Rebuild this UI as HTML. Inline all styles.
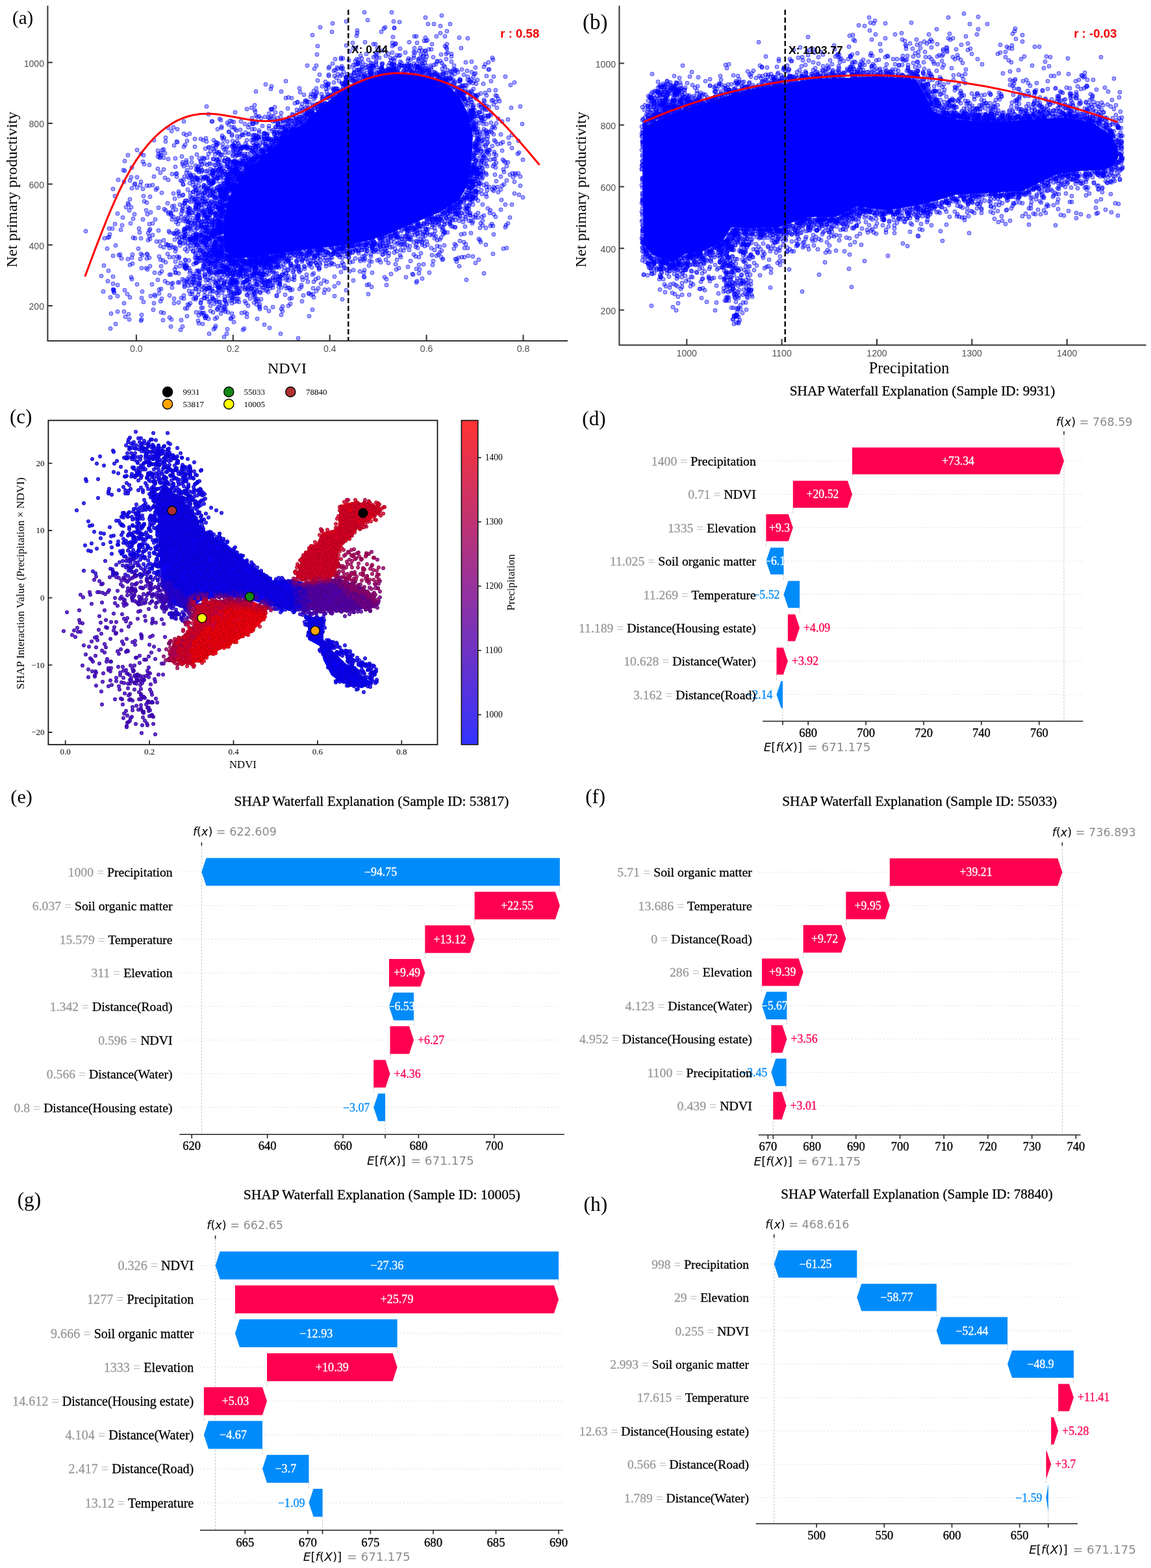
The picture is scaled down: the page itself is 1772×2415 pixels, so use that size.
<!DOCTYPE html><html><head><meta charset="utf-8"><style>html,body{margin:0;padding:0;background:#fff;overflow:hidden}svg{display:block}</style></head><body><svg width="1772" height="2415" viewBox="0 0 1772 2415"><defs><marker id="mb" markerUnits="userSpaceOnUse" markerWidth="10" markerHeight="10" refX="5" refY="5" overflow="visible"><circle cx="5" cy="5" r="3.0" fill="rgba(0,0,255,0.36)" stroke="rgba(0,0,255,0.6)" stroke-width="1"/></marker></defs><path d="M536 133 560 122 590 115 615 112 645 114 670 120 690 131 708 150 722 178 728 209 726 248 721 283 706 309 677 327 641 342 604 358 570 370 533 377 500 381 467 385 430 390 392 396 360 398 346 386 343 345 352 305 370 275 395 250 418 230 440 208 467 190 500 160Z" fill="#0000ff"/>
<path d="M465 403 728 198 706 327 325 359 315 252 334 234 592 113 728 238 417 221 418 411 732 283 424 429 338 250 358 401 302 292 421 225 642 98 730 238 321 416 390 404 665 334 366 250 359 401 301 366 342 415 357 462 336 449 393 411 496 151 319 263 374 259 339 283 595 430 305 369 411 433 340 342 346 326 276 435 367 403 643 105 320 369 344 393 380 254 400 476 232 327 711 107 713 147 317 371 347 328 395 187 328 245 547 117 421 427 220 338 385 439 337 288 332 342 640 350 682 118 428 189 322 320 581 112 531 381 563 377 631 108 441 421 349 413 338 390 378 221 316 331 235 285 469 171 747 166 417 400 745 199 740 229 308 402 196 453 698 335 565 120 657 345 243 241 760 207 199 492 437 198 650 374 363 408 395 398 464 181 569 105 323 443 494 383 397 403 422 207 378 265 402 233 537 93 522 143 589 375 395 405 261 423 392 241 306 339 711 303 284 358 705 320 644 103 353 285 321 406 693 320 432 213 334 379 491 415 396 180 702 330 572 102 357 262 360 291 496 385 624 351 733 299 366 444 436 391 324 314 396 403 303 337 602 93 778 315 718 319 324 404 367 235 729 244 335 274 612 361 402 232 478 149 529 111 364 274 746 163 728 192 409 225 574 371 728 258 331 491 380 227 305 302 317 292 513 148 726 140 373 414 725 299 413 395 371 271 609 67 533 33 327 347 337 465 338 274 375 208 593 42 693 319 631 379 385 248 743 259 723 124 375 435 479 179 700 376 313 310 361 253 329 382 340 388 675 118 437 417 383 206 367 270 535 124 289 319 316 366 304 306 421 200 567 102 281 250 414 232 722 316 521 140 393 409 287 208 312 415 411 412 291 401 726 288 735 232 375 435 340 356 469 414 558 395 323 406 294 343 324 329 285 353 561 117 493 386 325 408 755 348 259 329 569 402 272 267 320 326 371 418 403 427 665 116 688 75 467 168 338 417 462 388 472 177 722 317 724 281 735 208 738 266 537 397 312 393 442 186 647 349 336 336 586 404 345 305 468 410 733 247 433 485 570 114 550 99 489 160 364 438 200 458 321 422 399 472 277 410 436 391 706 125 349 394 204 392 693 320 358 442 647 74 380 263 358 217 321 279 452 199 744 243 636 111 686 121 696 110 409 396 354 422 739 257 338 183 339 385 357 295 697 339 573 420 443 167 330 380 708 122 312 499 717 337 245 395 374 414 589 98 425 213 296 277 729 304 695 95 326 293 299 436 350 276 392 433 284 367 350 281 401 398 346 474 736 146 631 106 667 402 586 113 378 403 490 398 312 482 641 377 488 409 361 261 302 445 748 253 295 372 177 345 680 122 387 404 266 324 339 444 300 344 331 380 248 239 715 153 437 208 217 367 785 269 339 349 345 248 774 219 448 191 673 94 345 282 322 465 349 514 710 361 441 431 743 239 545 112 331 373 711 307 669 367 435 186 357 422 405 220 393 403 337 293 314 244 235 344 605 106 710 149 347 480 333 279 328 281 301 364 760 195 288 368 594 115 728 286 557 116 477 388 730 221 729 178 338 311 293 370 332 435 310 363 305 494 298 363 792 298 211 231 735 204 345 420 333 367 737 190 306 316 306 314 549 55 386 402 355 404 278 374 508 408 762 197 728 169 389 210 354 278 312 387 368 398 383 452 624 364 356 436 296 453 449 187 335 354 701 329 344 296 340 318 633 347 712 155 656 353 699 128 749 303 607 104 361 226 414 413 475 171 309 315 720 382 369 422 430 391 331 440 627 106 278 508 362 287 507 146 390 208 479 397 377 243 342 395 570 101 367 266 319 366 264 202 666 346 335 264 717 334 412 405 543 123 413 440 412 233 618 101 373 402 281 317 753 238 547 100 219 393 724 280 524 384 412 206 681 122 740 373 352 447 343 400 354 260 268 460 437 394 545 106 284 409 729 266 670 356 380 251 320 414 355 491 728 315 409 222 466 189 377 402 310 483 329 326 515 441 673 379 394 209 752 107 394 178 565 382 679 335 359 292 344 325 594 109 381 229 323 335 350 271 294 369 578 68 499 451 332 373 636 354 580 88 369 211 732 295 392 422 598 373 588 105 702 315 722 128 473 175 700 107 288 217 316 310 698 123 278 405 424 222 413 450 562 115 518 120 318 346 532 119 357 295 738 229 439 196 609 68 552 115 228 370 506 105 605 57 622 102 317 213 727 255 368 239 651 86 382 409 304 421 421 217 284 440 432 187 441 201 443 401 704 312 419 395 382 447 412 399 343 381 201 344 390 215 464 392 344 366 717 161 554 379 431 438 348 317 281 325 282 321 424 173 606 367 310 474 328 481 417 216 655 352 519 387 290 327 318 292 447 388 349 314 757 155 230 397 740 181 290 342 377 434 788 315 239 456 798 217 661 420 333 462 348 315 314 486 719 304 350 280 601 365 333 401 716 131 708 313 629 90 438 208 703 329 345 328 720 159 318 381 500 446 319 382 732 230 337 368 734 203 364 282 708 371 689 81 561 114 322 385 738 263 364 267 367 272 315 449 726 298 725 122 776 265 292 206 351 253 237 467 312 374 461 419 328 339 329 303 358 257 488 394 305 340 501 387 407 205 413 181 282 284 291 274 713 143 550 47 788 228 462 142 464 171 316 342 724 186 566 375 286 413 329 393 336 406 182 277 732 196 311 441 588 100 436 186 724 289 708 333 606 99 361 230 407 413 344 325 414 405 749 147 760 361 352 235 576 388 404 424 347 243 367 275 327 352 347 296 298 324 414 479 520 384 657 342 405 229 343 333 307 244 717 143 741 182 727 281 386 401 537 396 421 417 766 288 728 395 366 270 393 406 334 383 535 114 269 306 173 352 373 245 481 176 360 224 772 308 339 260 181 329 372 237 432 215 382 444 402 242 291 309 740 266 294 355 293 453 349 253 670 338 422 403 444 432 359 265 655 363 731 226 305 351 376 263 391 407 673 342 461 188 301 426 367 221 425 203 584 111 612 366 322 347 285 313 300 434 341 396 371 401 526 128 294 343 734 230 516 108 413 441 799 300 300 374 468 146 602 422 590 373 409 399 400 407 282 300 395 433 566 120 390 398 658 377 230 364 598 101 328 302 785 335 706 311 377 464 552 107 312 243 338 367 517 140 382 257 724 283 745 210 700 325 255 404 356 449 515 117 736 296 301 445 543 389 381 403 476 452 342 378 331 361 644 347 382 257 730 114 280 241 328 225 509 397 523 380 513 391 351 413 368 276 505 388 312 328 511 148 552 387 284 410 329 216 616 95 629 366 428 403 727 259 370 271 642 108 270 420 315 311 691 325 571 115 599 360 699 383 624 370 355 402 442 401 346 301 426 456 395 222 498 385 486 404 709 143 444 426 355 410 376 406 708 319 333 223 360 496 336 357 649 110 481 161 483 434 372 251 341 367 301 288 648 390 308 279 745 241 334 388 372 403 327 283 356 279 329 379 632 92 695 87 379 407 343 373 775 261 626 107 514 143 511 405 433 393 383 260 364 431 361 271 330 468 571 97 404 419 804 191 388 182 310 342 431 426 321 407 451 391 391 450 288 262 398 404 337 397 778 350 487 393 431 435 374 228 265 268 562 385 345 473 324 447 523 392 463 189 332 414 729 198 718 431 662 362 692 325 301 273 370 424 494 383 293 417 298 422 353 396 669 112 728 170 321 317 643 360 645 408 251 401 349 278 461 170 575 387 333 355 403 243 332 386 289 380 294 270 496 163 665 361 398 237 481 175 540 123 693 121 247 379 692 120 715 150 351 281 263 328 177 302 708 319 590 110 292 321 736 179 778 250 714 115 431 427 324 295 590 109 714 310 327 343 344 410 742 248 379 402 470 184 349 410 440 389 374 426 661 109 392 423 343 289 556 114 434 213 424 187 633 369 337 320 428 410 532 413 326 282 734 272 305 260 390 191 633 101 681 350 763 334 740 344 369 273 427 394 729 194 698 319 733 152 323 414 362 241 370 263 756 201 370 421 441 190 572 378 505 392 357 483 635 422 623 104 722 328 371 187 734 262 678 40 568 409 408 431 325 361 304 404 363 411 437 209 762 245 387 166 593 363 346 264 406 239 493 385 321 389 737 287 348 229 301 392 395 250 338 410 565 375 450 430 377 481 425 396 406 395 500 393 311 253 392 237 428 192 355 258 485 147 681 400 335 399 359 450 313 332 688 324 385 408 736 214 656 63 433 396 271 420 471 398 408 418 560 420 342 328 537 132 703 108 698 135 347 268 307 423 728 175 287 250 334 330 487 144 584 400 322 443 619 364 409 230 570 114 365 405 440 398 645 421 393 414 372 270 477 391 645 372 404 433 428 407 471 185 450 176 340 388 336 380 742 172 523 383 572 119 283 364 671 337 540 116 748 244 678 51 334 393 353 401 347 476 356 431 344 305 302 318 391 411 578 385 428 426 450 389 575 88 714 153 728 245 383 405 341 353 402 241 773 232 467 183 251 493 805 304 380 423 277 340 585 377 363 258 434 211 726 293 341 286 604 71 429 449 395 469 402 406 357 225 467 395 297 304 728 171 741 247 321 336 388 245 359 289 465 187 346 461 427 398 298 270 737 215 343 326 506 149 393 419 237 216 512 382 302 397 689 108 300 397 364 434 481 390 390 245 281 503 574 101 776 248 723 144 336 473 501 131 555 86 406 235 381 405 341 297 377 405 362 286 395 215 359 436 740 144 368 278 249 460 313 387 387 445 737 173 564 108 572 116 258 313 528 134 340 327 363 403 394 221 353 248 588 371 706 315 362 267 660 108 168 352 380 406 740 161 799 235 751 235 712 337 415 401 355 421 348 467 359 424 487 385 608 108 721 288 543 403 622 373 330 358 448 200 734 215 309 350 769 156 600 107 726 162 309 248 378 417 435 207 340 333 372 227 351 416 521 393 373 402 288 387 521 436 272 272 567 92 610 415 673 95 187 398 392 234 317 440 259 197 275 398 476 386 641 414 344 273 402 244 773 286 513 145 763 139 314 285 362 199 632 365 458 389 365 261 213 383 385 460 359 424 355 286 613 374 682 399 340 351 399 215 284 363 581 383 192 447 359 488 528 378 527 141 411 214 398 245 562 65 514 387 711 133 341 391 335 341 271 383 767 183 457 169 443 193 703 399 347 410 459 409 680 386 732 268 411 213 361 457 530 387 746 156 295 305 447 406 339 287 275 357 343 303 346 400 429 442 727 288 334 223 375 248 520 382 586 372 472 185 410 217 506 135 307 429 357 209 286 414 337 339 404 435 397 435 414 213 393 411 380 431 354 422 373 226 609 363 733 129 156 425 283 277 453 427 613 365 176 451 621 109 364 201 527 381 324 326 725 149 343 318 397 419 178 378 389 412 340 301 532 127 314 289 379 255 444 401 342 313 372 253 623 102 287 266 414 194 480 176 626 353 435 392 362 434 382 196 405 423 657 87 218 459 380 454 433 391 420 428 329 449 312 301 735 260 751 219 407 401 728 189 544 74 702 378 421 402 447 194 405 443 771 207 334 220 346 387 340 394 472 392 504 146 544 432 723 286 362 452 359 421 395 426 346 292 551 378 301 431 401 451 362 419 490 428 565 386 303 238 307 381 369 450 318 457 327 187 657 108 338 292 622 109 273 395 407 205 506 115 375 253 348 403 335 389 234 438 320 431 324 252 301 371 359 238 324 355 364 403 492 405 387 252 705 335 211 438 415 228 300 214 297 425 384 430 400 474 472 399 731 222 394 141 359 279 247 242 465 464 743 315 273 199 362 220 460 417 306 398 461 136 308 386 722 175 634 362 392 169 336 348 351 246 250 231 332 254 320 350 260 356 499 401 297 285 333 392 390 254 640 101 388 233 618 356 328 282 340 354 352 289 753 178 596 107 685 71 562 374 331 405 733 267 681 125 359 262 392 227 744 191 507 103 365 239 710 145 396 243 322 347 345 384 331 336 386 247 336 349 411 208 758 292 197 399 327 448 598 367 171 483 348 291 691 323 700 126 485 385 738 209 684 378 341 344 756 189 688 48 359 433 689 123 230 355 469 388 692 325 192 248 355 416 675 341 304 336 302 281 427 399 318 314 321 491 547 386 725 266 382 471 304 362 656 83 506 390 380 224 589 108 449 202 681 106 340 185 753 165 338 324 341 431 339 296 422 218 303 313 460 410 721 303 478 387 352 284 325 389 326 405 291 427 385 397 317 311 285 475 351 394 364 249 550 108 463 188 396 236 330 365 343 379 361 408 424 400 415 434 347 299 332 382 367 229 759 348 313 274 727 304 558 103 353 268 341 238 409 438 665 338 644 113 473 390 383 244 601 109 392 402 303 417 601 363 459 521 630 385 379 426 737 173 694 318 396 406 328 393 582 388 349 269 346 435 691 120 361 465 303 365 444 416 718 305 735 222 637 89 568 438 429 218 378 256 369 266 475 452 399 224 487 448 351 257 704 328 346 307 357 292 427 392 338 333 404 234 743 222 549 91 335 301 394 402 527 129 462 180 540 117 789 267 458 157 265 443 348 291 435 472 724 332 283 256 215 358 551 124 360 404 493 42 367 424 544 121 243 232 624 353 746 167 474 392 453 431 370 247 657 338 353 394 726 282 400 222 327 355 736 335 712 135 275 298 471 176 383 250 342 471 516 387 741 233 726 157 353 267 513 136 478 385 561 381 392 415 276 302 226 391 358 459 288 327 707 410 322 227 571 107 554 124 400 422 513 138 376 401 749 191 750 214 693 130 467 455 392 399 302 261 368 449 336 319 716 300 638 114 280 323 571 113 275 466 409 397 476 487 380 433 431 401 358 291 356 407 529 407 555 402 442 185 579 100 321 341 744 129 354 302 358 240 695 135 426 397 301 317 307 364 289 292 792 127 384 404 696 337 718 317 485 394 492 115 368 224 459 184 445 181 499 160 684 356 684 346 338 429 330 377 349 390 283 226 688 68 450 446 266 381 338 237 316 377 482 177 691 334 483 421 496 163 528 383 362 267 641 56 326 268 367 460 309 289 328 263 293 270 339 393 341 357 701 135 517 391 273 219 689 358 291 328 329 343 340 371 729 231 709 123 357 267 707 134 399 400 598 376 310 346 744 264 737 368 350 416 347 394 608 383 254 236 377 237 222 310 401 407 352 203 424 432 549 126 409 206 310 391 327 363 717 376 603 107 558 96 735 235 440 151 370 419 327 266 200 278 305 261 342 386 341 302 302 405 457 191 677 121 571 373 389 189 382 207 382 255 598 108 709 312 252 381 365 450 492 159 612 111 629 104 688 128 766 222 407 402 551 99 533 120 386 254 320 290 409 411 744 160 358 429 430 412 374 251 687 83 750 234 780 256 625 363 325 324 523 140 367 230 361 280 387 216 345 212 620 376 364 236 350 507 395 464 313 392 437 186 336 442 699 101 430 403 484 106 342 358 671 364 363 255 762 269 392 399 424 422 603 107 340 344 353 396 327 346 725 290 309 258 661 115 489 164 309 372 295 273 359 437 557 103 736 328 339 390 757 345 602 372 667 88 650 377 792 280 340 380 503 151 344 215 742 166 736 231 415 228 330 374 332 318 346 306 514 127 365 252 393 242 160 409 573 110 237 272 333 333 402 396 548 127 301 390 274 336 717 142 292 353 319 356 647 113 343 427 712 142 580 83 341 294 356 289 345 230 301 322 306 286 327 360 695 83 722 289 604 99 447 409 496 385 641 344 389 231 681 327 321 397 730 180 652 407 340 383 351 245 759 256 411 401 323 432 350 295 483 458 527 383 339 377 730 266 327 346 517 387 731 296 401 236 654 109 284 337 651 102 330 265 217 280 503 388 576 375 543 388 547 121 336 270 404 194 342 309 407 432 684 120 477 176 338 358 687 121 391 224 395 189 750 206 590 366 430 218 313 376 321 324 249 418 298 460 682 111 334 451 329 229 652 346 303 293 688 323 708 147 330 408 801 164 317 372 729 276 651 361 451 177 669 351 457 388 342 209 691 341 479 405 735 123 763 147 353 416 558 123 342 354 335 352 534 391 379 249 372 411 563 100 313 216 296 449 479 145 329 245 627 351 407 213 720 288 259 245 335 288 713 342 301 306 238 420 340 397 541 379 638 351 252 243 366 421 744 266 200 307 403 439 402 402 575 104 548 74 328 340 399 229 518 146 375 270 340 402 392 208 360 424 614 105 355 251 370 267 388 257 408 214 350 282 412 215 455 191 323 428 314 370 332 219 538 103 589 392 439 203 727 194 277 315 382 437 336 443 678 349 470 166 281 253 725 263 510 146 752 96 457 185 672 113 339 322 606 69 489 71 335 442 414 215 482 146 336 447 338 244 346 423 207 284 356 435 439 399 473 182 347 311 388 255 493 400 460 184 725 270 290 322 373 399 320 364 513 391 644 343 727 279 256 376 352 294 415 416 362 431 346 293 732 294 725 153 376 403 605 113 350 253 310 273 227 415 332 360 547 398 322 419 489 167 735 272 504 381 627 356 650 78 728 264 324 233 361 432 217 494 587 384 447 447 735 213 759 391 365 402 408 407 631 369 451 391 455 190 340 321 302 481 342 319 422 395 387 409 682 352 435 193 379 264 374 226 632 402 283 206 328 264 487 136 723 177 543 379 392 418 552 108 650 98 525 105 653 63 371 435 417 137 284 442 647 358 325 387 399 422 303 352 700 129 745 332 341 260 633 113 226 312 330 361 297 431 339 292 733 198 323 327 728 173 165 383 365 464 690 124 465 392 450 201 679 334 733 284 668 37 462 189 352 192 680 340 344 478 231 410 732 249 489 383 317 412 433 392 481 391 611 376 321 417 338 346 355 289 705 146 679 84 351 398 531 130 765 148 427 411 424 211 336 249 458 395 288 487 539 404 666 342 397 225 659 353 716 349 742 299 732 260 758 196 483 402 285 356 704 323 384 405 306 265 473 101 738 283 419 202 401 431 374 400 480 169 393 213 664 343 181 456 351 292 342 409 343 270 265 318 600 97 637 80 239 338 717 156 315 298 318 396 292 267 337 319 404 399 405 398 502 406 236 477 359 459 403 410 310 382 374 405 351 278 611 85 687 335 371 420 612 365 748 226 319 367 333 432 771 292 320 310 354 463 339 290 342 302 344 379 633 104 316 287 174 446 298 368 588 366 284 412 700 324 672 337 459 194 529 380 461 391 337 306 443 200 486 405 341 353 342 370 546 383 740 282 759 154 583 117 398 211 733 305 399 179 344 301 323 282 353 305 235 362 258 391 271 342 396 242 479 454 360 279 243 260 302 299 335 275 707 340 351 481 453 200 679 396 319 355 359 403 723 331 673 119 378 444 640 356 405 421 412 214 642 354 372 407 393 397 565 387 726 278 721 394 415 505 371 253 242 290 333 385 321 394 623 376 675 339 429 396 662 342 562 118 633 110 750 203 481 174 339 269 482 453 300 288 315 422 421 404 454 388 374 439 407 407 189 335 316 356 316 489 303 314 382 252 682 361 414 433 321 227 322 318 513 389 335 320 721 292 413 433 167 417 336 381 652 86 356 283 438 392 336 455 782 184 734 219 419 412 387 399 357 295 495 161 343 343 287 408 288 433 322 302 330 329 489 168 731 147 289 360 610 366 316 392 226 398 227 330 596 362 407 435 700 114 307 375 669 111 472 177 352 246 359 285 448 406 383 247 425 412 389 244 292 282 585 117 692 345 307 326 365 217 498 393 411 406 409 405 732 104 747 183 728 198 729 225 402 402 519 104 330 272 421 214 407 442 732 405 349 277 495 166 320 271 249 297 740 273 395 402 268 317 321 275 743 273 753 107 321 287 316 381 297 336 394 244 392 429 505 390 617 396 603 99 416 401 372 229 289 341 533 133 327 460 316 331 319 334 596 378 333 332 377 404 569 379 334 316 331 331 392 247 579 94 365 437 368 465 288 475 285 309 464 442 418 179 451 201 665 334 314 409 407 411 627 99 301 293 331 305 383 259 313 305 726 265 366 410 283 432 384 258 503 141 520 410 345 264 742 185 409 474 624 353 466 177 593 390 571 374 680 24 740 268 430 214 377 434 403 402 365 276 398 464 374 247 715 306 724 179 719 153 307 307 606 33 407 436 703 315 730 125 339 310 359 422 617 378 539 389 403 401 264 492 729 146 301 405 399 421 361 416 392 213 610 106 621 386 345 373 567 453 649 92 394 238 708 124 464 399 344 413 510 392 726 95 611 387 417 214 652 344 717 96 733 294 794 269 336 304 609 358 481 170 544 383 407 399 352 258 334 245 492 389 408 240 316 272 596 115 732 224 183 393 331 305 324 381 270 257 725 172 181 439 314 399 552 385 415 399 342 322 403 404 313 306 337 392 601 381 263 330 379 422 469 411 330 357 579 377 453 424 725 278 432 514 319 304 434 206 685 341 423 431 330 346 436 213 334 412 569 119 264 437 387 399 288 254 749 233 253 322 406 233 652 357 328 297 309 467 378 258 335 199 344 259 281 430 389 424 386 250 300 226 326 311 462 388 677 337 458 411 264 332 650 106 374 267 743 216 684 359 489 169 568 115 536 378 327 364 646 105 728 169 464 439 407 403 337 234 402 395 630 65 360 453 328 355 315 350 561 427 329 355 375 267 640 112 704 144 244 237 360 289 650 349 354 186 358 250 325 395 328 412 332 262 607 107 354 435 745 421 389 454 323 359 644 348 355 291 365 263 551 98 371 270 725 359 342 315 671 343 551 96 348 318 569 374 328 460 317 393 360 405 730 239 192 263 245 452 801 286 271 268 655 27 305 394 664 117 363 271 655 92 412 434 607 359 431 394 312 367 174 394 735 179 484 394 342 392 407 500 411 225 360 188 296 276 362 402 504 131 468 179 326 328 366 227 749 288 527 139 735 276 297 362 441 444 333 373 458 158 443 191 225 324 371 428 724 277 358 398 258 436 286 367 404 447 491 385 438 211 248 445 328 314 502 137 751 178 548 385 337 261 343 266 351 274 360 196 411 420 389 245 204 406 647 348 576 372 693 37 315 403 340 483 672 394 706 147 380 260 707 140 356 397 734 176 342 316 221 239 343 400 523 396 398 230 418 399 528 90 696 131 306 332 333 399 659 115 545 113 330 386 732 224 395 248 474 434 395 447 604 380 598 394 740 165 446 394 232 456 653 344 557 385 321 368 365 267 385 420 311 325 363 248 315 455 408 180 324 279 570 109 552 376 678 94 315 296 220 249 425 393 286 341 379 226 424 196 362 410 739 351 725 262 389 256 200 408 379 261 514 139 732 331 476 406 230 286 332 354 349 394 497 152 655 78 351 285 306 263 323 369 302 459 669 114 331 337 741 185 439 198 711 132 380 216 693 322 594 86 436 210 341 375 373 207 584 89 324 325 350 413 387 444 389 220 420 436 304 257 734 295 646 111 324 289 241 372 736 309 440 125 318 335 342 347 321 368 377 253 305 454 444 403 334 375 280 369 293 297 344 437 322 341 556 377 407 232 713 132 364 254 710 148 205 337 738 283 306 486 319 243 388 427 577 375 641 371 413 413 281 301 365 460 443 204 416 407 411 403 533 70 730 257 703 141 367 424 469 178 248 410 395 400 377 446 402 422 416 431 347 389 412 404 486 430 490 391 345 299 354 274 719 326 267 359 341 478 429 218 324 415 298 387 657 372 374 422 312 360 290 434 539 379 587 49 638 357 275 421 650 106 335 403 339 419 609 101 575 372 733 236 346 283 686 112 371 411 658 336 591 44 396 439 731 208 652 93 317 375 485 383 595 382 423 217 437 204 490 385 424 221 605 360 357 196 401 403 388 199 345 384 729 166 170 506 441 202 302 321 515 137 258 377 324 386 737 400 305 385 321 335 557 385 297 296 336 360 331 402 729 280 294 383 311 446 617 385 337 355 430 437 536 392 198 315 333 422 285 400 320 299 738 258 356 405 637 373 727 310 608 89 559 399 310 310 510 392 292 331 387 407 437 395 361 248 693 327 366 452 305 314 429 205 284 352 732 200 526 115 274 435 701 109 708 310 393 250 342 266 298 371 504 150 245 446 324 300 470 157 287 352 166 433 305 298 437 204 361 264 433 174 386 231 367 409 657 338 379 228 371 275 391 254 327 386 665 350 357 401 308 428 506 129 346 248 323 313 420 397 294 348 387 242 370 274 364 418 268 467 318 350 359 231 339 369 544 100 437 424 444 471 330 233 557 374 300 340 748 201 303 276 473 157 606 363 385 403 671 335 533 118 317 264 536 390 593 384 334 313 738 203 583 112 356 267 238 454 683 101 640 343 592 427 413 231 470 155 277 373 312 371 456 409 718 132 746 240 273 365 456 184 624 81 780 278 339 264 612 112 342 348 309 362 555 375 318 366 359 284 730 260 722 170 389 441 396 397 280 279 402 409 398 211 357 399 684 127 356 440 584 367 504 401 737 162 460 183 332 502 418 133 646 90 324 471 442 391 724 307 363 287 415 408 538 392 725 180 554 418 660 335 351 399 645 396 316 401 415 223 642 66 340 272 333 406 396 406 428 190 299 343 673 333 398 414 261 396 185 392 714 146 627 368 530 413 706 397 342 290 351 407 409 130 474 404 342 212 427 213 456 402 615 103 678 329 306 426 343 334 677 120 483 165 333 465 430 217 767 152 644 364 314 286 344 371 341 301 315 323 787 166 339 331 406 211 750 293 706 148 561 19 699 324 628 411 698 107 696 317 554 399 718 307 699 133 338 442 444 443 357 467 705 111 443 415 551 117 417 228 339 298 328 429 330 291 418 396 285 374 720 118 385 399 735 251 348 281 340 298 340 393 324 409 580 103 303 275 331 358 381 261 588 387 740 250 693 110 492 160 360 407 373 401 347 235 170 458 750 169 640 380 335 246 303 377 356 416 608 361 571 392 293 303 364 446 751 210 680 97 305 417 349 297 317 357 312 371 279 329 329 384 606 104 347 442 309 214 299 378 364 444 343 227 514 385 420 187 316 426 331 505 367 260 572 379 475 388 314 459 341 383 677 389 618 354 341 195 362 263 646 354 314 325 726 157 300 369 399 403 302 405 496 382 747 224 604 102 272 218 276 396 301 255 353 399 525 379 415 404 324 479 742 247 393 245 420 443 407 214 771 221 678 338 267 396 355 402 175 449 414 407 392 401 749 269 534 120 294 439 675 334 685 103 527 461 403 397 324 421 350 425 717 323 717 296 608 112 712 140 721 155 755 324 455 414 514 407 433 395 328 362 392 459 722 300 318 344 319 445 654 379 394 230 764 279 328 368 357 288 358 284 546 128 630 99 365 239 435 423 353 450 342 306 323 266 342 446 270 360 369 416 203 430 384 192 379 254 341 384 725 169 526 387 309 250 263 423 336 346 377 226 339 343 589 78 313 409 347 464 706 140 344 278 706 143 315 297 226 286 562 378 328 270 729 334 333 259 356 438 311 364 382 431 369 236 438 195 375 248 630 351 305 321 354 445 426 421 285 384 577 376 398 212 321 281 749 117 522 125 299 311 780 382 346 411 328 278 599 390 437 208 272 355 424 185 711 148 277 378 372 482 252 370 447 468 550 111 417 168 284 437 495 156 247 400 602 110 631 352 749 205 297 387 336 363 384 406 350 299 208 283 323 439 244 355 405 237 598 83 736 198 505 129 503 132 473 162 393 172 779 347 425 393 371 416 345 247 296 435 313 326 286 334 379 243 341 197 393 453 710 74 438 202 492 413 782 344 422 204 307 419 329 507 732 335 317 275 583 116 687 91 668 361 351 277 352 280 326 375 393 397 186 354 543 379 283 455 284 272 427 436 333 437 383 261 279 493 745 215 308 398 294 351 277 361 510 406 719 297 336 236 391 466 477 175 595 387 159 449 477 180 338 377 603 99 728 285 466 182 618 376 744 180 726 142 345 293 379 432 259 378 639 362 294 374 304 397 737 268 202 319 338 256 579 81 638 74 746 233 412 226 643 382 361 287 370 399 693 342 453 195 724 126 346 433 729 183 625 427 518 140 304 332 391 452 331 350 218 492 737 225 394 225 301 376 334 340 297 280 417 184 645 345 270 403 602 366 306 318 566 31 366 252 221 465 551 376 356 268 493 382 730 190 344 323 310 385 290 440 381 263 382 414 573 382 572 112 289 272 479 171 590 113 360 251 350 305 564 380 731 255 332 357 310 358 751 321 381 455 606 106 760 245 480 384 665 338 435 392 381 427 728 164 665 68 278 278 500 160 657 353 662 113 396 449 710 144 435 213 484 397 704 330 244 320 336 352 420 439 764 190 308 481 358 254 662 338 745 103 246 421 648 369 525 383 643 103 739 173 439 203 366 280 727 263 528 137 337 342 757 204 724 270 712 149 208 367 375 435 322 252 356 273 650 98 330 361 466 431 685 345 615 34 735 261 286 401 525 409 430 203 484 396 376 414 430 432 435 479 748 377 349 256 483 153 266 436 340 303 433 410 447 203 306 256 453 411 400 469 728 201 312 474 730 226 356 406 729 263 415 229 690 329 340 387 412 231 457 174 730 195 385 228 477 385 335 419 348 399 391 404 317 446 725 183 353 396 431 430 350 283 472 423 327 262 727 344 296 328 533 379 301 373 311 305 446 389 644 93 414 198 336 346 529 381 526 106 729 176 335 477 351 281 409 440 725 181 419 227 668 100 284 407 405 237 363 267 734 149 588 98 371 273 488 84 339 350 345 415 530 130 674 118 294 258 685 56 476 409 366 408 481 423 364 435 298 367 659 37 381 257 501 159 429 426 314 406 418 228 651 364 263 503 633 354 336 346 379 248 664 107 729 200 367 277 679 366 282 375 358 288 448 412 343 408 728 128 320 400 323 390 342 440 327 458 727 306 633 111 761 216 288 350 315 392 643 372 321 393 368 255 326 187 724 328 616 393 378 268 367 251 272 338 474 173 314 443 320 330 603 19 324 326 454 190 169 361 269 381 683 113 353 404 314 316 283 187 394 461 357 458 335 272 246 243 381 445 340 328 519 381 485 150 358 226 330 254 319 254 661 112 428 409 640 395 725 308 321 369 309 466 512 98 547 377 475 393 305 277 243 431 502 410 501 159 370 266 338 312 174 291 328 279 722 322 525 91 365 210 633 347 743 340 741 217 414 175 318 444 376 506 482 444 340 348 339 419 351 456 332 389 527 381 168 365 542 125 345 519 720 59 340 379 359 262 744 187 703 403 713 306 601 89 615 372 755 246 292 420 339 369 425 411 434 397 400 399 337 395 359 273 697 349 394 399 349 420 763 157 728 341 330 434 341 303 442 428 489 390 455 182 416 444 723 280 583 108 384 399 432 207 299 307 427 182 564 391 352 269 449 198 334 364 708 321 318 273 639 81 688 329 451 419 636 423 444 183 646 415 573 98 629 101 306 449 634 348 585 369 316 490 330 276 230 345 323 359 323 372 465 160 395 209 340 413 298 295 279 459 778 118 261 382 701 318 294 429 426 204 228 359 320 402 664 382 360 248 255 324 321 321 726 273 254 274 377 191 486 148 622 113 339 257 732 275 669 385 362 273 542 377 416 229 574 385 692 322 409 225 413 398 602 106 428 196 421 225 458 194 514 109 349 434 314 482 417 406 302 274 605 91 305 366 419 229 729 260 685 358 287 309 343 405 588 365 750 256 340 423 421 179 684 327 551 378 618 97 452 196 284 314 344 418 314 415 328 321 357 429 726 182 357 290 301 381 570 112 324 260 736 268 408 222 415 394 318 275 322 361 527 397 642 360 338 343 783 212 315 459 598 109 744 203 351 443 775 383 612 108 753 288 805 246 756 177 681 355 314 289 734 258 731 289 579 385 219 449 494 437 463 416 371 272 359 258 365 432 732 301 322 514 645 105 366 452 423 403 326 384 753 139 749 283 664 104 417 224 275 295 639 353 760 330 767 296 398 240 372 269 685 126 475 176 334 391 491 413 727 254 488 142 364 260 419 219 516 91 294 368 252 230 449 389 485 167 600 110 333 397 357 275 395 214 373 411 319 401 552 390 405 231 318 391 753 203 346 287 515 389 349 270 655 113 627 360 729 271 380 260 748 299 293 365 374 508 510 149 761 253 315 341 716 136 745 285 291 329 315 426 411 399 362 398 296 327 461 445 358 402 301 363 399 204 329 401 255 212 174 437 525 89 394 411 319 377 307 436 348 299 202 273 301 319 331 411 724 298 351 395 615 112 247 236 401 427 415 403 190 262 529 388 334 274 630 108 346 463 326 366 336 434 336 356 407 423 375 416 715 396 314 398 358 289 358 397 394 411 324 405 399 201 550 51 341 263 392 162 760 118 533 447 625 112 632 101 701 399 307 346 351 304 701 320 336 252 732 113 392 421 575 102 445 390 738 218 380 488 392 199 374 425 331 391 406 206 356 287 650 429 381 242 356 266 216 399 561 401 354 397 260 327 354 272 752 180 651 109 392 414 736 266 385 227 764 251 715 360 191 280 324 294 345 293 335 370 368 276 331 390 402 417 495 165 472 428 326 402 724 184 336 327 733 228 426 455 331 238 639 104 456 195 730 174 424 221 338 443 523 387 722 340 362 289 457 185 573 382 326 341 301 360 475 166 729 253 356 430 301 349 503 434 336 359 339 368 247 266 519 380 295 250 532 124 368 398 433 443 318 293 743 347 572 442 188 347 749 163 369 410 259 277 394 245 175 446 336 221 305 378 338 370 364 268 526 102 339 431 330 349 453 393 341 255 393 399 457 403 265 338 719 300 589 379 291 448 341 356 687 336 310 296 315 329 303 334 330 351 329 390 581 375 421 410 279 334 730 245 218 413 615 100 543 66 203 397 539 386 676 115 604 66 289 469 380 431 314 273 280 365 337 339 710 328 293 348 267 334 337 418 384 416 418 400 351 294 379 467 220 291 399 442 181 480 341 322 622 101 434 399 311 347 322 352 418 169 715 321 423 206 741 254 546 125 410 424 364 260 357 262 732 219 405 235 306 369 574 370 271 411 402 211 563 377 321 444 726 171 381 416 454 159 380 256 414 401 425 404 572 403 574 379 495 145 572 386 350 226 727 177 292 321 421 395 525 419 412 440 431 207 341 392 327 421 449 409 714 161 627 354 415 397 417 411 746 178 728 257 547 94 731 170 318 164 199 324 384 434 594 109 742 275 685 324 497 386 584 377 332 329 345 436 353 437 400 450 607 373 597 370 358 409 356 452 389 191 374 269 231 368 652 369 377 442 750 221 587 114 533 120 359 266 304 377 306 333 669 345 302 361 328 266 701 339 693 344 312 363 740 240 708 311 728 260 341 333 557 107 575 68 533 395 635 111 342 451 760 161 369 259 345 293 708 143 607 389 283 354 546 128 417 440 619 368 362 173 614 413 395 397 411 395 726 295 471 385 449 459 476 176 574 382 654 79 482 163 334 304 349 287 402 403 347 320 488 408 645 78 618 368 756 174 369 416 318 359 339 357 627 351 388 419 559 118 524 142 711 396 714 313 584 115 725 340 334 290 731 279 721 141 306 331 403 397 309 348 351 306 557 381 682 123 714 153 355 406 538 79 166 366 528 105 459 395 326 396 231 303 733 147 511 382 727 195 301 461 616 101 697 330 630 368 489 124 408 239 339 440 538 418 749 247 267 298 564 374 432 214 330 462 338 419 332 420 378 204 329 281 444 186 387 403 282 284 507 400 584 366 312 341 383 253 557 90 758 225 664 76 352 429 760 294 468 392 334 476 371 445 343 336 310 343 341 292 352 398 552 119 386 236 311 262 401 245 501 126 290 342 687 124 726 267 483 140 327 269 411 446 203 290 317 432 384 414 337 418 546 378 511 49 715 382 323 331 307 397 741 269 449 186 345 294 388 398 348 317 537 388 350 399 305 333 361 225 771 323 652 105 434 423 410 448 283 460 348 412 644 102 760 288 334 353 419 418 288 412 493 390 705 135 624 381 202 427 351 271 227 392 720 163 286 361 747 143 605 109 575 115 316 406 694 121 287 247 386 408 449 151 694 113 362 227 193 488 393 245 405 397 377 240 349 469 337 443 415 231 161 367 340 312 532 379 678 116 339 359 381 237 292 339 696 116 771 272 389 255" fill="none" marker-start="url(#mb)" marker-mid="url(#mb)" marker-end="url(#mb)"/><path d="M604 81 579 96 729 241 310 401 609 407 729 162 520 106 463 389 289 352 344 377 421 393 562 398 422 216 319 295 565 439 198 484 328 280 465 401 339 295 331 308 546 376 310 462 416 410 758 89 383 398 371 257 733 247 273 359 395 413 324 464 520 137 291 324 331 375 506 446 648 84 406 405 472 155 361 400 338 387 311 315 719 304 389 228 337 388 339 351 445 205 650 112 512 36 387 250 494 164 325 364 459 387 493 395 392 440 454 388 334 419 300 308 300 440 317 360 401 403 342 349 370 267 729 198 585 380 616 85 355 249 322 417 405 218 489 160 361 416 321 176 330 390 730 236 560 426 435 429 589 392 321 399 506 117 395 429 585 366 773 187 440 421 568 121 763 258 656 101 624 110 369 399 402 425 382 259 520 114 349 276 724 290 263 378 330 356 336 436 344 284 194 319 431 437 358 275 736 278 336 348 389 249 289 374 364 256 551 386 658 359 658 62 332 314 730 279 330 384 696 124 343 333 683 329 501 388 690 329 393 225 368 400 411 209 460 414 369 274 444 204 326 445 371 250 191 467 676 121 362 234 724 171 515 456 564 104 482 174 336 322 703 315 327 295 487 101 748 267 339 342 359 223 774 246 326 321 408 404 598 405 364 285 338 335 557 109 654 358 311 263 287 410 359 233 403 244 346 457 284 312 404 232 545 112 353 410 344 308 655 58 607 94 735 244 306 362 217 237 687 73 379 411 360 249 283 357 240 292 441 204 333 293 640 102 724 149 261 455 356 404 729 286 396 421 404 243 261 489 588 104 261 358 464 165 339 326 559 121 665 115 612 359 687 123 218 485 293 311 681 330 628 101 637 86 611 400 334 489 320 341 252 261 303 262 345 317 575 378 341 320 302 330 531 127 318 336 647 108 291 470 790 273 293 367 630 356 764 239 269 369 225 413 333 267 518 136 391 421 402 433 445 199 607 43 368 451 333 294 479 389 723 306 708 126 737 281 354 283 365 278 409 394 748 169 347 300 331 406 270 387 430 196 318 218 354 287 191 480 390 245 377 264 672 115 314 388 446 444 449 186 714 153 363 423 306 498 230 254 714 373 497 149 672 56 332 227 663 336 328 275 308 432 709 148 252 482 754 328 732 190 589 107 363 286 370 233 313 373 372 208 350 218 720 321 393 446 677 380 628 93 350 307 607 43 562 120 211 289 246 372 709 309 595 439 293 467 292 369 461 180 704 142 344 419 332 368 322 367 452 417 739 206 496 133 472 394 707 332 433 141 361 281 390 252 395 437 754 231 741 180 763 218 333 394 703 138 339 465 786 131 360 452 396 491 318 323 714 151 542 378 458 401 385 425 465 427 693 134 387 254 354 400 370 414 719 321 499 432 444 182 439 440 657 105 395 421 378 408 318 378 271 323 446 460 231 353 588 366 302 401 517 137 480 412 358 262 677 369 486 161 345 293 343 352 671 99 336 262 761 237 305 324 306 338 307 296 409 407 178 499 276 373 730 267 306 417 732 148 466 400 341 239 569 112 339 351 339 403 730 180 576 116 673 370 473 169 670 115 739 370 561 416 267 196 362 402 698 320 481 477 335 342 751 231 321 277 345 396 367 426 293 378 384 407 515 426 371 239 420 402 637 392 660 76 319 460 314 336 326 300 342 355 324 394 356 490 334 424 255 218 394 212 684 328 327 401 675 392 797 237 350 413 439 454 665 393 345 307 305 442 594 111 716 330 326 380 349 305 307 387 345 439 428 430 644 91 504 149 384 259 452 198 421 222 331 374 270 244 300 355 311 350 334 395 728 303 733 224 680 339 727 187 668 339 734 187 405 422 414 422 312 413 706 140 314 330 426 216 303 360 325 310 370 229 342 388 341 358 304 274 360 415 338 324 387 257 586 105 328 298 402 461 342 418 478 172 477 182 642 109 554 97 295 243 478 407 433 196 351 268 444 401 326 419 425 408 372 417 299 366 483 175 412 235 307 312 729 262 641 350 338 471 364 443 581 74 720 123 507 152 637 352 354 437 398 401 318 335 339 366 610 358 784 221 402 182 627 378 358 435 358 293 416 216 736 222 532 133 444 200 594 400 217 391 388 186 510 381 776 284 428 192 452 183 310 357 638 56 268 360 426 391 728 305 654 112 380 261 473 172 407 412 355 394 349 312 316 351 357 432 574 102 643 344 381 227 318 366 221 302 476 157 347 416 628 358 305 344 316 350 419 168 353 203 320 355 375 240 701 350 333 247 385 401 315 398 481 54 333 391 351 423 349 394 416 399 742 334 301 310 268 224 595 378 395 397 724 312 448 398 326 395 345 418 396 460 451 199 343 367 331 359 490 444 378 420 647 99 315 366 436 205 561 394 631 351 399 408 736 216 352 444 578 86 725 269 801 272 350 290 535 386 526 392 248 481 328 395 355 282 314 245 315 423 434 196 616 75 332 328 405 413 729 118 389 448 342 371 385 257 403 243 793 267 735 262 533 135 299 430 431 203 335 345 351 265 320 290 724 176 658 345 397 241 380 263 398 417 319 388 496 162 361 286 455 394 511 397 723 280 527 383 474 182 417 227 203 258 614 86 581 401 411 395 306 436 362 439 759 92 360 291 788 208 378 417 465 190 638 107 324 377 269 415 587 105 493 164 441 398 587 112 658 117 732 306 712 141 391 215 339 323 339 315 351 276 422 401 687 125 352 276 299 425 574 377 369 416 586 380 364 260 214 352 723 143 393 231 291 413 310 321 592 364 538 379 728 305 406 239 493 407 602 364 651 112 637 98 425 195 438 402 283 340 540 378 607 99 310 265 384 244 395 438 491 383 305 331 488 387 306 438 593 387 380 168 316 229 699 317 518 146 733 192 332 411 408 239 350 422 408 401 316 411 404 399 197 313 354 455 642 433 538 385 315 365 336 400 627 364 456 180 753 231 346 286 706 324 132 356 421 420 380 483 345 368 463 395 734 262 520 393 416 433 330 419 392 456 745 154 353 261 354 418 276 367 383 441 341 365 348 294 363 418 564 83 357 187 478 401 751 179 340 409 591 379 761 234 544 416 386 425 711 328 343 316 247 464 318 487 731 204 480 172 197 239 300 346 745 251 288 430 404 231 432 180 292 368 222 253 289 335 387 411 641 435 298 407 535 128 724 271 350 289 707 58 321 237 731 252 532 127 721 176 416 232 369 443 423 165 357 207 599 109 284 363 349 443 528 130 341 338 762 290 654 97 731 259 445 397 747 99 576 109 676 344 700 350 533 387 370 253 580 114 445 193 532 126 725 278 403 396 686 334 734 270 216 285 205 366 687 115 317 487 645 104 738 213 415 182 330 299 722 293 657 358 748 351 403 242 741 293 343 329 510 381 598 106 644 347 740 233 435 393 307 439 335 386 554 110 650 372 211 273 433 476 343 222 333 377 331 312 666 408 309 372 720 288 317 373 410 401 296 435 437 199 370 251 727 177 484 397 765 166 339 350 440 404 508 148 694 320 350 189 682 114 390 234 392 247 719 109 697 326 426 210 527 404 370 200 274 345 285 223 570 106 416 416 394 413 438 412 175 447 671 337 663 101 441 205 207 330 386 445 532 129 326 317 782 250 756 125 798 267 174 426 666 117 693 337 552 92 605 111 371 408 541 120 366 406 301 458 715 304 343 342 706 137 405 407 444 150 658 107 313 276 420 473 312 299 524 117 287 434 403 427 302 369 436 407 312 351 728 282 344 447 729 137 394 406 289 346 571 395 254 433 501 397 726 111 362 289 325 284 675 346 332 319 323 453 425 212 742 259 694 348 593 371 316 354 612 365 389 424 339 343 664 334" fill="none" marker-start="url(#mb)" marker-mid="url(#mb)" marker-end="url(#mb)"/>
<path d="M130.8 426.0 L139.7 402.1 L148.5 378.6 L157.4 355.7 L166.2 333.8 L175.1 312.9 L183.9 293.5 L192.8 275.7 L201.7 259.7 L210.5 245.6 L219.4 233.2 L228.2 222.2 L237.1 212.5 L246.0 204.1 L254.8 196.9 L263.7 190.9 L272.5 185.9 L281.4 182.0 L290.2 179.0 L299.1 176.9 L308.0 175.6 L316.8 175.2 L325.7 175.3 L334.5 176.1 L343.4 177.2 L352.3 178.7 L361.1 180.3 L370.0 182.0 L378.8 183.6 L387.7 184.9 L396.5 186.0 L405.4 186.5 L414.3 186.5 L423.1 185.8 L432.0 184.2 L440.8 181.8 L449.7 178.7 L458.6 175.0 L467.4 170.8 L476.3 166.2 L485.1 161.4 L494.0 156.4 L502.8 151.4 L511.7 146.4 L520.6 141.6 L529.4 137.0 L538.3 132.6 L547.1 128.5 L556.0 124.8 L564.9 121.4 L573.7 118.6 L582.6 116.2 L591.4 114.5 L600.3 113.3 L609.1 112.8 L618.0 112.7 L626.9 113.2 L635.7 114.1 L644.6 115.6 L653.4 117.4 L662.3 119.6 L671.2 122.2 L680.0 125.2 L688.9 128.5 L697.7 132.2 L706.6 136.5 L715.4 141.2 L724.3 146.7 L733.2 152.8 L742.0 159.7 L750.9 167.2 L759.7 175.4 L768.6 184.1 L777.5 193.3 L786.3 202.8 L795.2 212.7 L804.0 222.8 L812.9 233.1 L821.7 243.5 L830.6 254.0" fill="none" stroke="#f00" stroke-width="3" stroke-linejoin="round"/>
<line x1="536.3" y1="15" x2="536.3" y2="524.9" stroke="#000" stroke-width="2.4" stroke-dasharray="8 4"/>
<path d="M73.4 8.7V524.9H874" fill="none" stroke="#333" stroke-width="2"/>
<path d="M73.4 96.2h7.5 M73.4 189.9h7.5 M73.4 283.6h7.5 M73.4 377.3h7.5 M73.4 471.0h7.5 M209.9 524.9v-9.5 M358.8 524.9v-9.5 M507.7 524.9v-9.5 M656.6 524.9v-9.5 M805.5 524.9v-9.5" stroke="#333" stroke-width="2"/>
<text x="68" y="102.5" text-anchor="end" font-family="'Liberation Sans',Arial,sans-serif" font-size="14.1" fill="#505050">1000</text>
<text x="68" y="196.2" text-anchor="end" font-family="'Liberation Sans',Arial,sans-serif" font-size="14.1" fill="#505050">800</text>
<text x="68" y="289.9" text-anchor="end" font-family="'Liberation Sans',Arial,sans-serif" font-size="14.1" fill="#505050">600</text>
<text x="68" y="383.6" text-anchor="end" font-family="'Liberation Sans',Arial,sans-serif" font-size="14.1" fill="#505050">400</text>
<text x="68" y="477.3" text-anchor="end" font-family="'Liberation Sans',Arial,sans-serif" font-size="14.1" fill="#505050">200</text>
<text x="209.9" y="542.3" text-anchor="middle" font-family="'Liberation Sans',Arial,sans-serif" font-size="14.1" fill="#505050">0.0</text>
<text x="358.8" y="542.3" text-anchor="middle" font-family="'Liberation Sans',Arial,sans-serif" font-size="14.1" fill="#505050">0.2</text>
<text x="507.7" y="542.3" text-anchor="middle" font-family="'Liberation Sans',Arial,sans-serif" font-size="14.1" fill="#505050">0.4</text>
<text x="656.6" y="542.3" text-anchor="middle" font-family="'Liberation Sans',Arial,sans-serif" font-size="14.1" fill="#505050">0.6</text>
<text x="805.5" y="542.3" text-anchor="middle" font-family="'Liberation Sans',Arial,sans-serif" font-size="14.1" fill="#505050">0.8</text>
<text x="441.9" y="575.2" text-anchor="middle" font-family="'Liberation Serif','Times New Roman',serif" font-size="24">NDVI</text>
<text transform="translate(26,292) rotate(-90)" text-anchor="middle" font-family="'Liberation Serif','Times New Roman',serif" font-size="24">Net primary productivity</text>
<text x="19" y="36.5" font-family="'Liberation Serif','Times New Roman',serif" font-size="29">(a)</text>
<text x="541" y="81.7" font-family="'Liberation Sans',Arial,sans-serif" font-size="17.4" font-weight="bold">X: 0.44</text>
<text x="770.3" y="57.5" font-family="'Liberation Sans',Arial,sans-serif" font-size="18.6" font-weight="bold" fill="#e00">r : 0.58</text><path d="M990 196 1010 186 1049 169 1099 154 1149 139 1208 129 1248 122 1298 120 1349 118 1392 121 1410 122 1423 145 1437 172 1472 184 1522 188 1560 186 1620 182 1640 181 1680 188 1710 207 1720 225 1722 240 1715 255 1700 262 1667 263 1628 268 1601 281 1575 294 1523 297 1471 300 1445 308 1418 315 1366 324 1320 318 1287 334 1243 334 1200 350 1156 351 1126 350 1112 372 1080 388 1054 391 1036 405 1004 392 991 377 989 280Z" fill="#0000ff"/>
<path d="M1099 134 1622 179 1465 304 1002 145 1118 458 1100 393 1395 118 1068 148 1693 183 1410 117 1330 119 1559 132 1119 409 1220 351 1651 277 1075 161 1518 186 1066 390 1648 171 1322 332 1281 336 1175 355 1505 183 1056 164 1131 488 1542 184 1110 144 1620 294 1539 181 1348 53 1089 386 1563 182 1487 175 1133 406 1265 345 1116 463 1327 352 1353 92 1204 119 993 396 1037 133 1307 335 1631 271 1117 136 1668 271 1497 177 1153 133 1004 402 1019 164 1186 119 1683 183 1671 264 1108 403 1480 302 1628 167 1395 337 1677 167 1088 391 1645 267 1231 348 1472 306 1140 414 1564 312 1045 406 1389 100 1414 80 1122 458 1557 96 1474 177 1015 176 1657 178 1473 333 1423 132 1262 340 1159 396 1647 177 1137 416 1559 172 1124 401 1548 80 1051 101 1681 188 1496 310 1365 109 1621 180 1625 136 1258 354 1499 178 1481 335 1312 114 1416 131 1224 352 1119 381 1697 183 1263 342 1349 360 1420 354 1571 173 1461 157 1136 359 1004 151 1131 447 1119 372 1493 159 1434 153 1054 416 1398 121 1499 177 1173 103 1086 393 1683 178 1127 355 1162 136 1607 305 1554 172 1120 382 1218 123 1550 305 1282 337 1212 101 1200 386 1457 73 1073 396 1384 120 1201 130 1395 75 1315 325 1445 159 1069 160 1030 164 1634 173 989 307 1463 174 1031 443 1430 315 1026 148 1491 314 1200 402 1157 361 1307 325 1699 173 1070 151 1506 45 1311 327 1492 309 1216 119 1322 342 1407 115 1128 395 1665 116 1475 89 1304 338 1242 119 1710 279 1023 163 1531 337 1128 413 1140 352 1015 170 1135 139 1681 152 1720 191 1078 445 1178 358 1452 176 1175 125 1007 157 1049 157 1413 330 1202 356 1496 144 1222 122 1251 371 1582 182 1517 176 1270 109 1489 181 1281 115 1276 358 1061 396 1726 217 1193 352 1405 114 1508 302 1015 133 1434 91 989 219 1239 122 1134 436 1312 99 1709 193 1680 187 1152 352 1480 143 1006 414 1138 126 1187 420 1248 118 1064 398 1560 295 1657 145 1061 393 1475 154 1659 133 1022 178 1174 117 1640 166 1192 130 1726 210 1598 180 1227 125 1596 302 1135 399 1029 408 1024 155 1336 324 1525 326 1161 405 1627 182 1532 302 1432 116 1413 109 1521 180 1122 396 1319 330 1346 101 1719 252 1238 345 1544 177 1186 363 1064 158 1649 289 1144 373 1160 352 1356 112 1156 137 989 253 1552 180 1679 180 1556 303 1369 326 1236 381 1048 155 1303 342 1018 160 1307 326 1356 78 995 391 1534 183 1603 181 1017 427 1542 297 1459 175 1038 117 1162 355 1037 164 1496 302 1718 253 1047 161 1130 424 1021 146 1289 341 1119 370 1295 343 1530 164 1618 292 1445 314 1405 75 1063 408 1133 487 1040 408 1536 162 1355 327 1041 127 1143 432 1063 153 1059 391 1119 379 1108 397 1050 442 1526 318 1539 303 1128 492 1052 405 1000 172 1724 277 1711 203 1115 401 1726 243 1280 113 1436 123 1323 333 1631 181 1112 392 1167 390 1658 279 1718 218 1216 91 1553 93 1545 300 989 297 1199 355 1065 393 1426 142 1114 372 1265 345 1688 192 1196 360 1361 337 1698 162 1145 135 1342 102 1532 165 1060 396 1503 299 1004 142 1728 257 1392 341 1580 164 1064 417 1684 282 1583 128 1210 358 1061 394 1007 407 1664 279 1431 142 1658 148 1039 133 1094 394 1237 347 1574 64 1282 335 1633 162 1130 364 1076 150 1054 398 1331 100 1341 336 1317 96 1081 421 1393 342 1703 192 1451 312 1092 155 1099 382 1411 61 1019 404 1148 405 1144 433 1361 338 1238 337 1459 309 1047 165 1556 177 1455 174 1275 337 1195 353 1121 408 1376 339 1577 87 1016 146 1458 174 1503 185 1149 431 1085 447 1400 118 1015 180 1043 416 1458 80 1397 86 1073 140 1076 391 1698 194 1493 178 1481 147 1025 406 1332 325 1175 132 1012 177 1701 265 1645 272 1530 186 1341 112 1032 174 1006 186 1008 405 1299 117 1101 478 1327 322 1116 379 1130 360 1020 405 1007 403 1502 185 1015 403 1493 299 1323 322 1460 127 1023 131 1440 156 1326 103 994 392 1033 164 1139 369 1260 88 1312 326 1529 328 1418 345 1390 336 1118 422 1029 129 1600 296 1223 119 1131 144 1173 135 1106 413 1320 322 1698 188 1453 143 1265 336 1393 323 1242 80 1281 112 1111 400 1335 326 1663 160 1181 104 1455 177 1002 174 1073 420 1124 140 1472 311 1093 155 1156 359 1278 93 989 276 1545 173 1110 146 1692 192 1551 179 1153 354 1346 118 1080 153 1706 263 1561 183 1630 113 1538 143 1025 157 1423 137 1110 141 1329 92 1122 99 1252 362 1083 394 1431 64 1266 342 1273 345 1712 207 1062 118 1421 132 1502 175 1144 466 1593 142 1324 327 1415 332 1063 157 1413 363 1205 129 1724 248 1447 174 1273 346 1016 424 1521 173 1013 140 1069 405 1032 157 1591 176 1453 100 1101 381 1697 296 1630 160 1721 332 1299 347 1026 167 1045 168 1649 178 1029 143 1044 143 1421 323 1141 387 1272 342 1383 336 1169 367 1390 375 1723 237 1236 93 1048 131 1523 182 1505 91 1156 448 1690 269 1294 354 1034 136 1113 387 1384 100 1636 143 1435 165 1309 87 991 388 1433 114 1613 125 1372 117 1458 313 989 401 1714 209 1349 331 1158 368 1333 342 1187 383 1332 118 1665 283 1016 180 1116 132 1198 368 1219 361 1421 325 1023 438 1323 105 1680 188 1201 131 1609 180 1590 292 1525 175 1215 345 1293 96 1070 408 1025 405 1050 160 1526 175 1027 405 1049 407 1328 326 1727 244 1666 117 1011 181 1170 354 1507 309 1706 273 1459 312 1120 420 1198 351 1260 116 1569 168 1233 342 1150 361 1303 366 1003 471 1241 356 1260 98 1390 91 1466 152 1182 133 1443 87 1518 178 1441 311 1689 266 1440 156 1606 172 1423 119 1503 167 1527 185 1531 300 1437 317 1019 178 1030 140 1084 406 1670 270 1600 183 1025 152 1267 358 1409 122 1308 392 1658 272 1127 363 1412 115 1041 142 1632 162 1126 359 1672 288 1181 362 1057 154 1244 57 1614 287 1665 176 1128 367 1210 350 1614 174 1390 86 1591 289 1566 167 1075 393 1044 408 1055 165 1276 120 1363 105 1157 113 1292 105 1469 171 1141 382 1297 336 1397 327 1530 178 1140 367 1083 404 1267 102 1186 387 1131 458 1337 116 1141 424 1719 260 994 194 1191 128 1403 120 1072 395 1128 435 1569 303 1535 175 1145 356 1115 430 1573 169 1593 72 1458 74 1592 177 1572 168 1448 154 1617 88 1015 155 1422 127 1117 137 1184 131 1196 353 1311 442 1500 181 1207 105 1088 465 1010 172 1433 321 1017 413 1327 320 1045 403 1545 300 1235 342 1342 61 1554 187 1150 355 1377 347 1240 100 1231 344 999 412 1089 150 1083 406 1726 228 1182 355 1041 161 1062 161 1299 331 1215 117 1128 145 1622 170 1270 404 1077 390 1066 427 1293 91 1019 160 1122 375 1217 117 1066 394 1505 169 1100 379 1498 185 1123 382 1622 316 1161 416 1434 160 1080 398 1485 307 1348 349 1198 112 1699 266 1096 152 1565 296 1490 77 1063 158 1136 117 1021 177 1044 406 1120 387 1433 159 1388 51 989 347 1175 388 997 187 1442 141 1227 344 1106 378 1517 186 1271 338 1656 279 1673 132 1173 362 1423 106 1039 145 1276 350 990 183 1193 383 1021 406 1184 356 1424 80 1321 108 1178 352 1452 84 1582 178 1153 446 1607 181 1641 298 1134 141 1317 337 1544 113 1468 154 1442 163 1490 315 1307 72 1609 95 1652 276 1460 59 1438 157 1036 139 1041 413 1682 178 1149 477 1501 169 1134 370 1525 307 1446 85 1512 304 1442 327 1058 158 1302 354 1555 110 1365 324 1724 142 1171 362 1363 59 1307 109 1571 143 1511 300 1290 116 1395 71 989 241 1511 328 1625 171 1366 114 1261 340 1135 486 1587 316 1552 301 1599 183 1263 118 1040 172 1093 132 1284 339 1362 325 1141 138 1148 352 1607 324 1657 151 1616 179 1489 327 1041 478 1703 191 1390 116 1378 330 1449 319 1166 388 1601 162 1712 260 1197 130 1314 61 1431 88 1166 134 1406 97 1245 350 1136 129 1282 108 1262 351 1274 101 1191 122 1437 160 1021 400 1311 115 1722 215 1263 121 1201 408 1202 368 1367 111 989 302 1110 123 1644 164 1505 179 1024 172 1215 415 1019 156 1145 370 1175 375 1382 330 1672 183 1303 331 1055 135 1043 402 1426 314 1101 136 1091 426 998 408 1628 312 1616 161 1276 340 1518 177 1691 291 1116 406 1176 360 989 238 1459 312 1464 179 1695 88 1652 148 1023 133 1270 335 1136 476 1135 481 1537 342 1299 94 1643 175 1445 168 1052 161 1213 353 1065 418 1613 282 1397 120 1076 395 1017 176 1310 103 1472 174 1607 105 999 183 1013 126 1030 411 1589 101 1658 172 1459 160 1401 336 1024 450 1127 395 1210 353 1501 178 1639 161 1060 165 1022 139 1722 196 1022 178 1049 136 1157 446 1726 224 1584 182 1130 144 1170 360 1043 140 1468 123 1179 115 1143 138 1147 389 1058 407 1710 299 1467 179 1141 376 1634 142 1026 416 1467 88 1026 142 1704 281 1039 163 1152 134 1111 412 1687 171 1677 185 1252 116 1245 336 1653 180 1611 180 1029 161 1173 355 1007 421 1430 149 1080 395 990 348 997 385 1440 140 1500 153 1130 454 1003 169 1580 123 1039 144 1045 407 1245 384 1639 267 1372 326 1229 376 1228 378 1076 390 1509 184 1115 407 1530 181 1602 171 1447 146 1388 91 1642 179 1588 165 1132 399 1525 299 1030 165 1573 184 1378 99 1196 127 1157 454 1595 290 1459 166 1569 300 1452 76 1173 127 1597 286 1148 411 1393 120 1398 334 989 311 1027 143 1276 366 1607 173 1148 377 1424 316 998 168 1585 181 1400 115 1388 115 1075 152 1037 437 1129 410 1406 320 1548 303 1104 415 1428 144 1082 159 1012 148 1442 158 1657 328 1380 119 1449 122 1152 398 1465 182 1721 259 1426 324 1124 427 1315 322 1148 466 989 248 1540 81 1078 407 1295 115 1039 155 1428 339 1713 188 1506 184 1144 393 1281 336 1429 130 1116 148 1030 145 1458 78 1434 161 1673 177 1032 174 1347 119 1570 148 1054 138 1104 383 1480 182 1338 27 1140 438 1117 143 1139 365 1660 271 1366 86 1530 185 1312 326 1574 54 1721 229 1187 128 1197 356 1138 447 1136 373 1671 268 1490 311 1148 359 1644 90 1242 342 1632 141 1129 403 1480 69 1011 181 989 308 1470 91 1069 391 1192 130 1513 181 1227 343 1643 181 1536 184 1168 380 998 183 1188 130 1021 414 1183 115 1172 353 1614 157 1024 141 1309 377 1413 117 1491 333 1288 349 1564 299 1665 184 1065 150 1705 282 1494 170 1658 183 1042 137 1177 391 1035 134 1007 184 1412 69 1375 91 1135 353 1308 107 1271 350 1115 432 1647 166 1206 363 993 384 1442 45 1373 119 1480 173 1020 134 1131 365 1101 408 1194 373 1442 317 1136 363 1027 138 1412 95 1059 410 1023 138 1627 275 1543 183 1578 170 1111 386 1117 404 1313 103 1613 137 1416 320 1154 127 1193 120 1694 178 1185 352 1198 384 1696 185 1510 187 1039 453 1344 99 1598 323 1003 183 1450 313 1559 52 1234 114 1242 340 1046 167 1429 131 1721 217 1123 138 1033 176 1309 103 1004 178 1156 447 1653 268 1562 124 1703 193 1361 338 1077 445 1020 172 1622 170 1591 176 1024 151 1453 168 1649 276 1152 418 1224 355 1216 346 1131 437 1201 355 1452 78 1235 120 1249 114 1219 361 1027 416 1280 338 1726 239 1231 347 1117 141 989 382 1072 395 989 321 1070 155 1400 110 989 387 1277 344 1489 321 1262 119 1302 345 1504 183 1023 168 1439 140 1292 110 1533 154 1128 420 1044 403 1025 150 1024 403 1015 401 1630 279 1414 323 1032 413 1178 123 1340 324 1712 210 1508 187 1591 180 1297 114 1229 352 1142 387 1518 178 1634 155 1595 139 1345 358 1713 210 1636 175 1398 108 1604 165 1007 187 1289 338 1721 223 1723 182 1372 327 1560 297 1033 136 1594 143 1726 251 1198 354 1003 398 1036 154 1320 111 1591 183 1245 347 1486 155 1051 150 1422 316 1709 203 1430 112 1020 146 1409 113 1640 288 1250 336 1502 306 1487 185 1037 154 1687 320 1402 111 1222 77 1018 412 1312 96 1678 181 1504 301 1466 306 1323 319 1557 164 1509 173 1586 184 1068 396 1564 181 1267 338 988 210 1257 338 1456 170 1047 408 1226 116 1309 86 1400 319 1591 161 1215 119 1082 429 1396 109 1401 320 1550 298 1247 350 1701 181 1546 184 989 254 989 339 1026 406 1377 352 1456 307 1437 95 1156 438 1663 282 1622 301 1203 361 1476 181 1359 331 1077 397 1250 368 1104 137 1323 329 1476 115 1200 355 1013 135 1570 312 1713 182 1002 397 1480 149 1725 247 1187 114 1625 136 1630 178 1118 436 1595 307 1608 281 1676 172 1585 181 1563 44 1526 183 1635 274 1281 349 1001 151 1228 361 1565 164 1285 115 1656 151 1214 107 1330 112 1367 326 1026 153 1243 337 1255 105 1670 112 1134 488 1357 117 1225 125 1152 428 1656 268 1241 365 1484 181 1134 497 1700 272 1079 157 1051 402 1669 136 1267 115 989 356 1073 161 1478 318 1657 274 1557 303 1063 394 1050 408 1058 396 1068 157 1649 171 1495 325 1210 370 1727 226 1300 387 1137 474 1042 134 1430 149 1451 371 1153 440 1414 86 1481 171 1580 171 1277 388 1532 175 1480 178 1017 131 1156 433 1644 281 1115 374 1061 408 1672 280 1430 141 1092 388 1584 183 1122 139 1428 129 1238 373 1692 270 1133 125 1105 377 1277 378 1421 113 1406 118 1039 135 1153 128 1383 337 1134 361 1389 61 1255 119 1712 207 1388 328 1100 141 1313 336 1065 396 1467 176 1146 402 1244 379 1039 410 1476 311 1717 313 1179 123 1299 112 1003 402 1564 304 1140 470 1662 268 1472 180 1626 299 1423 122 1118 418 1119 371 1127 418 1257 121 1191 122 1723 197 1239 338 1497 301 1171 366 1013 143 1127 381 1021 404 1207 104 1628 148 1524 166 1484 307 1121 143 1068 402 1125 142 1478 302 1428 333 1188 352 1036 155 989 165 1118 439 1724 276 1121 148 1291 344 1124 439 1506 26 1319 326 1292 84 1446 160 1268 338 1319 111 1140 476 1281 99 1042 128 1124 444 1355 68 1303 332 1149 437 1065 162 1660 177 1186 354 1351 322 1056 165 1292 337 1342 105 1027 405 1230 368 1120 458 1129 359 1120 375 1262 340 1482 181 1264 121 1429 153 1566 153 1452 162 1587 321 1504 314 1089 402 1268 117 1110 382 1196 371 1492 177 1679 161 1185 353 1402 332 1121 370 1004 406 1511 167 1035 412 1726 243 1234 102 1693 182 1282 110 1383 322 1238 339 1001 413 1121 397 1537 150 1289 85 1154 353 1052 162 1135 130 1049 153 1041 166 1059 159 1716 272 1558 158 1182 134 1295 336 1191 119 1638 180 1630 152 1712 207 1528 185 1150 457 1113 392 1314 116 1424 318 1703 196 1580 183 1613 286 1131 354 1103 440 1413 110 1291 341 1355 329 989 374 1011 179 1433 61 1592 158 1049 398 1331 40 1224 124 1584 148 1525 146 1673 265 1490 183 1359 111 1271 389 1059 164 1671 277 1199 355 1038 164 1724 263 1460 177 1124 402 1117 420 1269 339 1043 163 1721 196 1108 377 1184 352 1151 459 1661 185 1200 129 1572 185 1488 301 1507 180 1160 134 1494 182 1287 118 1697 268 1374 117 1195 352 989 274 1604 164 1175 397 1648 181 1209 368 1516 186 1608 280 1476 156 1577 296 1430 152 1041 129 1067 163 1028 176 1659 271 1119 421 1605 304 1656 125 1338 326 1047 156 989 216 1100 152 1429 116 1150 362 1216 117 1160 384 1093 433 1540 303 1384 101 994 386 1491 182 1267 339 1409 103 1434 154 1004 155 1050 160 1692 165 1511 323 1681 183 1066 391 1198 364 1531 306 1500 149 1036 170 1106 394 1096 388 1584 321 1128 367 1116 406 1209 350 1599 287 1435 320 1030 413 1195 389 1416 127 1181 353 1235 122 1077 414 1042 425 1159 361 1177 413 1349 326 1560 299 1235 449 989 209 1466 154 1681 165 1045 140 1367 87 1045 145 1577 300 1186 443 1358 334 1715 168 1598 182 989 369 1711 265 1126 130 1578 148 1136 355 1213 110 1571 181 1161 351 1070 403 1659 179 1319 328 1166 389 1484 167 1605 180 1627 156 1397 379 989 224 1726 197 1063 441 1438 318 1637 273 1036 132 1091 156 1530 320 1110 378 1625 347 1529 182 1128 378 1137 417 1012 398 1722 251 1610 153 1456 306 1186 356 1484 301 1702 185 1565 158 1113 412 1095 388 1432 156 1479 159 1176 357 1179 354 1378 53 1557 321 1107 382 1501 302 1371 325 1260 118 994 387 1695 267 1656 283 1063 397 1648 276 1687 267 1443 128 1255 340 1051 147 1156 358 1010 398 1428 323 1029 165 1478 144 1306 91 1417 67 1219 94 1526 300 1515 186 1479 92 1435 118 1355 106 1633 285 1275 106 1402 344 995 191 1337 323 1323 322 1288 337 1324 101 1068 162 1413 335 1477 178 1092 387 1227 358 1025 130 1355 117 1446 131 1434 316 1170 135 1038 155 1511 185 1484 308 1413 319 1660 279 1426 146 997 163 1463 154 1630 288 1428 148 1598 177 1432 330 1652 269 988 367 1257 355 1313 115 1234 339 1431 322 1071 393 1260 341 1047 155 1059 403 1643 271 1419 130 1040 143 1287 342 1234 121 1667 183 1011 157 1610 169 1092 429 1416 124 1423 326 1194 124 1494 75 1322 39 1518 159 1051 412 1398 105 1007 188 1328 98 1594 163 1573 183 1054 150 1018 145 1530 184 1600 72 1148 388 1029 165 1394 69 1465 164 1567 179 1034 409 1624 297 1079 391 1672 269 1642 279 1140 351 990 309 1116 372 1042 429 1140 428 1058 161 1066 131 1282 338 1372 114 1688 185 1600 174 1030 157 1727 229 1677 268 1408 330 1129 355 1437 140 1125 145 1567 306 998 406 1156 137 1030 418 1686 179 1709 200 1718 192 1130 358 1450 175 1561 314 1539 183 1289 338 1644 273 1060 395 1694 272 1453 130 1434 118 1045 138 1611 318 1600 175 1314 323 1347 331 1728 245 1107 382 1498 172 1263 113 1307 414 1001 165 1134 475 1257 346 1471 179 1143 482 1151 446 1685 162 989 373 1484 179 1050 145 1040 173 1349 118 1302 329 1428 138 1554 170 1456 310 1698 271 1719 215 1350 344 1096 152 1197 114 1116 372 1131 141 1055 154 1640 161 1640 269 1337 95 1431 326 1645 171 1584 293 1525 145 1576 184 1381 327 1122 363 1488 167 1138 455 1690 176 1316 116 1004 395 1018 415 1485 175 1457 311 1381 326 1345 36 1427 342 1368 118 988 326 1000 394 1291 88 1294 334 988 261 1019 155 1120 362 1412 118 1246 77 1287 362 1521 182 1675 171 1486 185 1122 374 1485 335 1048 409 1625 179 1485 174 1652 162 1119 376 1659 290 1538 316 1360 339 1650 177 1283 118 1676 162 1150 368 1510 311 1580 297 1569 137 1711 258 1219 118 1226 342 989 219 1281 116 1027 163 1569 153 997 399 1647 173 1626 276 1012 141 1633 177 1387 322 1724 238 1721 197 1388 117 1420 122 1238 343 1614 278 1013 180 1725 238 1412 335 1432 150 1079 143 1277 339 1075 390 1427 67 1153 376 1340 35 1454 138 1319 348 1058 411 1704 188 1457 311 1236 374 1598 182 1264 80 992 380 1194 131 1101 141 1244 355 1341 82 1245 93 1231 108 1311 333 1450 311 1517 176 1726 239 1024 178 1507 177 1056 406 1305 327 1307 340 1104 379 1538 302 1497 163 1404 323 1387 120 1607 169 1673 292 1072 408 1610 328 1612 294 1069 157 1045 140 1209 109 1540 69 1037 170 1055 150 1552 302 1156 392 1008 163 1629 282 1627 269 1562 176 1604 280 1116 385 1645 270 1593 141 995 176 1631 268 1005 174 1064 164 1068 390 1190 362 1011 416 1591 292 1317 330 1497 300 1648 151 1400 119 1494 307 1718 162 1609 152 1130 137 1087 388 1524 159 1114 408 1237 341 1607 303 1129 371 1038 140 1648 180 1228 355 1467 174 1574 313 1644 177 1419 134 1613 281 1120 397 1078 146 1633 271 1121 450 1572 300 1715 202 1107 377 1468 116 1385 329 1657 142 1126 380 1259 346 1438 322 1604 283 1712 202 1555 183 1221 121 1143 127 1719 249 1021 161 1170 101 1555 131 1565 155 1133 353 1415 102 1536 83 1311 116 1481 117 1057 164 1599 290 1152 364 1544 180 1314 107 1496 83 1108 129 1120 383 989 299 1526 171 1165 409 993 403 1457 326 1129 116 1458 164 1121 130 1297 345 1318 348 1561 129 1552 177 1133 413 1271 120 1455 322 1688 138 1469 170 1439 148 1301 113 1709 201 1424 131 1204 353 1021 168 1522 178 1548 88 1664 330 1137 359 1584 334 1361 339 991 423 1299 331 1605 139 1178 352 1467 182 1505 314 1298 353 1044 407 1137 368 1434 347 1324 329 996 390 1472 76 1114 449 1196 103 1252 76 1539 311 1595 288 1369 114 1025 441 1617 279 1184 128 1486 128 1047 154 1039 147 1015 182 988 260 997 178 1144 377 1592 287 1285 119 1319 347 1644 167 1538 299 1455 178 1339 325 1500 185 1474 330 1241 113 1368 328 1304 349 1472 308 1151 377 1416 353 1363 118 1020 400 1493 37 1349 337 1461 162 1471 165 1541 301 1516 309 1236 353 1078 391 1692 266 1306 331 1367 394 1363 88 1253 378 1555 178 989 329 1583 295 1114 386 1623 117 1336 116 1308 367 1568 305 1596 128 1152 377 1487 56 1407 118 1484 147 1686 189 1711 327 1656 175 1196 357 1062 156 1531 177 1403 35 1514 182 1481 301 1126 427 1263 119 1037 158 1384 336 1049 161 1161 353 1650 172 1363 36 1538 175 1059 156 1301 340 1057 395 1640 153 1026 166 1173 355 1422 143 1522 187 1167 356 1126 419 1382 328 1073 391 1216 384 1364 111 1024 176 1591 176 1430 109 1497 312 1690 269 990 222 1135 373 1148 133 1305 108 1478 301 1354 108 1683 169 1212 122 1206 377 1264 345 1469 307 1652 163 1457 149 1382 326 1343 111 1661 185 1704 199 1032 438 1532 299 1423 135 1537 188 1429 333 1285 76 1485 339 1007 176 1614 276 1412 339 1025 168 1693 190 1588 178 1030 426 1486 173 1235 118 1700 197 1108 404 1630 166 1109 403 1124 406 1121 385 1716 254 1466 310 1241 112 1324 114 1088 386 1006 178 1704 269 1015 411 1325 117 1469 163 1468 165 1416 322 1695 307 1593 141 1174 394 1002 412 1704 182 1504 144 1044 467 1077 149 1130 385 1166 133 1248 342 1498 167 1002 149 1636 269 1299 112 1055 416 1246 354 1146 365 1722 223 1238 379 1044 426 1551 302 990 371 1600 163 1529 164 1067 407 1423 135 1016 446 1060 404 1585 297 1311 110 1533 300 1412 319 1104 383 1650 302 1620 176 1028 146 1440 318 1664 158 1018 134 1611 87 1040 154 1434 312 1317 323 1691 164 1615 102 988 231 1629 307 1017 399 1154 373 1693 186 1455 312 1106 452 1317 117 1423 64 1107 381 1587 305 1036 160 1102 147 1333 327 1484 179 1138 386 1298 345 1518 159 1568 179 1511 163 1375 330 1228 365 1686 265 1305 335 1571 183 1592 291 1654 179 1123 410 1670 173 1554 296 1033 139 1044 171 1310 327 1083 159 1640 269 1567 299 1511 321 1532 298 1363 330 1158 352 1715 121 1049 141 1713 191 1015 166 1444 173 1274 116 1220 348 1461 313 1117 149 1157 374 1135 360 1567 184 1197 373 1522 187 1215 107 1107 385 990 218 1377 359 1335 111 1224 354 1122 138 1433 158 1171 360 1119 393 1205 402 1126 474 1058 162 1259 384 1124 410 1136 450 1447 126 1507 185 1406 111 1593 155 1019 162 1419 318 1241 117 1614 317 1026 174 990 370 1364 113 1004 422 1640 280 1123 372 1673 169 1426 146 1394 93 1078 158 1135 143 990 204 1409 82 1448 356 1511 147 1342 102 1453 177 1247 342 1018 426 1436 142 1630 299 1226 379 1018 399 1024 159 1699 195 1462 156 1630 149 1536 188 1131 453 1504 53 1617 161 1154 115 1543 313 1669 182 1175 133 1393 119 1050 427 1331 335 1358 338 1589 185 1504 167 1692 189 1019 161 1315 350 1508 299 989 201 1505 144 989 360 1017 184 1601 158 1007 154 1130 144 1596 300 1486 114 1295 331 1497 312 1261 337 1523 184 1025 166 1698 270 1421 327 1169 351 989 279 1594 179 1219 126 1212 387 1080 396 1473 175 1024 178 1560 299 1128 385 1329 108 1130 357 1426 333 1536 186 1591 176 1136 440 1062 393 1350 329 1384 324 1474 317 1058 407 1250 121 1578 181 1427 319 1517 167 1501 183 988 313 1191 125 1528 170 1720 267 1193 129 1018 139 990 354 1460 27 1567 137 1674 182 1672 158 1551 177 1131 418 1710 164 1123 381 1292 370 1156 392 1480 178 1133 465 1168 135 1490 182 1127 412 1024 402 1288 111 1143 352 1335 354 1023 169 1657 266 1044 403 1130 487 1682 149 1370 111 1093 132 1514 177 1043 441 1295 90 1000 149 1668 176 1457 346 1688 310 1425 145 1575 125 1188 370 1347 108 1699 265 1560 146 1623 275 989 248 1527 176 1469 163 1484 21 1584 346 1072 154 1148 378 1202 358 1102 152 1591 160 1708 203 1490 67 1473 309 1228 119 1379 322 1647 176 1110 130 1505 167 1171 120 1166 352 1042 157 1157 361 1119 410 989 185 1107 146 1151 110 1003 184 1690 159 1719 250 1291 102 1702 264 1220 118 1427 318 1524 302 1007 142 1195 369 1606 183 1058 128 1362 327 1452 170 1169 355 1441 163 1203 116 1046 140 1310 88 1286 87 1705 161 1598 183 1441 310 1101 149 1642 135 1036 406 1336 358 1182 379 1543 174 1277 341 1467 59 1577 298 1447 317 1150 423 1488 305 1666 180 1106 152 1244 345 1042 150 1473 136 1075 408 1437 150 1583 160 1276 104 1225 360 1639 269 1426 130 1440 170 1304 106 1584 299 1438 98 1358 326 1262 340 1278 114 1129 445 1055 425 1548 185 1110 386 1725 209 1006 148 1372 325 1117 100 1569 304 1309 332 1190 362 1470 326 1000 186 1099 428 1021 165 1205 357 1474 307 1463 177 1197 405 998 178 1148 385 1542 148 1500 328 1051 165 1693 172 1091 428 1235 117 1002 151 1422 122 999 188 1425 137 1477 152 1451 104 1209 350 1177 362 1238 119 1183 352 1559 317 1583 184 1156 118 1598 172 1622 158 1008 411 1261 339 1725 220 1564 296 1174 364 1558 300 1298 353 1061 394 1082 159 1016 158 1008 151 1140 432 1601 150 1219 372 1323 320 1383 109 1060 431 1274 385 995 191 1231 344 1682 147 1701 135 1619 153 1285 116 1423 135 1115 429 1569 296 1011 170 1022 170 1426 145 1019 420 1504 177 1208 351 1312 337 1028 152 1155 423 1100 396 1422 134 1159 131 1102 141 1111 151 1082 444 1476 131 1315 106 1263 121 989 364 1717 262 1011 155 1249 343 1679 269 1493 172 1320 117 1234 358 1143 133 1037 416 1194 351 1061 454 1543 340 1692 189 1691 292 1269 356 1011 162 1638 175 1443 68 1192 130 1298 330 1681 266 1398 100 1103 466 1132 128 1008 404 1206 371 1637 169 1655 181 1428 328 1012 163 1048 138 1631 172 1145 438 1614 293 1002 159 1093 393 1042 144 1413 318 1010 181 1052 393 1508 318 1122 408 1634 279 1016 148 1041 138 1559 303 1263 119 1129 352 1488 175 1218 125 1555 123 1379 107 1446 140 1133 361 1433 145 1576 183 1244 350 1371 110 1145 446 1338 335 1508 168 1259 339 1153 447 1144 454 1146 416 1044 169 1345 119 1180 130 1266 336 1039 414 1355 112 993 162 1303 328 1314 337 1490 159 1462 155 1487 107 1201 381 1027 404 1284 119 1132 136 1265 347 1083 400 1525 318 1200 122 1727 220 1143 358 1542 178 1227 376 1410 320 1012 176 1126 440 1022 401 1240 110 1410 327 1290 83 997 405 1369 340 1240 368 1726 186 1132 140 1056 433 1442 156 1164 120 1075 159 1422 325 1359 333 1121 368 1003 188 1275 355 1218 94 1324 360 1319 364 1338 347 1018 409 1125 384 1429 327 1401 357 1461 316 1040 439 1423 142 1490 179 1032 417 1312 351 1596 181 1202 125 1156 369 1018 405 1136 364 1526 168 1092 392 1061 147 1096 429 1038 422 1557 181 1433 327 1463 61 1477 180 1464 180 1564 60 1027 421 1641 182 1552 304 1043 147 1169 117 1017 426 1698 269 1326 95 1054 154 1359 347 1515 183 1204 354 1609 293 1330 322 1592 147 1709 202 1229 344 1577 178 1096 153 1506 300 1199 94 1422 113 1674 184 1328 326 1139 361 1657 336 1457 174 1130 143 1531 186 1037 407 1577 146 1661 272 1277 357 1447 119 1449 145 1678 154 1721 194 1218 353 1675 289 1217 359 1125 419 1049 417 1520 37 1170 354 1414 364 1260 336 1702 323 1081 159 1033 169 1106 389 1148 396 1184 400 1340 85 1235 347 1124 384 1111 375 1094 386 1003 181 1708 193 1059 397 1727 218 1284 364 1272 111 1207 356 1137 488 1459 158 1119 439 1021 150 1523 143 1558 186 1006 158 1021 156 1382 327 1046 157 1016 177 1579 171 1077 390 1019 155 1056 166 1120 142 1232 340 1684 263 1240 338 1467 178 1588 311 1232 339 1236 338 1497 326 1568 108 1128 446 1352 114 1479 182 1585 182 1063 392 1046 401 1647 266 993 192 1119 389 1110 390 1692 186 1505 147 1037 165 1668 119 1143 400 1465 105 1411 118 1342 322 1317 339 1612 163 1341 323 1501 302 997 173 1004 409 988 206 1046 120 1667 282 1533 303 1018 419 1605 281 1677 298 1003 421 1029 405 1021 430 1173 126 990 316 1129 492 1176 134 1126 368 1120 373 1405 327 1253 347 1683 172 1410 333 1183 381 1589 304 1164 376 1234 117 1647 144 1145 403 1616 171 1086 125 1136 142 1674 187 1637 271 1714 271 1649 179 1247 355 1012 403 1258 114 1266 348 1300 331 1015 430 1182 355 1205 125 1618 117 1550 323 1466 163 1580 178 1618 275 1194 352 1256 111 1097 151 998 155 1354 324 1124 431 1496 175 1603 289 1479 318 1383 115 1502 303 1193 359 1128 441 1233 338 1130 138 1259 115 1567 179 1316 118 1450 319 1281 357 1182 118 1656 179 1115 373 1677 267 1293 363 1450 94 1070 135 1077 403 1112 150 1696 158 1011 141 1308 55 1322 114 1569 296 995 388 1152 450 1093 384 1282 118 1118 401 1182 366 1376 327 1311 111 990 395 1067 393 1670 167 1054 139 1430 148 1021 129 1722 250 1464 179 1135 371 1310 342 1006 165 1190 118 1526 182 1044 407 992 169 1537 170 1364 354 1679 185 1085 418 1146 368 1264 370 1700 270 998 182 1671 272 991 373 1002 181 1691 176 1676 333 1211 363 1460 177 1111 381 1516 146 1088 153 1529 181 1227 111 1010 169 1637 285 1029 171 1647 311 1023 402 1035 165 1449 166 1581 176 1393 63 1656 183 1615 157 1254 339 1559 125 1374 107 1134 416 1267 84 1636 174 992 187 1077 152 1021 413 1709 280 1639 177 1610 286 1287 386 1149 355 1725 261 1016 406 1027 125 1153 453 1484 174 1627 271 1649 144 1212 388 1215 125 988 285 1135 413 1444 163 1526 298 1125 430 1134 433 1128 408 1696 169 1161 352 997 395 989 381 1492 359 1005 188 1414 323 1469 181 1607 167 1615 285 1438 133 1050 167 1007 160 1263 118 1411 322 1495 308 1287 341 1064 159 1098 389 1002 161 1462 163 1266 108 1630 148 1483 306 1202 356 1123 368 1127 385 1312 84 1131 413 1151 378 1145 390 1710 260 1007 401 1594 330 1535 187 1170 424 1075 119 1579 300 1215 128 1489 182 988 255 1652 183 1025 171 1608 179 1000 397 1015 415 1579 174 1346 113 1714 213 1292 112 1396 329 1121 396 1083 398 1663 175 1050 421 1257 355 1469 305 1280 351 1644 267 1065 111 1174 132 1688 329 1621 275 1258 117 1280 363 1131 144 1127 376 1016 172 1018 175 1674 168 1593 169 1261 368 1165 136 1625 175 1413 109 1430 136 1316 373 1697 289 1375 330 1057 413 1336 323 999 393 1127 435 1135 429 1436 316 1553 302 1438 162 1201 395 1385 119 1422 138 1462 52 1512 99 1149 358 1515 180 1509 314 989 309 1558 75 1521 188 1283 342 1072 419 1043 420 1137 496 1298 335 1086 156 1326 377 1032 162 1256 365 1325 321 1603 295 1560 313 1727 235 1320 82 1190 378 988 341 1142 133 1190 356 1628 290 1557 298 1011 181 1086 146 1168 359 1413 96 1150 453 1674 133 1339 327 1056 416 1030 407 1151 435 1334 324 1168 65 1115 417 1176 354 1515 187 1567 296 1120 458 1122 423 1558 70 1374 114 1439 141 1589 170 1252 108 1601 310 1267 336 990 227 1188 125 1035 451 997 424 1222 387 1676 185 1420 136 1679 145 1642 178 1686 186 1695 178 1638 176 1440 172 1497 185 1079 389 1122 463 1235 124 1113 377 1316 115 1604 301 1029 175 1145 376 1288 343 1191 372 1322 336 1523 310 1722 229 1371 326 1672 157 1204 121 1567 179 1602 330 1399 332 1708 270 1605 299 1605 174 1360 118 1173 351 1022 158 1433 160 1564 185 1117 448 1711 207 1118 427 1123 361 1722 236 1557 299 1253 117 1154 394 1593 184 1183 410 1648 148 1462 334 1003 398 1148 378 991 423 1118 375 998 182 1647 164 1036 409 1048 445 1184 352 1690 266 1145 435 1304 331 1728 259 1409 321 1018 409 1257 120 1023 413 1193 123 1037 409 1541 301 1605 140 1507 178 1120 396 1310 326 1653 272 1222 348 1396 325 1364 358 989 275 1469 175 1585 292 1608 177 1134 127 1295 119 1036 146 1539 153 1450 86 1133 356 1141 436 1602 166 1268 337 1670 118 1367 326 1207 120 1591 329 1102 132 1114 394 1508 177 1248 351 1543 178 1121 369 1359 328 1154 399 1058 404 1345 328 1692 195 1617 174 1118 463 1375 333 1112 399 1477 334 1147 134 1674 272 1003 417 1421 111 1482 320 1551 298 1657 267 1725 204 1285 119 1608 181 1056 156 1629 322 1515 155 1058 147 1281 341 1152 411 1164 384 1723 150 1011 414 1038 414 1149 444 1009 169 1305 347 1186 359 1545 187 1144 389 1630 291 1459 178 1638 154 1705 197 1442 109 1004 156 1313 54 1698 264 1391 93 989 374 1114 135 1119 392 1187 414 1456 176 1146 360 1515 160 1493 164 1632 270 1027 173 1435 168 1498 306 1180 411 1242 120 1673 183 1351 116 989 332 1593 170 1575 297 1199 91 1368 349 1004 114 1714 277 1688 179 1049 397 1678 270 1411 318 1119 462 1377 120 1088 400 1064 426 1488 160 1552 303 1699 173 1227 121 1670 179 1508 162 1146 384 1094 152 1049 151 1378 330 1506 179 1350 115 1133 485 1546 301 1347 328 1247 336 1604 176 1011 396 1472 179 1470 180 1545 179 1631 171 1398 328 1512 161 1464 303 1066 161 1536 306 1131 363 1051 420 1578 177 1550 309 1423 328 1050 436 1284 70 1199 366 1626 279 1232 73 1109 389 1145 375 1649 270 1153 448 1122 375 1347 32 1081 413 1315 95 1349 106 1119 442 1174 361 1493 305 1635 283 1034 169 1706 141 1007 405 1499 183 1034 167 1414 326 1715 209 1150 381 1191 356 1053 398 1432 317 1443 154 1073 144 1515 186 1037 136 1133 354 1025 152 1303 334 1396 337 1006 164 1404 346 1346 118 1686 189 1647 136 1021 406 1486 182 1445 326 1324 329 1097 381 1107 132 1126 406 1569 150 1079 434 1427 314 1270 337 1339 47 1290 108 1267 109 1441 155 1486 310 1031 413 1150 134 1276 337 1612 315 1128 370 1702 279 1572 298 1562 176 1050 454 1270 336 1038 172 1150 136 1553 184 1314 332 1043 144 1160 109 1381 91 990 204 1035 406 1479 140 1552 185 1517 300 1710 204 1524 178 1470 139 1524 179 1229 343 1235 88 1632 181 999 406 1312 117 1631 156 1007 157 1015 403 1384 321 1479 179 1055 406 1418 133 1571 180 1454 164 1463 309 1603 312 1628 152 1314 352 1382 117 1526 175 1112 411 1173 104 1661 123 1348 323 1085 400 1474 85 1347 117 1413 126 1038 146 1121 441 1475 177 1147 452 1320 111 1550 72 1253 122 1199 354 1520 185 1195 363 1467 302 1508 180 1689 286 1393 120 1004 404 1386 120 1433 159 1648 161 1027 125 1444 99 1684 281 1331 402 1008 179 1504 321 1447 328 998 165 1555 184 1586 132 1093 122 1024 167 1123 437 1337 111 1122 375 1124 361 1515 182 1538 186 1431 319 1310 326 1645 325 1470 156 1519 181 1032 140 1682 187 1187 357 1134 453 1316 63 1064 396 1251 345 1292 117 1062 392 1441 163 1130 499 1068 159 1625 275 1159 396 1043 413 1374 110 1171 384 1272 117 1297 339 1542 149 1381 343 1425 88 1434 73 1511 154 1536 297 1145 358 1400 329 1324 99 1120 135 1451 169 1566 181 1119 390 1272 106 1398 329 1039 407 1106 388 1029 177 1284 117 1613 168 1342 118 1396 92 1127 358 1012 175 1532 298 1095 386 1727 260 1561 136 1262 339 1152 136 1272 118 1129 474 1559 170 1344 328 1528 297 1142 423 1370 324 1720 218 1658 167 1211 360 998 148 1033 408 1398 121 1142 377 1639 177 1621 303 1643 283 1555 340 1645 114 1047 127 1712 261 1149 419 1330 326 1310 332 1103 149 1563 122 1254 81 1199 357 1607 287 1296 334 1240 338 1597 154 1123 380 1163 361 1137 128 1010 175 1131 452 1266 361 1038 141 1436 315 1255 370 1168 353 1343 86 1552 308 1023 161 1014 175 1092 414 1032 412 1584 167 1258 355 1138 122 1100 381 1224 358 1127 448 988 195 1146 352 1027 146 1288 343 1000 186 1206 107 1651 158 1693 183 1243 121 1247 339 1331 324 989 289 1119 369 1572 91 1036 152 1697 290 1606 181 1193 374 1614 176 993 381 1082 398 1039 138 1531 159 1727 181 1446 163 1473 165 1316 117 1305 331 1032 131 1145 126 1663 183 1113 381 1325 322 1191 352 1451 134 1406 87 1398 104 1533 315 1555 181 1130 486 1021 161 1035 155 1422 323 1081 430 1212 381 1471 135 1551 299 1586 179 1013 142 1445 159 1129 441 1142 436 1379 115 1234 340 1725 172 1014 151 1229 89 1008 140 1017 134 1452 174 1692 265 1137 459 1143 138 1124 142 1028 176 989 354 1002 152 1140 388 1132 378 1482 97 1132 459 1278 339 1429 315 1022 403 1110 405 998 406 1327 321 1622 281 1722 314 1060 149 1403 112 1477 178 1150 368 1081 147 1255 342 1541 145 1562 48 1258 111 1251 114 1285 341 1208 105 1213 123 1109 427 1074 161 1059 151 1133 354 1492 309 1049 153 1189 366 1621 273 1343 338 1040 144 1325 107 1214 358 1013 160 1244 85 1036 473 1293 117 1536 325 1487 301 1020 145 1318 114 1064 436 1025 172 1100 150 1723 222 1386 338 1653 268 1522 299 1108 393 1147 354 1032 134 1029 169 1728 243 1036 173 1483 183 1490 156 1661 160 1649 180 1137 142 1025 177 1483 177 1360 330 1245 350 1364 117 1015 414 1719 185 1074 133 1093 411 1490 313 1613 174 1127 381 1275 119 1024 174 1343 353 1210 349 1114 444 1598 290 1522 185 1181 125 1454 157 1722 270 1711 281 997 163 1041 164 1119 432 1324 113 1674 123 1198 125 1501 171 1483 122 1168 131 1401 67 1032 127 1439 320 1031 167 1008 176 1070 402 1389 333 1410 110 1038 167 1664 137 1132 377 1641 166 1703 199 1137 498 1080 459 1596 287 1117 428 1028 135 1126 379 1430 53 1727 248 1217 128 1088 156 1207 360 1083 145 1417 74 1245 348 1074 156 1400 323 1134 356 1644 273 1148 371 1109 376 1448 122 1152 137 1574 333 1390 116 1650 311 1633 273 1025 159 1716 279 1690 264 1212 357 1638 332 1057 163 1310 105 1674 275 1199 356 1545 187 1194 119 1156 394 1052 414 1252 352 1076 403 1124 448 1672 301 1601 172 1728 209 1240 119 1158 457 1683 123 1135 457 1446 164 1411 116 1437 168 1690 328 1431 124 997 386 1261 338 1582 140 1015 164 1470 134 1609 287 1718 177 1586 175 1330 114 1110 375 1574 176 1151 352 1711 267 1654 276 1570 297 1024 134 1074 155 1598 160 1209 128 1149 138 1045 414 1597 172 1183 132 1273 373 1579 329 1176 367 1633 331 1584 144 1661 180 1691 286 1422 96 1361 330 1418 328 1453 173 992 192 1119 105 1075 391 993 181 1139 493 1076 157 1138 352 1545 184 1553 74 1097 154 1589 290 1490 183 1365 99 1341 355 1718 257 1674 178 1722 246 1563 155 1604 178 1107 129 1331 324 1484 303 1232 359 1147 360 1041 402 1114 412 1062 156 1648 146 1095 398 1349 93 1046 165 1015 142 1393 321 1051 395 1215 347 1044 457 1505 187 1572 172 1525 312 1159 358 1145 353 1333 332 1109 117 1272 346 1244 336 1677 183 1115 377 1682 186 1339 327 1067 399 1179 87 1548 345 1127 383 992 195 1016 162 1036 161 1653 170 1154 410 1583 179 992 192 1549 324 1021 179 1057 153 1369 342 1170 361 1252 96 1225 350 1637 163 1442 153 1283 348 1067 438 1261 423 1473 181 1541 181 1328 112 1533 169 1464 157 1462 170 990 352 1355 331 1170 365 1401 326 1134 485 1721 196 1684 157 991 376 1670 289 1514 299 1435 64 1246 121 1560 182 1521 163 1494 179 1504 177 1130 362 990 356 1569 160 1186 355 1018 134 1000 391 1575 184 1325 119 1132 358 1059 398 1261 336 1722 208" fill="none" marker-start="url(#mb)" marker-mid="url(#mb)" marker-end="url(#mb)"/><path d="M1095 403 1206 351 1542 333 1289 338 1034 161 1094 401 1201 125 1261 352 1712 154 1413 118 1165 365 1495 302 1054 144 1420 333 1226 371 1077 157 1583 295 1018 142 1123 437 1626 275 1299 330 1219 387 1017 179 1056 409 1662 155 1356 119 1213 349 1469 174 1048 136 1426 327 1369 120 1672 134 1328 329 1600 291 1682 273 1200 124 1548 183 1007 178 1230 351 1112 149 1658 274 1650 267 1059 153 1649 155 1009 177 1106 148 1506 303 1637 180 1211 121 1280 352 1200 131 1647 177 1013 179 1104 380 1440 153" fill="none" marker-start="url(#mb)" marker-mid="url(#mb)" marker-end="url(#mb)"/>
<path d="M991.0 187.9 L1000.2 183.9 L1009.5 180.0 L1018.7 176.3 L1027.9 172.7 L1037.2 169.2 L1046.4 165.8 L1055.6 162.5 L1064.9 159.4 L1074.1 156.4 L1083.3 153.4 L1092.6 150.7 L1101.8 148.0 L1111.0 145.4 L1120.3 143.0 L1129.5 140.6 L1138.7 138.4 L1148.0 136.3 L1157.2 134.3 L1166.4 132.4 L1175.7 130.6 L1184.9 128.9 L1194.2 127.3 L1203.4 125.8 L1212.6 124.5 L1221.9 123.2 L1231.1 122.0 L1240.3 121.0 L1249.6 120.0 L1258.8 119.2 L1268.0 118.4 L1277.3 117.8 L1286.5 117.2 L1295.7 116.8 L1305.0 116.4 L1314.2 116.1 L1323.4 116.0 L1332.7 115.9 L1341.9 115.9 L1351.1 116.0 L1360.4 116.2 L1369.6 116.5 L1378.8 116.9 L1388.1 117.4 L1397.3 118.0 L1406.5 118.6 L1415.8 119.4 L1425.0 120.2 L1434.2 121.1 L1443.5 122.1 L1452.7 123.2 L1461.9 124.4 L1471.2 125.6 L1480.4 127.0 L1489.6 128.4 L1498.9 129.9 L1508.1 131.5 L1517.3 133.1 L1526.6 134.9 L1535.8 136.7 L1545.1 138.6 L1554.3 140.6 L1563.5 142.6 L1572.8 144.7 L1582.0 146.9 L1591.2 149.2 L1600.5 151.5 L1609.7 153.9 L1618.9 156.4 L1628.2 158.9 L1637.4 161.5 L1646.6 164.2 L1655.9 167.0 L1665.1 169.8 L1674.3 172.7 L1683.6 175.6 L1692.8 178.6 L1702.0 181.7 L1711.3 184.8 L1720.5 188.0" fill="none" stroke="#f00" stroke-width="3" stroke-linejoin="round"/>
<line x1="1208.7" y1="15" x2="1208.7" y2="531.5" stroke="#000" stroke-width="2.4" stroke-dasharray="8 4"/>
<path d="M953.4 8.7V531.5H1764.5" fill="none" stroke="#333" stroke-width="2"/>
<path d="M953.4 97.5h7.5 M953.4 192.5h7.5 M953.4 287.5h7.5 M953.4 382.4h7.5 M953.4 477.4h7.5 M1057.3 531.5v-9.5 M1203.6 531.5v-9.5 M1350.0 531.5v-9.5 M1496.3 531.5v-9.5 M1642.7 531.5v-9.5" stroke="#333" stroke-width="2"/>
<text x="948.1" y="103.8" text-anchor="end" font-family="'Liberation Sans',Arial,sans-serif" font-size="14.1" fill="#505050">1000</text>
<text x="948.1" y="198.8" text-anchor="end" font-family="'Liberation Sans',Arial,sans-serif" font-size="14.1" fill="#505050">800</text>
<text x="948.1" y="293.8" text-anchor="end" font-family="'Liberation Sans',Arial,sans-serif" font-size="14.1" fill="#505050">600</text>
<text x="948.1" y="388.7" text-anchor="end" font-family="'Liberation Sans',Arial,sans-serif" font-size="14.1" fill="#505050">400</text>
<text x="948.1" y="483.7" text-anchor="end" font-family="'Liberation Sans',Arial,sans-serif" font-size="14.1" fill="#505050">200</text>
<text x="1057.3" y="548.8" text-anchor="middle" font-family="'Liberation Sans',Arial,sans-serif" font-size="14.1" fill="#505050">1000</text>
<text x="1203.6" y="548.8" text-anchor="middle" font-family="'Liberation Sans',Arial,sans-serif" font-size="14.1" fill="#505050">1100</text>
<text x="1350.0" y="548.8" text-anchor="middle" font-family="'Liberation Sans',Arial,sans-serif" font-size="14.1" fill="#505050">1200</text>
<text x="1496.3" y="548.8" text-anchor="middle" font-family="'Liberation Sans',Arial,sans-serif" font-size="14.1" fill="#505050">1300</text>
<text x="1642.7" y="548.8" text-anchor="middle" font-family="'Liberation Sans',Arial,sans-serif" font-size="14.1" fill="#505050">1400</text>
<text x="1399.5" y="575" text-anchor="middle" font-family="'Liberation Serif','Times New Roman',serif" font-size="24.2">Precipitation</text>
<text transform="translate(902,292) rotate(-90)" text-anchor="middle" font-family="'Liberation Serif','Times New Roman',serif" font-size="24">Net primary productivity</text>
<text x="897" y="45.4" font-family="'Liberation Serif','Times New Roman',serif" font-size="33">(b)</text>
<text x="1214" y="83.1" font-family="'Liberation Sans',Arial,sans-serif" font-size="17.3" font-weight="bold">X: 1103.77</text>
<text x="1653.2" y="58.3" font-family="'Liberation Sans',Arial,sans-serif" font-size="18.6" font-weight="bold" fill="#e00">r : -0.03</text><defs><marker id="c0" markerUnits="userSpaceOnUse" markerWidth="10" markerHeight="10" refX="5" refY="5" overflow="visible"><circle cx="5" cy="5" r="2.7" fill-opacity="0.82" stroke-opacity="0.85" fill="rgb(12,0,242)" stroke="rgb(10,0,190)" stroke-width="0.9"/></marker><marker id="c1" markerUnits="userSpaceOnUse" markerWidth="10" markerHeight="10" refX="5" refY="5" overflow="visible"><circle cx="5" cy="5" r="2.7" fill-opacity="0.82" stroke-opacity="0.85" fill="rgb(38,0,216)" stroke="rgb(30,0,170)" stroke-width="0.9"/></marker><marker id="c2" markerUnits="userSpaceOnUse" markerWidth="10" markerHeight="10" refX="5" refY="5" overflow="visible"><circle cx="5" cy="5" r="2.7" fill-opacity="0.82" stroke-opacity="0.85" fill="rgb(63,0,191)" stroke="rgb(50,0,150)" stroke-width="0.9"/></marker><marker id="c3" markerUnits="userSpaceOnUse" markerWidth="10" markerHeight="10" refX="5" refY="5" overflow="visible"><circle cx="5" cy="5" r="2.7" fill-opacity="0.82" stroke-opacity="0.85" fill="rgb(89,0,165)" stroke="rgb(70,0,130)" stroke-width="0.9"/></marker><marker id="c4" markerUnits="userSpaceOnUse" markerWidth="10" markerHeight="10" refX="5" refY="5" overflow="visible"><circle cx="5" cy="5" r="2.7" fill-opacity="0.82" stroke-opacity="0.85" fill="rgb(114,0,140)" stroke="rgb(90,0,110)" stroke-width="0.9"/></marker><marker id="c5" markerUnits="userSpaceOnUse" markerWidth="10" markerHeight="10" refX="5" refY="5" overflow="visible"><circle cx="5" cy="5" r="2.7" fill-opacity="0.82" stroke-opacity="0.85" fill="rgb(140,0,114)" stroke="rgb(110,0,89)" stroke-width="0.9"/></marker><marker id="c6" markerUnits="userSpaceOnUse" markerWidth="10" markerHeight="10" refX="5" refY="5" overflow="visible"><circle cx="5" cy="5" r="2.7" fill-opacity="0.82" stroke-opacity="0.85" fill="rgb(165,0,89)" stroke="rgb(130,0,70)" stroke-width="0.9"/></marker><marker id="c7" markerUnits="userSpaceOnUse" markerWidth="10" markerHeight="10" refX="5" refY="5" overflow="visible"><circle cx="5" cy="5" r="2.7" fill-opacity="0.82" stroke-opacity="0.85" fill="rgb(191,0,63)" stroke="rgb(150,0,50)" stroke-width="0.9"/></marker><marker id="c8" markerUnits="userSpaceOnUse" markerWidth="10" markerHeight="10" refX="5" refY="5" overflow="visible"><circle cx="5" cy="5" r="2.7" fill-opacity="0.82" stroke-opacity="0.85" fill="rgb(216,0,38)" stroke="rgb(170,0,30)" stroke-width="0.9"/></marker><marker id="c9" markerUnits="userSpaceOnUse" markerWidth="10" markerHeight="10" refX="5" refY="5" overflow="visible"><circle cx="5" cy="5" r="2.7" fill-opacity="0.82" stroke-opacity="0.85" fill="rgb(242,0,12)" stroke="rgb(190,0,10)" stroke-width="0.9"/></marker></defs>
<defs><linearGradient id="rw" gradientUnits="userSpaceOnUse" x1="290" y1="930" x2="380" y2="1000"><stop offset="0" stop-color="rgb(114,0,140)"/><stop offset="0.5" stop-color="rgb(216,0,38)"/><stop offset="1" stop-color="rgb(242,0,12)"/></linearGradient><linearGradient id="uw" gradientUnits="userSpaceOnUse" x1="470" y1="890" x2="560" y2="780"><stop offset="0" stop-color="rgb(204,0,50)"/><stop offset="1" stop-color="rgb(237,0,17)"/></linearGradient></defs><path d="M240 770 246 756 256 752 266 760 274 770 290 780 300 800 320 822 347 836 384 868 420 894 452 892 470 898 482 905 482 940 440 938 410 932 380 922 340 920 310 925 290 940 262 930 250 905 246 860 244 815Z" fill="rgb(12,0,242)"/><path d="M300 930 340 924 380 922 410 935 412 945 400 962 380 978 355 993 330 1005 310 1018 290 1024 268 1018 258 1008 268 990 285 975 300 960Z" fill="url(#rw)"/><path d="M466 856 476 845 488 836 496 820 520 814 523 778 542 773 565 775 580 778 587 788 573 799 557 808 545 821 535 830 526 842 520 853 518 885 500 893 470 893 455 890Z" fill="url(#uw)"/><path d="M470 897 520 890 560 905 578 921 571 936 542 941 500 941 482 940Z" fill="rgb(76,0,178)"/><path d="M474 950 498 950 498 985 510 1000 530 1020 555 1040 575 1052 557 1060 526 1052 510 1040 498 1017 492 995 474 985Z" fill="rgb(5,0,249)"/>
<path d="M423 916 244 868 507 1004 481 953 233 689 253 864 337 855 520 1048 250 694 268 766 404 898 345 887 310 802 253 822 214 827 326 856 269 899 254 744 372 869 266 894 545 1057 553 1017 416 906 523 1008 312 877 316 876 264 796 531 1050 409 895 517 1049 274 813 174 694 269 832 533 1003 314 890 263 855 276 779 252 785 292 905 268 844 328 854 476 950 259 682 293 733 257 718 521 1006 189 848 503 986 237 852 254 755 253 790 505 1013 244 739 188 808 265 818 577 1036 284 756 351 866 267 808 518 1010 258 721 276 773 244 686 237 688 266 771 434 940 364 860 343 841 243 816 307 856 160 822 234 735 404 899 283 726 200 674 257 828 267 746 428 929 353 897 518 990 212 713 327 897 265 873 280 810 265 867 235 685 310 794 474 951 300 775 536 1019 491 974 279 909 199 692 478 965 367 903 562 1044 428 931 328 882 228 842 405 885 298 813 284 734 518 1018 269 704 264 815 242 824 530 1049 284 868 279 858 214 789 368 883 217 751 276 808 294 850 322 894 202 698 258 745 329 857 296 836 199 815 317 868 215 731 475 974 242 710 232 714 373 856 213 848 231 741 243 710 256 758 250 698 373 882 525 1037 260 814 348 897 222 679 197 681 333 893 549 1032 272 774 539 1003 225 785 390 876 368 902 251 715 410 887 265 883 409 900 568 1031 263 704 118 786 281 843 300 868 356 907 432 943 282 741 515 1011 241 697 359 863 237 779 532 1041 250 811 312 871 271 893 303 744 376 867 278 823 260 806 435 923 261 806 270 737 511 995 283 769 292 864 425 902 377 868 347 872 210 725 348 890 389 869 259 756 172 762 218 684 265 833 273 877 224 775 283 815 433 902 320 893 282 825 380 865 189 820 273 833 237 723 252 751 305 779 273 770 450 940 222 785 335 851 444 915 256 751 346 868 199 689 263 898 322 872 204 809 282 817 391 871 375 880 259 810 359 909 324 849 316 847 540 1035 278 867 580 1047 278 821 354 902 140 849 252 695 212 800 229 696 323 822 190 797 299 754 275 885 498 995 205 702 229 706 278 810 255 830 252 803 284 802 222 858 245 695 275 847 304 742 286 859 541 1037 226 828 476 960 318 868 358 869 293 764 535 1047 380 863 236 689 220 689 495 995 241 846 505 1003 356 852 252 736 249 770 191 790 298 823 202 824 354 901 486 961 230 857 237 806 562 1014 237 763 353 879 304 791 555 1040 505 1028 518 1030 283 827 330 852 234 729 326 897 205 833 208 698 241 784 296 758 252 712 304 743 307 866 439 919 557 1026 526 1002 432 935 220 723 201 753 361 882 433 931 262 761 305 820 261 894 206 820 299 866 276 885 319 885 275 767 536 1029 396 874 419 927 244 703 488 980 282 830 300 798 260 859 259 877 377 903 212 704 297 805 245 767 237 757 196 698 448 928 508 1005 475 975 215 681 210 859 313 835 280 863 246 848 314 892 254 857 286 829 537 1046 283 902 151 738 232 794 452 943 248 886 301 745 231 796 382 893 317 821 312 865 298 737 328 893 269 786 262 828 295 796 371 869 247 870 286 874 254 866 190 836 204 704 241 767 263 889 238 690 282 737 230 731 320 869 306 857 311 847 345 904 517 1014 226 736 198 790 288 820 312 884 295 770 326 850 274 767 231 785 155 829 305 839 306 790 264 752 493 989 215 839 251 842 446 911 341 851 378 906 234 715 305 823 320 824 256 787 417 922 277 771 375 894 362 886 259 837 537 1040 266 889 292 789 261 882 339 828 297 831 517 1051 276 877 267 804 217 717 363 882 245 716 485 984 579 1034 210 731 303 732 533 1031 271 723 268 817 252 688 352 850 300 797 509 992 275 884 579 1031 335 861 187 796 440 897 484 956 396 911 269 802 398 881 292 780 261 716 242 707 278 879 338 856 429 890 478 965 212 821 396 879 193 857 417 895 496 959 269 810 236 767 387 866 303 785 264 827 521 1041 259 721 276 779 285 760 293 850 280 759 222 808 240 846 281 850 239 743 503 994 217 827 320 833 290 750 298 879 289 785 266 727 362 894 311 850 337 885 132 738 250 803 305 893 183 802 375 874 272 713 258 667 324 889 504 995 530 1005 212 791 241 753 273 777 247 744 506 990 246 810 446 908 280 911 328 845 287 890 454 932 291 835 275 859 306 780 574 1025 168 753 197 848 280 860 291 836 396 892 290 800 315 865 439 939 510 1026 259 790 258 743 263 709 422 897 263 767 341 866 332 854 226 691 341 865 239 800 176 714 531 994 388 911 267 798 238 869 279 798 255 774 394 889 282 719 276 838 234 808 306 814 531 1041 376 902 549 1055 514 995 473 953 359 870 478 979 512 995 244 873 505 988 238 772 227 734 504 1013 234 696 384 889 214 840 193 755 348 846 285 788 193 836 541 1032 240 720 349 883 215 799 288 854 335 894 416 904 429 907 221 714 308 896 336 853 393 915 262 732 204 800 294 820 286 739 442 921 311 845 314 858 213 728 258 867 359 863 249 796 328 870 425 921 391 895 248 767 520 996 471 951 240 715 290 728 260 879 308 823 219 823 251 866 167 760 208 691 326 897 301 731 255 752 329 823 228 687 515 1038 555 1054 392 894 269 883 496 987 280 723 142 809 438 912 377 886 200 821 328 892 543 1016 301 850 305 861 191 857 245 700 298 820 482 965 333 912 543 1009 572 1029 266 798 273 703 320 880 219 780 341 878 198 704 280 802 272 791 301 801 402 890 535 1013 218 695 334 878 244 699 393 901 131 840 218 822 274 726 189 851 266 759 306 855 295 865 279 881 510 1019 513 995 264 784 263 775 234 800 429 910 141 837 321 889 254 845 249 782 491 957 280 720 286 780 371 857 274 713 523 1047 428 932 240 701 542 1025 309 858 207 703 299 818 213 675 434 940 224 744 307 851 313 865 210 811 255 703 181 839 267 811 256 727 559 1034 304 869 255 834 209 665 220 799 264 864 321 833 331 862 260 842 244 871 350 834 327 871 426 931 569 1024 247 695 496 999 519 992 231 803 430 937 572 1047 356 866 412 889 294 824 299 899 414 893 320 856 215 829 425 906 305 888 364 899 346 880 272 721 320 871 232 760 311 802 222 713 293 736 224 706 204 704 210 790 240 802 269 766 312 812 301 910 500 967 544 1044 211 711 231 728 560 1023 281 875 321 837 227 840 206 722 565 1043 360 853 266 706 542 1028 549 1062 341 844 285 787 219 794 247 774 310 878 344 909 285 808 510 1005 341 873 260 701 175 825 410 901 208 735 283 846 182 834 554 1043 409 915 262 723 187 853 253 720 499 990 186 719 284 909 269 807 376 882 375 887 275 885 218 733 268 737 268 852 236 742 314 800 259 833 542 1018 302 841 263 876 335 855 317 791 297 797 256 766 263 791 237 762 350 891 202 857 315 894 309 841 242 885 298 864 237 781 211 795 278 831 242 699 295 890 265 762 501 1009 272 784 274 811 424 895 410 918 580 1050 341 868 277 848 325 835 272 840 293 764 276 739 336 874 287 741 272 879 222 770 283 788 274 800 427 910 210 777 369 857 308 827 291 764 561 1038 231 868 451 917 406 888 194 726 217 690 318 882 279 764 294 818 328 890 200 690 236 715 317 862 274 901 523 1006 297 770 357 888 272 890 269 763 242 862 223 696 292 876 302 904 310 762 340 889 482 968 276 768 287 807 293 775 350 907 278 796 282 776 572 1036 436 893 221 692 533 1035 328 896 501 1014 392 905 321 902 262 684 280 833 435 906 320 820 344 863 328 849 253 887 535 1018 257 822 242 697 349 883 360 868 294 808 284 719 339 912 206 828 359 855 213 721 278 872 560 1036 279 727 254 856 313 852 279 759 275 760 288 761 386 875 294 860 315 824 291 822 342 885 412 909 288 863 446 938 282 821 558 1022 343 883 310 771 529 1050 499 955 508 993 325 830 242 802 327 898 266 824 562 1024 235 760 423 909 378 865 229 814 404 910 303 852 311 836 240 869 239 802 253 735 252 841 248 811 407 909 513 996 477 973 486 983 199 812 413 901 249 821 289 805 302 798 539 1055 253 889 304 763 242 834 238 799 259 704 437 914 373 908 305 756 246 850 404 897 241 872 299 759 507 1012 389 883 301 819 212 817 293 790 259 846 291 771 231 716 268 870 293 888 257 861 244 855 575 1035 240 865 196 839 275 746 240 853 370 888 284 831 346 875 290 762 343 866 260 710 218 840 248 865 344 833 167 757 210 686 251 868 339 841 392 907 439 926 322 873 331 909 406 885 283 913 271 764 248 777 195 744 263 758 269 706 275 790 283 905 383 873 453 928 288 737 348 890 294 794 501 1008 155 821 145 819 362 900 520 1043 270 875 255 708 224 831 290 846 381 888 427 938 290 884 272 737 399 903 255 773 360 845 254 747 272 874 223 683 212 855 248 691 218 814 281 771 279 904 259 702 242 773 318 844 326 834 187 809 296 908 355 891 431 931 215 726 275 848 304 807 519 1004 447 914 230 707 488 955 228 729 385 905 206 733 280 877 251 722 570 1038 199 843 193 734 495 979 215 728 238 741 315 847 253 814 247 840 292 757 274 893 253 687 313 770 243 871 445 910 279 870 214 856 243 872 260 786 271 872 320 881 320 882 281 716 557 1022 215 812 487 956 293 910 526 1003 333 836 563 1053 211 829 297 736 323 853 206 784 398 893 540 1051 431 911 526 1020 311 871 512 1014 549 1050 536 1056 203 841 227 824 280 779 283 807 394 915 358 859 287 768 403 896 303 826 429 924 340 893 138 810 214 796 508 1022 268 799 284 842 235 872 285 741 292 893 313 823 223 780 489 963 279 818 494 966 290 871 437 896 286 872 487 972 552 1022 286 893 439 896 560 1066 280 705 368 906 370 855 294 827 315 844 520 1040 274 770 260 862 376 910 506 1027 350 835 443 935 293 871 344 847 231 713 518 1005 396 889 449 936 243 811 305 755 373 897 438 921 442 937 359 901 205 847 341 790 297 828 267 702 341 834 261 886 506 1027 303 871 505 995 364 893 541 1010 555 1035 425 908 276 788 277 756 404 900 388 894 536 1018 316 894 313 898 292 766 446 918 318 850 353 887 271 830 236 753 403 888 246 872 209 792 576 1038 290 820 258 894 230 799 276 774 221 720 306 840 299 881 365 851 171 826 404 915 556 1025 199 789 203 796 396 882 288 881 254 715 455 939 192 734 409 893 249 790 509 992 409 914 206 853 291 874 234 796 478 984 539 1012 302 847 310 868 220 755 245 701 493 972 271 724 279 908 248 805 254 762 266 701 264 799 175 696 350 909 570 1045 498 962 237 813 392 899 239 700 296 783 305 887 287 834 256 794 196 795 518 1030 288 811 253 779 236 707 341 846 265 836 319 868 399 885 227 844 336 883 296 806 311 891 269 885 236 752 286 756 362 893 232 677 207 854 262 755 452 922 320 873 305 825 278 819 541 1020 190 750 308 773 282 775 311 801 284 814 268 807 229 681 473 961 409 909 487 951 299 712 210 851 299 765 325 832 502 1005 266 822 214 846 429 918 214 806 275 853 495 998 338 911 286 731 316 895 453 933 375 905 203 823 445 938 526 1026 213 792 340 833 237 882 360 866 571 1041 493 972 261 879 416 901 414 899 214 692 338 822 520 1014 296 857 281 852 289 724 244 880 493 1003 422 913 279 825 271 722 273 794 308 753 250 757 189 790 280 794 250 844 243 856 314 867 264 740 207 828 306 903 473 954 257 757 298 796 230 712 321 797 365 875 267 837 449 912 547 1031 434 890 272 873 232 827 160 717 498 958 405 906 379 898 315 862 254 786 284 835 206 681 282 735 353 883 390 911 357 865 240 780 454 936 476 953 319 854 422 911 328 902 308 879 291 843 242 881 392 887 315 886 275 730 307 900 508 999 336 872 338 827 539 1007 414 919 236 731 288 798 285 730 266 783 274 742 316 826 432 925 299 792 212 800 390 886 505 1012 471 949 242 704 258 881 285 838 311 904 343 888 386 883 495 995 268 810 336 837 360 911 549 1017 285 907 447 928 341 868 494 955 557 1031 333 786 337 878 242 819 228 780 240 801 299 810 256 727 302 884 283 837 249 699 247 866 264 812 204 690 347 852 328 908 225 847 318 833 304 820 190 830 203 707 315 832 221 869 264 843 342 888 315 869 172 853 309 725 323 834 431 929 303 805 375 900 220 843 335 864 375 877 249 810 306 774 258 692 241 861 236 771 308 853 276 775 250 865 406 885 303 777 299 755 354 900 243 762 267 781 511 1034 305 875 325 896 355 860 239 832 230 712 217 675 428 908 287 720 345 875 256 736 309 847 194 704 258 837 309 838 441 912 266 894 214 842 256 803 193 760 376 886 222 823 225 820 202 854 342 857 289 781 494 968 296 870 210 819 194 833 254 739 311 880 325 831 253 745 239 793 256 844 215 843 505 1001 343 852 285 874 228 753 327 899 285 756 488 965 279 861 207 827 179 802 206 860 362 850 198 823 334 898 301 778 253 826 252 720 187 824 286 804 314 820 284 866 240 814 355 902 536 1013 271 871 149 845 237 748 345 897 287 761 284 829 291 784 544 1029 285 793 477 971 273 690 239 798 445 907 395 879 542 1029 278 816 272 769 288 865 300 856 217 822 542 1027 491 977 470 962 570 1045 247 807 252 858 253 826 290 865 291 842 359 862 330 840 355 869 289 767 447 925 508 1009 247 853 249 811 254 756 253 766 346 875 376 904 371 908 333 833 142 707 270 782 492 975 347 864 303 892 300 849 505 998 291 843 264 836 315 878 322 899 365 881 213 807 172 843 234 876 241 832 530 1024 520 1018 278 860 365 863 272 803 410 902 317 805 233 875 228 684 300 858 437 929 577 1039 400 888 312 845 365 883 169 812 566 1057 251 841 279 895 244 687 398 910 277 812 527 1010 434 900 280 792 329 844 257 768 368 886 262 770 525 1002 487 962 296 787 305 834 492 956 194 686 280 770 224 702 222 778 289 839 277 838 258 699 290 789 526 1020 320 894 436 922 370 877 321 909 289 772 369 861 293 898 332 836 208 799 194 706 249 758 285 807 422 930 260 755 288 788 268 832 204 837 509 1027 402 882 239 745 288 913 253 835 350 909 273 773 294 841 222 807 284 856 247 822 256 853 292 719 230 761 272 789 321 867 219 786 281 822 534 1009 343 855 249 800 216 708 304 824 276 847 485 971 236 703 269 861 545 1037 281 810 271 867 266 829 278 698 237 771 256 765 322 824 344 830 343 858 215 819 363 861 325 886 209 834 342 843 452 914 325 826 245 810 543 1047 451 934 271 756 229 739 567 1031 334 827 249 727 287 780 509 1030 292 848 548 1037 223 860 312 763 545 1018 205 853 326 874 288 752 283 817 272 751 214 830 298 901 243 829 239 843 275 822 338 862 298 818 245 716 569 1022 275 825 175 727 494 961 240 714 388 877 313 874 310 821 279 731 261 746 540 1053 533 1044 243 691 235 695 283 810 488 963 220 850 220 832 239 789 345 861 296 791 278 834 326 847 560 1044 242 714 248 784 234 782 505 1017 429 910 313 873 295 805 273 891 289 707 239 768 258 695 198 677 195 793 325 831 328 898 250 844 214 849 254 710 339 876 242 778 508 1020 229 717 219 859 574 1049 207 708 406 913 280 853 273 843 253 734 301 773 261 700 445 929 302 867 244 728 560 1055 298 750 322 910 276 887 564 1025 293 721 474 979 264 772 266 899 285 828 374 899 256 741 367 873 263 837 522 1021 235 757 284 869 328 876 205 810 205 826 338 822 257 752 202 683 274 857 233 755 338 877 189 794 359 849 429 919 242 764 485 968 220 758 344 873 368 858 272 840 228 782 310 724 316 891 370 879 283 808 292 801 239 755 225 701 280 899 355 858 202 734 320 838 321 882 378 871 479 977 297 859 247 792 358 910 365 885 347 856 280 882 256 852 247 855 260 755 406 899 294 862 250 832 306 838 307 822 269 717 402 879 321 834 325 782 506 986 345 880 497 991 331 866 252 851 318 873 292 800 269 900 213 740 246 743 230 816 197 796 271 822 295 861 287 899 276 769 261 697 576 1026 257 864 224 692 254 751 247 752 378 905 284 822 216 687 249 768 226 748 200 854 448 932 237 736 254 852 252 744 235 766 279 822 264 824 307 789 234 801 486 974 271 884 342 836 551 1061 199 836 245 882 523 1050 256 758 249 758 283 757 383 894 129 775 392 908 349 862 415 911 350 854 313 840 387 897 222 691 300 881 425 892 340 908 258 777 541 1026 288 890 248 792 205 685 234 751 386 907 315 761 294 814 187 851 411 916 570 1032 274 783 566 1053 295 863 215 795 185 806 268 858 535 1056 252 850 182 839 231 808 277 873 517 1037 248 740 302 811 370 875 309 754 523 997 568 1026 136 803 270 809 385 893 343 850 238 773 242 823 219 810 322 838 497 973 353 853 374 856 293 724 286 877 293 789 269 889 250 828 271 705 290 746 552 1045 252 840 272 845 226 698 543 1022 361 906 431 922 257 843 250 756 415 891 530 1035 329 845 224 723 281 785 513 989 243 692 280 828 229 686 182 729 282 743 253 815 268 877 222 849 258 726 297 900 413 922 312 758 238 706 275 839 260 844 301 853 251 812 424 922 336 909 293 728 206 836 265 895 439 935 487 955 287 755 304 838 203 730 291 869 261 893 206 856 546 1029 448 924 268 799 304 908 309 759 535 1012 275 778 400 907 272 880 258 774 310 823 265 733 185 849 217 720 237 836 291 859 257 847 265 854 228 730 392 914 273 854 266 731 316 852 421 928 264 725 488 952 283 722 245 717 222 693 527 1004 511 1007 523 1030 219 838 216 822 426 912 301 820 237 741 314 776 286 831 281 850 301 772 267 748 274 710 354 904 571 1053 243 842 578 1052 373 898 532 1049 205 788 218 683 292 731 263 769 272 772 335 863 302 889 289 787 345 899 228 870 247 766 299 872 371 910 354 864 313 815 255 700 207 832 299 726 508 988 486 958 230 852 243 753 253 787 234 731 514 1036 556 1044 361 867 345 840 360 891 211 805 196 706 309 778 279 806 280 728 301 828 223 858 280 876 529 1025 230 696 482 967 554 1046 292 718 297 795 275 902 328 847 323 819 259 766 266 887 281 822 297 895 254 736 258 839 292 830 529 1006 534 1038 532 1002 241 884 320 829 225 711 420 925 237 764 311 807 527 1023 300 820 318 885 343 902 267 745 225 698 229 703 307 890 154 703 277 795 347 859 307 760 314 906 497 1007 257 845 337 838 281 767 289 838 302 912 237 851 479 957 282 844 276 758 302 864 201 842 544 1037 262 837 317 861 423 901 268 735 309 796 449 916 223 837 535 1003 406 900 237 794 294 726 573 1043 303 885 371 863 363 898 283 767 361 872 245 792 268 724 550 1013 236 667 432 933 293 730 266 830 244 818 551 1037 246 708 296 787 299 882 238 754 268 765 510 996 235 870 538 1023 272 899 292 859 282 833 568 1024 357 891 255 775 311 892 224 874 387 897 316 863 235 832 277 824 395 904 266 867 302 829 299 879 260 770 355 853 220 811 530 1042 191 705 243 789 291 843 250 750 242 842 278 893 251 859 230 813 213 755 249 762 560 1044 493 980 221 808 290 834 329 846 242 734 270 827 482 963 263 857 252 706 306 803 209 691 133 741 211 732 473 963 275 754 296 797 305 823 256 886 228 863 534 1056 563 1026 355 870 286 915 218 812 251 773 280 900 307 741 286 858 295 858 280 705 283 749 280 767 271 786 236 687 250 805 232 845 233 702 314 846 201 835 217 703 325 820 260 847 250 838 275 764 301 877 279 745 315 908 453 916 514 1010 151 767 257 809 211 813 275 886 453 942 198 756 230 876 229 827 454 924 346 842 253 804 283 768 180 710 249 829 420 905 354 875 245 732 199 747 528 1043 490 954 379 886 316 852 219 855 201 851 250 730 234 764 205 829 313 841 260 774 511 989 290 809 424 917 159 838 487 971 570 1058 273 710 356 910 469 958 220 830 372 884 293 896 293 892 335 862 379 887 576 1036 549 1054 354 850 252 823 501 992 295 891 523 1034 276 817 362 843 325 823 183 755 476 956 367 896 494 954 369 881 287 822 492 1001 357 908 307 855 254 705 238 695 427 929 308 803 337 850 296 768 136 848 301 818 349 896 316 768 293 793 281 841 240 678 239 760 170 835 368 895 213 786 266 888 277 770 419 905 283 868 263 880 264 776 292 889 275 792 543 1035 263 798 256 858 279 774 305 910 515 998 292 829 290 852 273 853 541 1015 534 1008 331 832 495 959 313 875 346 859 243 812 248 711 354 851 266 750 300 746 286 731 229 731 265 898 344 862 293 777 335 884 323 903 204 720 337 911 438 898 292 864 348 887 236 768 246 737 285 774 302 874 542 1055 307 811 232 766 329 887 365 905 338 900 512 998 314 836 555 1025 290 778 301 801 519 1035 416 891 445 908 290 749 271 783 255 812 432 894 310 898 301 839 569 1044 243 840 560 1049 261 808 244 723 242 861 227 735 408 898 417 903 526 1046 234 876 261 722 275 851 397 884 447 929 357 898 235 707 252 841 211 729 325 908 305 864 496 973 552 1034 265 896 277 854 260 691 279 833 232 818 197 825 558 1020 301 782 234 677 379 889 552 1024 209 783 240 729 289 872 330 862 564 1023 528 1026 212 792 244 816 261 888 261 821 247 836 249 877 333 864 226 712 289 852 285 916 216 862 282 758 328 878 285 888 285 794 329 903 197 760 566 1032 190 810 206 720 263 733 380 902 327 826 269 755 248 838 297 798 292 809 349 871 395 912 319 898 215 782 272 840 279 897 217 736 275 822 195 733 241 785 261 756 267 814 556 1022 335 882 446 915 430 905 334 830 240 787 149 714" fill="none" marker-start="url(#c0)" marker-mid="url(#c0)" marker-end="url(#c0)"/>
<path d="M205 872 488 950 198 879 267 945 263 905 184 866 260 922 226 891 249 901 226 885 179 883 261 930 284 924 270 946 261 945 457 923 275 909 266 947 457 939 264 924 292 917 307 912 199 875 264 944 358 912 444 895 269 917 275 916 180 884 316 915 263 898 388 915 263 910 194 874 201 867 456 904 232 889 280 920 263 930 204 873 226 893 301 914 179 870 266 913 284 935 280 926 260 932 251 904 417 932 460 913 246 889 174 886 217 889 214 871 271 917 129 879 224 880 208 885 283 932 331 913 162 864 393 919 449 900 460 925 219 886 217 875 286 930 265 946 196 860 143 880 251 904 201 875 380 913 276 946 267 934 208 867 265 930 285 920 254 904 279 951 262 935 373 913 212 871 221 878 198 872 255 907 458 922 447 896 384 916 250 897 260 924 271 910 229 881 456 919 272 944 423 938 281 931 174 884 462 946 413 926 315 914 250 894 202 875 280 954 363 913 283 946 243 893 451 904 458 920 206 862 201 862 303 914 261 918 147 883 174 880 361 912 372 913 218 886 198 864 239 890 256 899 194 864 260 903 417 928 265 906 206 881 256 902 280 916 272 947 341 914 338 914 370 915 209 886 235 893 457 913 261 919 231 890 265 949 284 929 228 882 278 933 264 951 197 887 270 922 284 922 478 948 274 913 466 947 274 946 273 944 278 927 273 929 261 946 417 928 456 907 268 908 458 935 275 926 275 924 210 879 189 864 262 905 454 913 457 922 269 952 279 953 232 888 455 931 498 950 201 863 212 866 264 908 271 939 454 913 279 920 282 951 275 924 170 876 271 953 263 904 411 925 173 877 365 914 395 917 263 932 275 921 195 871 243 894 460 927 230 881 455 928 272 917 263 929 286 932 279 932 285 938 286 926 210 887 409 923 351 914 221 884 215 885 265 915 174 882 250 894 245 900 461 928 393 915 285 925 262 918 259 897 193 885 216 884 286 940 259 913 396 916 281 943 201 878 408 924 420 930 392 916 270 943 189 871 284 947 203 881 265 937 461 939 275 913 265 949" fill="none" marker-start="url(#c1)" marker-mid="url(#c1)" marker-end="url(#c1)"/>
<path d="M382 918 471 908 216 1041 190 923 197 1038 213 1042 194 957 220 1097 209 900 235 979 466 906 234 919 220 1105 249 923 161 940 464 938 157 928 217 1061 229 1043 205 1034 146 1042 467 943 470 908 217 1077 465 916 202 1045 207 1041 167 1032 250 923 288 933 310 915 148 997 230 993 221 1096 307 915 319 915 147 1034 229 1011 281 956 231 1037 235 1082 163 955 234 926 119 967 227 1117 141 1016 233 1102 165 967 347 916 127 960 207 1052 181 910 216 1049 202 912 192 1068 187 971 177 1077 213 1093 254 934 190 890 422 937 220 1074 204 1094 219 924 228 914 136 1043 207 887 229 1095 461 923 200 1069 218 980 219 1117 244 922 189 1085 179 975 221 915 170 984 158 1050 240 1076 237 916 191 1052 308 915 170 1034 471 938 223 949 204 908 225 923 191 933 194 1004 249 917 472 910 467 941 194 1032 229 1028 256 913 158 913 196 952 472 924 231 903 209 1115 252 908 196 911 172 1055 153 949 171 1019 204 1030 203 905 209 910 183 1057 234 926 184 1062 252 926 179 1044 141 988 190 1106 217 1093 122 940 211 1047 288 929 218 920 214 1066 210 1087 188 1077 162 915 206 1033 453 900 473 935 218 983 233 1082 187 894 242 1082 250 933 208 907 216 941 201 1077 156 900 208 993 116 981 472 927 365 918 233 1066 190 1044 143 1019 214 1077 499 945 246 919 246 919 222 1047 214 919 234 1070 171 1029 132 1008 251 929 215 1021 197 1053 231 1094 167 1029 466 925 211 1039 139 916 161 1005 224 928 203 921 216 1055 249 954 148 1056 468 919 98 972 155 959 239 904 228 1080 236 1104 185 1036 250 937 314 915 470 939 145 893 231 981 217 1086 215 924 256 935 199 910 469 938 466 930 208 987 193 929 237 996 234 1103 221 1048 188 988 234 960 198 894 383 917 467 943 227 1033 227 1090 197 1060 245 918 228 1037 463 916 252 921 218 930 465 917 214 931 189 903 218 905 231 1062 114 971 235 906 468 927 216 923 212 1048 226 1114 163 997 469 932 232 907 187 1051 256 938 166 912 150 986 254 981 186 900 242 928 222 1016 171 958 210 1013 247 910 208 911 221 1042 254 937 209 1013 253 942 244 1039 124 973 230 1103 201 1106 177 921 471 944 215 1010 122 955 475 936 471 930 182 1027 391 920 142 1034 148 1036 187 919 167 1057 186 1076 152 970 189 1027 475 934 219 1052 245 1001 212 953 227 1082 218 1129 123 959 249 916 210 1053 457 903 198 965 226 917 217 896 482 945 225 1016 249 935 220 906 136 1031 139 1014 235 953 216 905 223 1075 208 1040 146 1040 170 1019 222 929 203 900 232 901 217 1069 165 1015 190 1033 141 930 227 896 185 1040 138 912 236 1115 207 1051 207 1025 196 1113 487 945 239 1131 231 898 218 979 196 896 153 1022 244 917 153 912 487 943 148 888 454 901 128 920 159 1037 127 1025 466 923 186 1000 224 903 204 923 196 917 199 1078 253 928 191 953 234 1101 111 978 149 981 179 889 473 940 251 923 204 921 169 889 147 1010 183 890 213 942 208 900 449 896 208 926 247 926 465 910 249 926 297 917 251 930 228 900 205 909 225 1041 467 932 204 890 240 929 193 894 181 933 211 898 175 945 229 938 204 989 240 959 183 1007 195 1118 472 937 211 928 458 901 234 916 257 926 175 971 203 1104 236 915 234 1081 221 1098 217 1071 207 1062 190 929 197 906 251 1039 470 921 156 1065 230 906 241 919 176 966 207 916 161 992 170 1048 202 1049 229 1082 124 916 230 914 233 1005 467 932 191 1099 462 927 204 1079 470 915 474 910 256 919 198 1071 178 976 245 909 232 1054 233 899 462 911 200 1110 229 1090 192 891 129 994 179 958 212 1039 195 1120 168 909 214 928 188 946 461 910 202 907 163 966 196 1002 156 976 243 906 232 909 469 936 249 1022 501 945 256 921 195 931 204 925 200 1040 218 1046 232 903 201 1025 157 1085 289 942 231 929 204 1089 198 1112 239 1015 192 924 200 1047 240 935 103 943 223 1110 181 1003 242 913 389 918 235 957 195 1037 177 929 396 921 468 920 217 1091 238 1046 158 899 208 888 202 916 226 894 225 1085 197 1003 185 922 146 982 244 904 221 1073 196 1102 374 917 474 913 210 1045 477 945 255 925 480 945 179 1049 120 973 194 1095 201 891 476 943 150 912 157 1002 224 956 474 929 213 930 248 917 153 895 254 937 217 977 164 1019 190 992 200 1053 384 919 253 918 201 960 206 918 219 906 137 996 195 984 239 1050 289 951 493 942 252 961 244 917 255 927 394 922" fill="none" marker-start="url(#c2)" marker-mid="url(#c2)" marker-end="url(#c2)"/>
<path d="M545 943 505 916 516 912 538 946 536 923 487 941 492 940 546 929 517 925 519 902 530 937 310 916 529 911 493 931 526 921 290 929 539 932 476 912 508 939 551 942 546 933 476 929 522 905 530 917 494 922 354 919 500 912 477 907 493 938 496 914 530 927 524 935 516 903 543 924 292 922 570 941 541 927 318 916 491 923 403 927 485 919 486 906 485 901 496 937 509 944 404 926 504 921 486 931 469 904 541 928 500 923 534 941 485 935 480 921 505 910 540 938 332 918 529 920 532 913 526 918 525 927 500 913 499 903 531 937 494 909 485 913 287 954 554 934 518 919 525 942 477 935 295 920 516 929 495 932 347 918 478 931 478 917 291 939 491 911 534 919 485 902 537 931 512 903 538 939 495 922 292 944 291 936 503 925 544 942 497 910 550 932 477 937 252 1022 490 917 382 920 498 902 496 902 500 939 491 919 502 930 291 924 531 940 495 921 299 918 482 903 544 928 520 940 519 940 520 921 477 932 498 912 552 938 474 903 526 942 509 933 545 938 477 902 551 938 556 942 518 926 518 941 494 942 506 912 494 933 532 924 494 923 463 901 530 939 506 911 523 926 528 938 483 927 495 917 386 922 535 936 340 917 509 914 521 921 508 932 468 903 534 929 520 925 482 936 513 934 512 929 477 903 291 940 477 916 508 905 499 904 291 945 521 937 536 940 383 922 523 922 492 906 523 917 511 939 512 943 499 925 501 904 533 930 522 929 295 921 492 906 497 942 515 901 380 922 520 925 502 935 492 925 334 918 488 937 510 934 526 928 541 942 290 934 508 915 479 934 493 916 487 939 485 930 509 914 516 906 499 907 520 929 508 908 544 925 521 904 478 922 498 913 531 949 503 899 544 937 520 920 511 924 484 929 516 907 358 920 507 912 495 901 461 901 500 925 517 927 513 898 484 931 506 941 510 918 344 919 370 920 532 919 524 904 523 938 485 938 510 913 485 924 538 936 509 917 541 930 474 920 484 911 478 915 525 913 479 905 533 918 504 901 519 905 488 921 511 945 519 939 498 905 509 941 520 924 548 933 570 941 478 913 407 928 518 921 525 941 530 911 527 917 481 903 524 927 516 932 484 940 491 916 537 937 515 932 497 901" fill="none" marker-start="url(#c3)" marker-mid="url(#c3)" marker-end="url(#c3)"/>
<path d="M569 938 522 901 305 919 583 926 530 911 575 933 294 948 548 922 546 917 537 916 524 905 293 924 453 897 413 934 569 923 556 922 576 927 543 921 549 926 532 907 531 906 538 913 559 930 369 923 553 929 550 921 464 900 410 931 516 895 552 927 486 900 534 910 513 894 560 935 570 929 571 933 569 928 545 913 551 927 567 937 417 937 567 923 549 918 543 921 570 929 523 903 471 899 575 929 563 935 566 923 564 938 517 896 456 898 581 936 338 920 565 938 585 920 353 921 536 917 481 900 550 923 559 923 558 926 531 907 542 911 553 922 525 904 577 934 558 931 569 924 510 895 377 923 557 917 358 921 291 936 570 940 354 921 387 923 285 959 379 921 570 927 365 922 514 896 503 898 559 928 580 931 525 901 292 935 519 895 337 920 566 932 563 939 573 934 537 918 407 931 562 930 563 933 547 920 469 900 538 913 369 922 467 901 552 919 552 926 482 900 567 927 562 926 565 920 561 933 387 925 555 931 545 916 535 915 559 925 582 929 578 929 291 935 520 898 578 930 470 900 540 913 572 931" fill="none" marker-start="url(#c4)" marker-mid="url(#c4)" marker-end="url(#c4)"/>
<path d="M387 927 526 889 552 902 545 909 553 913 583 899 506 895 486 896 352 922 294 940 356 923 350 924 550 908 585 911 498 896 572 907 540 909 555 900 572 850 582 906 537 905 561 904 546 902 585 895 578 906 542 904 534 901 537 902 520 888 557 912 412 935 260 991 346 922 261 991 286 959 590 875 547 896 255 1017 556 911 543 898 552 901 567 920 534 895 568 920 545 908 562 915 567 919 574 923 526 896 558 906 541 905 562 911 577 899 252 1011 508 895 518 892 489 898 533 897 566 914 540 900 524 890 527 897 541 901 539 906 475 898 573 921 545 896 294 951 494 896 578 916 563 912 576 918 582 906 568 915 573 918 544 895 482 898 541 905 558 907 351 923 575 914 549 904 558 910 578 901 545 902 542 903 576 921 577 927 545 908 579 926 531 898 364 924 564 915 554 910 370 925 262 988 582 923 566 911 313 920 552 912 569 905 559 907 563 911 581 862 469 899 518 889 548 909 533 899 561 912 576 913 576 925 566 912 296 951 256 1000 568 898 569 915 531 902" fill="none" marker-start="url(#c5)" marker-mid="url(#c5)" marker-end="url(#c5)"/>
<path d="M572 872 262 997 569 893 583 892 545 891 489 893 575 859 484 896 546 884 472 896 557 861 374 927 298 945 542 874 296 927 526 874 548 892 357 926 537 890 346 926 580 879 565 887 260 1015 538 862 542 856 260 1017 262 1013 296 952 563 891 559 886 544 857 350 925 294 929 533 874 505 892 538 887 545 854 507 891 262 1017 366 927 546 881 521 883 362 926 539 887 556 861 331 924 566 895 273 1029 568 853 550 852 565 869 366 927 557 894 528 872 545 846 540 869 545 884 290 958 500 893 536 850 564 854 297 947 541 855 452 891 528 880 366 925 525 872 580 888 538 892 531 890 259 1016 583 874 298 939 535 884 541 882 532 892 564 852 317 923 305 922 326 923 548 860 573 870 551 874 542 864 537 851 555 884 541 847 530 889 559 884 411 937 296 929 347 926 294 929 565 854 542 894 565 895 286 962 522 880 399 932 576 859 561 877 559 876 516 887 417 940 564 855 481 896 483 896 552 868 318 922 580 896 530 856 520 887 573 884 556 862 535 889 530 884 297 927 535 869 583 885 542 884 340 926 372 928 400 932 559 875 297 939 379 930 559 880 570 876 575 878 549 888 547 861 563 857 565 889 553 857 581 885 552 851 296 926 299 950 263 987 534 865 481 896 530 875 294 932 575 893 532 854" fill="none" marker-start="url(#c6)" marker-mid="url(#c6)" marker-end="url(#c6)"/>
<path d="M398 935 330 927 492 888 269 1021 356 930 492 889 536 770 521 869 263 1005 304 941 269 1017 488 890 282 970 282 972 304 942 350 929 359 927 271 989 268 1019 388 934 303 948 465 893 266 1018 318 926 333 926 354 930 564 811 508 890 298 954 268 993 514 884 455 892 486 893 376 929 382 932 372 933 562 770 267 997 385 934 289 962 301 944 383 930 404 935 529 847 495 818 302 948 265 1016 396 934 409 937 336 927 522 872 349 926 399 933 264 1013 500 892 377 930 299 927 272 992 268 994 369 930 330 927 481 890 269 984 299 934 298 930 517 883 340 927 302 944 268 989 302 943 355 928 468 892 521 873 494 815 301 948 478 895 401 936 520 867 275 982 504 890 299 953 325 926 517 882 300 935 374 931 268 993 302 934 271 987 273 1024 275 1022 459 893 267 999 291 959 316 925 407 936 525 861 296 960 315 924 355 928 534 770 271 992 261 1003 471 893" fill="none" marker-start="url(#c7)" marker-mid="url(#c7)" marker-end="url(#c7)"/>
<path d="M299 1025 541 780 534 788 470 854 582 777 546 800 283 981 573 779 529 825 509 850 485 835 489 876 406 937 505 887 557 797 533 806 533 798 288 990 526 801 501 877 527 803 546 817 490 845 306 945 532 833 479 842 519 871 282 992 481 846 504 831 545 776 276 990 305 939 327 934 503 853 282 1008 543 791 393 939 404 939 485 854 518 837 543 805 545 797 553 798 557 812 499 839 517 849 538 802 296 971 274 1004 574 779 545 798 467 877 548 792 497 854 462 882 538 810 311 1021 521 836 325 935 525 780 472 863 551 779 488 871 385 938 282 1009 293 987 280 1008 377 939 309 953 360 933 290 1015 521 813 525 788 533 801 546 783 572 784 534 830 514 871 288 992 312 961 512 869 509 866 373 935 485 880 462 889 541 817 313 940 338 932 278 983 382 935 492 845 273 993 489 850 466 892 494 849 282 991 544 814 290 1020 465 860 523 849 280 1006 469 861 518 854 517 873 291 1003 542 825 346 938 512 870 547 803 573 780 522 831 526 834 555 799 549 785 284 1020 399 942 583 783 508 849 548 775 467 886 537 829 400 965 492 824 480 885 498 827 295 973 322 955 274 1002 534 813 300 960 504 861 292 1001 288 991 538 829 526 808 313 926 498 859 313 950 479 860 320 938 306 972 287 1003 324 931 510 826 572 784 556 806 306 937 502 825 483 841 501 879 280 1023 568 772 483 850 358 932 355 934 321 956 461 881 303 980 477 883 583 790 495 838 577 794 289 973 538 791 566 780 286 1014 292 968 530 820 489 871 303 963 315 942 591 781 320 946 536 808 308 968 478 873 532 832 512 835 292 976 526 786 530 820 503 872 512 858 525 826 466 867 499 847 479 865 466 890 526 802 476 846 513 876 545 812 585 787 312 960 481 855 286 978 467 855 466 875 514 822 548 778 473 851 468 888 526 826 490 855 276 998 531 790 502 864 512 843 516 834 511 848 513 839 539 780 286 997 577 785 322 951 534 816 485 856 525 802 324 931 529 788 492 860 577 793 482 868 487 883 326 939 488 860 535 817 539 805 557 784 488 856 530 773 394 937 288 984 531 792 455 880 288 1014 523 834 562 800 502 857 314 941 333 939 491 868 524 819 524 815 562 800 494 839 302 957 370 938 296 983 485 854 578 782 284 1008 519 799 516 854 537 811 487 875 525 800 304 962 405 938 556 777 475 888 340 932 530 787 495 828 296 973 528 783 320 953 315 957 278 1001 543 817 470 882 577 791 482 860 534 787 588 783 516 867 514 867 478 873 521 846 296 1022 537 809 495 881 463 863 577 800 318 929 500 867 563 782 541 821 492 864 487 865 566 777 582 775 327 932 274 1002 512 868 467 858 556 791 277 999 546 806 487 848 308 948 407 939 581 787 501 872 287 985 558 807 526 789 506 831 523 781 534 776 519 862 467 891 557 798 312 953 528 836 549 811 538 781 307 962 538 796 502 850 544 813 528 783 498 865 508 837 584 777 283 999 528 798 397 939 502 843 514 829 528 831 462 863 545 786 501 861 291 973 327 940 481 867 309 935 496 836 517 813 537 794 477 880 525 818 552 812 464 871 503 841 525 829 316 948 540 821 300 966 470 872 367 935 486 854 460 888 553 796 471 886 479 842 310 958 527 835 529 788 545 816 490 852 351 934 564 777 276 1017 552 776 556 806 519 865 534 821 497 839 498 879 516 858 514 838 313 933 297 988 500 857 579 801 511 886 487 874 566 804 524 822 532 791 489 851 285 985 389 936 555 814 494 835 542 804 375 936 583 791 296 1019 308 948 315 957 509 879 501 884 492 880 570 784 372 935 524 835 527 809 490 847 378 936 551 777 321 929 511 866 540 791 542 815 314 927 538 830 277 1018 312 955 285 993 288 1026 513 855 290 990 291 966 457 874 521 795 520 823 510 882 498 879 310 945 479 841 506 854 512 823 284 989 311 969 275 988 321 947 454 881 556 792 480 885 275 983 496 817 487 863 311 934 518 815 499 883 493 837 525 805 367 934 523 834 303 959 320 928 273 1015 303 974 539 823 541 796 542 819 580 783 306 944 528 811 546 786 570 791 455 883 290 1021 459 884 542 822 561 785 290 979 492 843 509 858 500 856 590 791 491 868 303 979 276 1006 506 850 529 801 509 870 505 835 494 863 553 807 562 775 542 779 556 792 396 938 538 814 293 970 458 869 563 785 509 848 490 849 545 813 495 857 578 791 500 826 500 842 586 794 558 783 543 795 318 936 540 824 494 861 547 785 584 785 531 782 578 781 510 852 562 808 487 843 352 938 561 801 534 803 561 774 500 873 573 779 529 805 494 838 538 792 523 832 480 872 558 791 481 864 486 858 503 886 328 928 574 778 401 940 501 878 516 872 500 834 373 940 504 816 507 832 326 944 581 783 281 990 535 809 357 933 275 1013 508 827 486 850 503 823 512 879 545 785 550 777 582 777 568 773 335 930 494 831 476 844 346 934 308 976 534 820 506 837 282 1022 320 953 484 867 515 877 317 947 310 965 298 1027 323 949 579 774 504 841 517 843 467 864 528 816 561 775 476 870 409 944 554 815 532 809 540 823 280 1021 332 933 313 968 289 988 562 776 546 820 517 807 514 846 569 794 281 1000 568 782 538 800 500 858 481 887 289 991 405 942 592 781 307 945 514 883 477 879 515 854 307 962 305 965 495 864 305 935 489 885 546 817 514 840 526 844 277 1019 284 982 462 873 526 793 471 851 400 938 543 817 560 785 566 790 556 783 560 812 471 874 541 793 571 803 295 1023 548 806 319 943 466 861 553 813 551 780 521 855 321 949 501 876 505 832 470 858 533 806 314 962 550 774 559 797 299 976 542 792 493 837 312 956 506 825 476 857 548 774 570 775 508 879 560 796 335 929 311 939 316 947 510 850 465 866 478 890 311 945 583 783 324 936 570 783 471 851 494 869 566 778 523 786 502 834 533 817 303 970 521 843 407 938 392 939 550 809 290 988 545 800 275 987 481 874 500 861 311 974 513 839 313 937 520 860 565 801 547 770 515 859 570 788 399 938 286 991 305 959 517 839 316 932 273 991 359 935 316 946 511 850 512 880 506 858 460 872 317 944" fill="none" marker-start="url(#c8)" marker-mid="url(#c8)" marker-end="url(#c8)"/>
<path d="M315 982 390 970 350 977 395 955 352 963 375 975 333 973 345 979 327 985 357 952 346 973 374 977 348 992 387 951 295 1003 367 961 334 955 309 1017 370 973 350 992 360 952 359 946 385 952 370 944 370 941 389 964 374 967 374 953 317 984 380 955 347 982 324 973 297 1002 347 975 356 940 338 997 336 983 324 971 308 998 328 996 318 979 336 968 370 943 312 988 345 981 353 955 330 988 318 1004 327 1007 323 968 371 944 321 970 333 979 317 977 318 973 390 967 319 977 351 940 363 978 315 997 318 996 336 987 406 954 298 1019 354 992 352 981 383 940 320 975 334 984 374 967 388 942 320 988 309 1015 371 941 316 979 345 962 329 1007 328 978 327 993 374 964 311 1006 328 983 360 946 338 955 360 975 351 971 352 988 327 957 355 939 298 1008 309 1002 333 949 361 989 374 980 323 1004 313 1012 351 985 347 968 380 942 370 960 338 998 376 965 299 1018 382 978 399 954 368 963 369 964 338 958 393 946 369 944 320 1006 344 960 324 974 326 980 313 1012 352 996 341 962 359 962 350 959 359 962 353 956 345 964 354 956 336 979 389 944 383 953 362 987 362 964 316 1006 369 940 390 964 308 994 312 990 298 989 342 967 375 948 375 940 387 967 374 971 318 969 298 992 313 990 387 948 334 964 324 988 295 999 380 977 358 971 306 1007 297 998 309 982 394 949 304 999 380 942 377 944 346 950 371 967 332 1006 304 982 330 978 304 1011 347 979 308 1003 385 943 379 976 392 957 318 997 348 943 351 959 316 1010 315 973 405 947 360 981 334 980 315 991 354 979 302 987 352 968 310 975 382 943 339 961 373 963 309 1007 356 961 386 955 338 989 318 967 386 960 341 976 358 977 362 945 313 1006 406 952 317 1011 349 971 367 967 305 982 331 993 402 955 318 1013 378 958 362 942 301 990 374 953 347 979 343 966 376 963 393 954 348 942 339 976 364 946 313 980 336 966 336 990 317 983 310 999 336 961 308 987 346 968 341 969 385 973 406 949 361 952 308 1010 388 972 329 985 311 1016 344 972 358 968 342 986 306 984 380 952 368 963 296 1005 303 991 349 943 328 1003 373 949 367 976 348 978 302 1011 332 969 332 1000 322 1005 401 943 345 998 348 990 361 963 316 1007 314 980 364 989 379 945 322 966 390 957 359 975 310 987 318 969 333 972 302 992 383 947 313 1008 359 966 332 985 304 986 330 952 376 973 332 977 329 1002 353 970 318 998 301 1004 332 1003 408 950 376 960 401 950 324 975 346 995 333 990 307 982 351 980 337 951 367 959 346 992 336 963 328 952 306 997 368 980 314 1004 303 993 358 977 330 991 341 996 311 975 349 984 348 974 357 976 341 982 339 942 350 945 360 985 306 1018 355 951 365 949 319 973 381 958 350 996 357 975 346 947 359 954 356 965 352 978 314 1018 355 986 354 953 336 971 357 949 352 941 345 953 357 963 344 966 319 999 352 990 352 977 309 1009 348 983 322 971 372 951 402 948 297 1011 303 1005 379 960 329 974 311 1001" fill="none" marker-start="url(#c9)" marker-mid="url(#c9)" marker-end="url(#c9)"/>
<circle cx="264.9" cy="786.4" r="6.9" fill="#b03030" stroke="#000" stroke-width="1.4"/>
<circle cx="558.8" cy="790.2" r="6.9" fill="#000" stroke="#000" stroke-width="1.4"/>
<circle cx="384.4" cy="919" r="6.9" fill="#138a13" stroke="#000" stroke-width="1.4"/>
<circle cx="311.1" cy="952" r="6.9" fill="#ffff00" stroke="#000" stroke-width="1.4"/>
<circle cx="485.2" cy="971.3" r="6.9" fill="#ffa500" stroke="#000" stroke-width="1.4"/>
<rect x="74.4" y="647.5" width="599.1" height="499.29999999999995" fill="none" stroke="#111" stroke-width="1.8"/>
<path d="M74.4 713.5h6 M74.4 817.1h6 M74.4 920.7h6 M74.4 1024.3h6 M74.4 1127.9h6 M100.7 1146.8v-6.5 M230.1 1146.8v-6.5 M359.5 1146.8v-6.5 M488.9 1146.8v-6.5 M618.3 1146.8v-6.5" stroke="#111" stroke-width="1.6"/>
<text x="68.5" y="717.8" text-anchor="end" font-family="'Liberation Serif','Times New Roman',serif" font-size="13">20</text>
<text x="68.5" y="821.4" text-anchor="end" font-family="'Liberation Serif','Times New Roman',serif" font-size="13">10</text>
<text x="68.5" y="925.0" text-anchor="end" font-family="'Liberation Serif','Times New Roman',serif" font-size="13">0</text>
<text x="68.5" y="1028.6" text-anchor="end" font-family="'Liberation Serif','Times New Roman',serif" font-size="13">−10</text>
<text x="68.5" y="1132.2" text-anchor="end" font-family="'Liberation Serif','Times New Roman',serif" font-size="13">−20</text>
<text x="100.7" y="1161.7" text-anchor="middle" font-family="'Liberation Serif','Times New Roman',serif" font-size="13">0.0</text>
<text x="230.1" y="1161.7" text-anchor="middle" font-family="'Liberation Serif','Times New Roman',serif" font-size="13">0.2</text>
<text x="359.5" y="1161.7" text-anchor="middle" font-family="'Liberation Serif','Times New Roman',serif" font-size="13">0.4</text>
<text x="488.9" y="1161.7" text-anchor="middle" font-family="'Liberation Serif','Times New Roman',serif" font-size="13">0.6</text>
<text x="618.3" y="1161.7" text-anchor="middle" font-family="'Liberation Serif','Times New Roman',serif" font-size="13">0.8</text>
<text x="373.9" y="1182.8" text-anchor="middle" font-family="'Liberation Serif','Times New Roman',serif" font-size="16.7">NDVI</text>
<text transform="translate(37,898.5) rotate(-90)" text-anchor="middle" font-family="'Liberation Serif','Times New Roman',serif" font-size="17">SHAP Interaction Value (Precipitation × NDVI)</text>
<text x="15" y="652" font-family="'Liberation Serif','Times New Roman',serif" font-size="31">(c)</text>
<defs><linearGradient id="cb" x1="0" y1="1" x2="0" y2="0"><stop offset="0" stop-color="#3333ff"/><stop offset="1" stop-color="#ff3333"/></linearGradient></defs>
<rect x="710.4" y="647.5" width="25.4" height="499.29999999999995" fill="url(#cb)" stroke="#111" stroke-width="1.6"/>
<path d="M735.8 1100.7h5 M735.8 1001.7h5 M735.8 902.7h5 M735.8 803.7h5 M735.8 704.7h5" stroke="#111" stroke-width="1.6"/>
<text x="746.7" y="1105.3" font-family="'Liberation Serif','Times New Roman',serif" font-size="13.6">1000</text>
<text x="746.7" y="1006.3" font-family="'Liberation Serif','Times New Roman',serif" font-size="13.6">1100</text>
<text x="746.7" y="907.3" font-family="'Liberation Serif','Times New Roman',serif" font-size="13.6">1200</text>
<text x="746.7" y="808.3" font-family="'Liberation Serif','Times New Roman',serif" font-size="13.6">1300</text>
<text x="746.7" y="709.3" font-family="'Liberation Serif','Times New Roman',serif" font-size="13.6">1400</text>
<text transform="translate(792,897) rotate(-90)" text-anchor="middle" font-family="'Liberation Serif','Times New Roman',serif" font-size="17">Precipitation</text>
<circle cx="258" cy="603.6" r="7.6" fill="#000" stroke="#000" stroke-width="1.4"/>
<text x="281.6" y="607.9" font-family="'Liberation Serif','Times New Roman',serif" font-size="13">9931</text>
<circle cx="258" cy="622.4" r="7.6" fill="#ffa500" stroke="#000" stroke-width="1.4"/>
<text x="281.6" y="626.7" font-family="'Liberation Serif','Times New Roman',serif" font-size="13">53817</text>
<circle cx="352.3" cy="603.6" r="7.6" fill="#138a13" stroke="#000" stroke-width="1.4"/>
<text x="375.4" y="607.9" font-family="'Liberation Serif','Times New Roman',serif" font-size="13">55033</text>
<circle cx="352.3" cy="622.4" r="7.6" fill="#ffff00" stroke="#000" stroke-width="1.4"/>
<text x="375.4" y="626.7" font-family="'Liberation Serif','Times New Roman',serif" font-size="13">10005</text>
<circle cx="447.3" cy="603.6" r="7.6" fill="#b03030" stroke="#000" stroke-width="1.4"/>
<text x="470.9" y="607.9" font-family="'Liberation Serif','Times New Roman',serif" font-size="13">78840</text>
<g font-family="'Liberation Serif','Times New Roman',serif"><g stroke="#c4c4c4" stroke-width="1" stroke-dasharray="3 2"><line x1="1312.0" y1="730.6" x2="1312.0" y2="740.6"/><line x1="1220.8" y1="782.0" x2="1220.8" y2="792.0"/><line x1="1179.4" y1="833.4" x2="1179.4" y2="843.4"/><line x1="1206.5" y1="884.8" x2="1206.5" y2="894.8"/><line x1="1231.1" y1="936.2" x2="1231.1" y2="946.2"/><line x1="1212.9" y1="987.6" x2="1212.9" y2="997.6"/><line x1="1195.5" y1="1039.0" x2="1195.5" y2="1049.0"/><line x1="1205.0" y1="1055.6" x2="1205.0" y2="1110.8"/><line x1="1638.0" y1="669.3" x2="1638.0" y2="1110.8"/></g>
<g stroke="#d4d4d4" stroke-width="1" stroke-dasharray="1.5 4"><line x1="1174.2" y1="709.9" x2="1667.4" y2="709.9"/><line x1="1174.2" y1="761.3" x2="1667.4" y2="761.3"/><line x1="1174.2" y1="812.7" x2="1667.4" y2="812.7"/><line x1="1174.2" y1="864.1" x2="1667.4" y2="864.1"/><line x1="1174.2" y1="915.5" x2="1667.4" y2="915.5"/><line x1="1174.2" y1="966.9" x2="1667.4" y2="966.9"/><line x1="1174.2" y1="1018.3" x2="1667.4" y2="1018.3"/><line x1="1174.2" y1="1069.7" x2="1667.4" y2="1069.7"/></g>
<polygon fill="#ff0051" points="1312.0,689.2 1631.0,689.2 1638.0,709.9 1631.0,730.6 1312.0,730.6"/>
<text x="1475.0" y="715.9" fill="#fff" stroke="#fff" stroke-width="0.3" text-anchor="middle" font-size="17.8">+73.34</text>
<polygon fill="#ff0051" points="1220.8,740.6 1305.0,740.6 1312.0,761.3 1305.0,782.0 1220.8,782.0"/>
<text x="1266.4" y="767.3" fill="#fff" stroke="#fff" stroke-width="0.3" text-anchor="middle" font-size="17.8">+20.52</text>
<polygon fill="#ff0051" points="1179.4,792.0 1213.8,792.0 1220.8,812.7 1213.8,833.4 1179.4,833.4"/>
<text x="1200.1" y="818.7" fill="#fff" stroke="#fff" stroke-width="0.3" text-anchor="middle" font-size="17.8">+9.3</text>
<polygon fill="#008bfb" points="1206.5,843.4 1186.4,843.4 1179.4,864.1 1186.4,884.8 1206.5,884.8"/>
<text x="1193.0" y="870.1" fill="#fff" stroke="#fff" stroke-width="0.3" text-anchor="middle" font-size="17.8">−6.1</text>
<polygon fill="#008bfb" points="1231.1,894.8 1213.5,894.8 1206.5,915.5 1213.5,936.2 1231.1,936.2"/>
<text x="1200.5" y="921.5" fill="#008bfb" stroke="#008bfb" stroke-width="0.3" text-anchor="end" font-size="17.8">−5.52</text>
<polygon fill="#ff0051" points="1212.9,946.2 1224.1,946.2 1231.1,966.9 1224.1,987.6 1212.9,987.6"/>
<text x="1237.1" y="972.9" fill="#ff0051" stroke="#ff0051" stroke-width="0.3" font-size="17.8">+4.09</text>
<polygon fill="#ff0051" points="1195.5,997.6 1205.9,997.6 1212.9,1018.3 1205.9,1039.0 1195.5,1039.0"/>
<text x="1218.9" y="1024.3" fill="#ff0051" stroke="#ff0051" stroke-width="0.3" font-size="17.8">+3.92</text>
<polygon fill="#008bfb" points="1205.0,1049.0 1202.5,1049.0 1195.5,1069.7 1202.5,1090.4 1205.0,1090.4"/>
<text x="1189.5" y="1075.7" fill="#008bfb" stroke="#008bfb" stroke-width="0.3" text-anchor="end" font-size="17.8">−2.14</text>
<text x="1163.8" y="716.9" text-anchor="end" font-size="19.7" stroke="#000" stroke-width="0.3"><tspan fill="#999" stroke="#999" stroke-width="0.3">1400 </tspan><tspan fill="#bbb" stroke="none">=</tspan> Precipitation</text>
<text x="1163.8" y="768.3" text-anchor="end" font-size="19.7" stroke="#000" stroke-width="0.3"><tspan fill="#999" stroke="#999" stroke-width="0.3">0.71 </tspan><tspan fill="#bbb" stroke="none">=</tspan> NDVI</text>
<text x="1163.8" y="819.7" text-anchor="end" font-size="19.7" stroke="#000" stroke-width="0.3"><tspan fill="#999" stroke="#999" stroke-width="0.3">1335 </tspan><tspan fill="#bbb" stroke="none">=</tspan> Elevation</text>
<text x="1163.8" y="871.1" text-anchor="end" font-size="19.7" stroke="#000" stroke-width="0.3"><tspan fill="#999" stroke="#999" stroke-width="0.3">11.025 </tspan><tspan fill="#bbb" stroke="none">=</tspan> Soil organic matter</text>
<text x="1163.8" y="922.5" text-anchor="end" font-size="19.7" stroke="#000" stroke-width="0.3"><tspan fill="#999" stroke="#999" stroke-width="0.3">11.269 </tspan><tspan fill="#bbb" stroke="none">=</tspan> Temperature</text>
<text x="1163.8" y="973.9" text-anchor="end" font-size="19.7" stroke="#000" stroke-width="0.3"><tspan fill="#999" stroke="#999" stroke-width="0.3">11.189 </tspan><tspan fill="#bbb" stroke="none">=</tspan> Distance(Housing estate)</text>
<text x="1163.8" y="1025.3" text-anchor="end" font-size="19.7" stroke="#000" stroke-width="0.3"><tspan fill="#999" stroke="#999" stroke-width="0.3">10.628 </tspan><tspan fill="#bbb" stroke="none">=</tspan> Distance(Water)</text>
<text x="1163.8" y="1076.7" text-anchor="end" font-size="19.7" stroke="#000" stroke-width="0.3"><tspan fill="#999" stroke="#999" stroke-width="0.3">3.162 </tspan><tspan fill="#bbb" stroke="none">=</tspan> Distance(Road)</text>
<line x1="1174.2" y1="1110.8" x2="1667.4" y2="1110.8" stroke="#222" stroke-width="1.6"/>
<g stroke="#222" stroke-width="1.6"><line x1="1244.2" y1="1110.8" x2="1244.2" y2="1116.8"/><line x1="1333.1" y1="1110.8" x2="1333.1" y2="1116.8"/><line x1="1422.0" y1="1110.8" x2="1422.0" y2="1116.8"/><line x1="1510.9" y1="1110.8" x2="1510.9" y2="1116.8"/><line x1="1599.8" y1="1110.8" x2="1599.8" y2="1116.8"/><line x1="1205.0" y1="1110.8" x2="1205.0" y2="1116.8"/></g>
<text x="1244.2" y="1135.0" text-anchor="middle" font-size="18.5" stroke="#000" stroke-width="0.35">680</text>
<text x="1333.1" y="1135.0" text-anchor="middle" font-size="18.5" stroke="#000" stroke-width="0.35">700</text>
<text x="1422.0" y="1135.0" text-anchor="middle" font-size="18.5" stroke="#000" stroke-width="0.35">720</text>
<text x="1510.9" y="1135.0" text-anchor="middle" font-size="18.5" stroke="#000" stroke-width="0.35">740</text>
<text x="1599.8" y="1135.0" text-anchor="middle" font-size="18.5" stroke="#000" stroke-width="0.35">760</text>
<line x1="1638.0" y1="664.3" x2="1638.0" y2="669.3" stroke="#222" stroke-width="1.6"/>
<text x="1625.7" y="655.7" font-family="'DejaVu Sans','Liberation Sans',sans-serif" font-size="17.6"><tspan font-style="italic">f</tspan>(<tspan font-style="italic">x</tspan>)<tspan fill="#8c8c8c"> = 768.59</tspan></text>
<text x="1175.7" y="1157.0" font-family="'DejaVu Sans','Liberation Sans',sans-serif" font-size="18.4"><tspan font-style="italic">E</tspan>[<tspan font-style="italic">f</tspan>(<tspan font-style="italic">X</tspan>)]</text>
<text x="1243.2" y="1157.0" font-family="'DejaVu Sans','Liberation Sans',sans-serif" font-size="18.4" fill="#8c8c8c">= 671.175</text>
<text x="1215.8" y="609.0" font-size="21.2" stroke="#000" stroke-width="0.3">SHAP Waterfall Explanation (Sample ID: 9931)</text>
<text x="896.3" y="655.4" font-size="31.1">(d)</text></g>
<g font-family="'Liberation Serif','Times New Roman',serif"><g stroke="#c4c4c4" stroke-width="1" stroke-dasharray="3 2"><line x1="861.9" y1="1364.2" x2="861.9" y2="1373.4"/><line x1="730.6" y1="1416.0" x2="730.6" y2="1425.2"/><line x1="654.3" y1="1467.8" x2="654.3" y2="1477.0"/><line x1="599.0" y1="1519.6" x2="599.0" y2="1528.8"/><line x1="637.0" y1="1571.4" x2="637.0" y2="1580.6"/><line x1="600.5" y1="1623.2" x2="600.5" y2="1632.4"/><line x1="575.2" y1="1675.0" x2="575.2" y2="1684.2"/><line x1="593.0" y1="1691.6" x2="593.0" y2="1747.2"/><line x1="310.4" y1="1302.5" x2="310.4" y2="1747.2"/></g>
<g stroke="#d4d4d4" stroke-width="1" stroke-dasharray="1.5 4"><line x1="276.4" y1="1342.9" x2="868.8" y2="1342.9"/><line x1="276.4" y1="1394.7" x2="868.8" y2="1394.7"/><line x1="276.4" y1="1446.5" x2="868.8" y2="1446.5"/><line x1="276.4" y1="1498.3" x2="868.8" y2="1498.3"/><line x1="276.4" y1="1550.1" x2="868.8" y2="1550.1"/><line x1="276.4" y1="1601.9" x2="868.8" y2="1601.9"/><line x1="276.4" y1="1653.7" x2="868.8" y2="1653.7"/><line x1="276.4" y1="1705.5" x2="868.8" y2="1705.5"/></g>
<polygon fill="#008bfb" points="861.9,1321.6 317.4,1321.6 310.4,1342.9 317.4,1364.2 861.9,1364.2"/>
<text x="586.1" y="1348.9" fill="#fff" stroke="#fff" stroke-width="0.3" text-anchor="middle" font-size="17.8">−94.75</text>
<polygon fill="#ff0051" points="730.6,1373.4 854.9,1373.4 861.9,1394.7 854.9,1416.0 730.6,1416.0"/>
<text x="796.2" y="1400.7" fill="#fff" stroke="#fff" stroke-width="0.3" text-anchor="middle" font-size="17.8">+22.55</text>
<polygon fill="#ff0051" points="654.3,1425.2 723.6,1425.2 730.6,1446.5 723.6,1467.8 654.3,1467.8"/>
<text x="692.4" y="1452.5" fill="#fff" stroke="#fff" stroke-width="0.3" text-anchor="middle" font-size="17.8">+13.12</text>
<polygon fill="#ff0051" points="599.0,1477.0 647.3,1477.0 654.3,1498.3 647.3,1519.6 599.0,1519.6"/>
<text x="626.6" y="1504.3" fill="#fff" stroke="#fff" stroke-width="0.3" text-anchor="middle" font-size="17.8">+9.49</text>
<polygon fill="#008bfb" points="637.0,1528.8 606.0,1528.8 599.0,1550.1 606.0,1571.4 637.0,1571.4"/>
<text x="618.0" y="1556.1" fill="#fff" stroke="#fff" stroke-width="0.3" text-anchor="middle" font-size="17.8">−6.53</text>
<polygon fill="#ff0051" points="600.5,1580.6 630.0,1580.6 637.0,1601.9 630.0,1623.2 600.5,1623.2"/>
<text x="643.0" y="1607.9" fill="#ff0051" stroke="#ff0051" stroke-width="0.3" font-size="17.8">+6.27</text>
<polygon fill="#ff0051" points="575.2,1632.4 593.5,1632.4 600.5,1653.7 593.5,1675.0 575.2,1675.0"/>
<text x="606.5" y="1659.7" fill="#ff0051" stroke="#ff0051" stroke-width="0.3" font-size="17.8">+4.36</text>
<polygon fill="#008bfb" points="593.0,1684.2 582.2,1684.2 575.2,1705.5 582.2,1726.8 593.0,1726.8"/>
<text x="569.2" y="1711.5" fill="#008bfb" stroke="#008bfb" stroke-width="0.3" text-anchor="end" font-size="17.8">−3.07</text>
<text x="265.6" y="1349.9" text-anchor="end" font-size="19.7" stroke="#000" stroke-width="0.3"><tspan fill="#999" stroke="#999" stroke-width="0.3">1000 </tspan><tspan fill="#bbb" stroke="none">=</tspan> Precipitation</text>
<text x="265.6" y="1401.7" text-anchor="end" font-size="19.7" stroke="#000" stroke-width="0.3"><tspan fill="#999" stroke="#999" stroke-width="0.3">6.037 </tspan><tspan fill="#bbb" stroke="none">=</tspan> Soil organic matter</text>
<text x="265.6" y="1453.5" text-anchor="end" font-size="19.7" stroke="#000" stroke-width="0.3"><tspan fill="#999" stroke="#999" stroke-width="0.3">15.579 </tspan><tspan fill="#bbb" stroke="none">=</tspan> Temperature</text>
<text x="265.6" y="1505.3" text-anchor="end" font-size="19.7" stroke="#000" stroke-width="0.3"><tspan fill="#999" stroke="#999" stroke-width="0.3">311 </tspan><tspan fill="#bbb" stroke="none">=</tspan> Elevation</text>
<text x="265.6" y="1557.1" text-anchor="end" font-size="19.7" stroke="#000" stroke-width="0.3"><tspan fill="#999" stroke="#999" stroke-width="0.3">1.342 </tspan><tspan fill="#bbb" stroke="none">=</tspan> Distance(Road)</text>
<text x="265.6" y="1608.9" text-anchor="end" font-size="19.7" stroke="#000" stroke-width="0.3"><tspan fill="#999" stroke="#999" stroke-width="0.3">0.596 </tspan><tspan fill="#bbb" stroke="none">=</tspan> NDVI</text>
<text x="265.6" y="1660.7" text-anchor="end" font-size="19.7" stroke="#000" stroke-width="0.3"><tspan fill="#999" stroke="#999" stroke-width="0.3">0.566 </tspan><tspan fill="#bbb" stroke="none">=</tspan> Distance(Water)</text>
<text x="265.6" y="1712.5" text-anchor="end" font-size="19.7" stroke="#000" stroke-width="0.3"><tspan fill="#999" stroke="#999" stroke-width="0.3">0.8 </tspan><tspan fill="#bbb" stroke="none">=</tspan> Distance(Housing estate)</text>
<line x1="276.4" y1="1747.2" x2="868.8" y2="1747.2" stroke="#222" stroke-width="1.6"/>
<g stroke="#222" stroke-width="1.6"><line x1="295.2" y1="1747.2" x2="295.2" y2="1753.2"/><line x1="411.6" y1="1747.2" x2="411.6" y2="1753.2"/><line x1="528.0" y1="1747.2" x2="528.0" y2="1753.2"/><line x1="644.4" y1="1747.2" x2="644.4" y2="1753.2"/><line x1="760.8" y1="1747.2" x2="760.8" y2="1753.2"/><line x1="593.0" y1="1747.2" x2="593.0" y2="1753.2"/></g>
<text x="295.2" y="1771.4" text-anchor="middle" font-size="18.5" stroke="#000" stroke-width="0.35">620</text>
<text x="411.6" y="1771.4" text-anchor="middle" font-size="18.5" stroke="#000" stroke-width="0.35">640</text>
<text x="528.0" y="1771.4" text-anchor="middle" font-size="18.5" stroke="#000" stroke-width="0.35">660</text>
<text x="644.4" y="1771.4" text-anchor="middle" font-size="18.5" stroke="#000" stroke-width="0.35">680</text>
<text x="760.8" y="1771.4" text-anchor="middle" font-size="18.5" stroke="#000" stroke-width="0.35">700</text>
<line x1="310.4" y1="1297.5" x2="310.4" y2="1302.5" stroke="#222" stroke-width="1.6"/>
<text x="296.9" y="1287.2" font-family="'DejaVu Sans','Liberation Sans',sans-serif" font-size="17.6"><tspan font-style="italic">f</tspan>(<tspan font-style="italic">x</tspan>)<tspan fill="#8c8c8c"> = 622.609</tspan></text>
<text x="565.0" y="1794.0" font-family="'DejaVu Sans','Liberation Sans',sans-serif" font-size="18.4"><tspan font-style="italic">E</tspan>[<tspan font-style="italic">f</tspan>(<tspan font-style="italic">X</tspan>)]</text>
<text x="632.5" y="1794.0" font-family="'DejaVu Sans','Liberation Sans',sans-serif" font-size="18.4" fill="#8c8c8c">= 671.175</text>
<text x="360.4" y="1241.3" font-size="21.4" stroke="#000" stroke-width="0.3">SHAP Waterfall Explanation (Sample ID: 53817)</text>
<text x="16.3" y="1236.9" font-size="30.3">(e)</text></g>
<g font-family="'Liberation Serif','Times New Roman',serif"><g stroke="#c4c4c4" stroke-width="1" stroke-dasharray="3 2"><line x1="1369.8" y1="1364.4" x2="1369.8" y2="1373.4"/><line x1="1302.4" y1="1415.8" x2="1302.4" y2="1424.8"/><line x1="1236.6" y1="1467.2" x2="1236.6" y2="1476.2"/><line x1="1173.0" y1="1518.6" x2="1173.0" y2="1527.6"/><line x1="1211.4" y1="1570.0" x2="1211.4" y2="1579.0"/><line x1="1187.3" y1="1621.4" x2="1187.3" y2="1630.4"/><line x1="1210.6" y1="1672.8" x2="1210.6" y2="1681.8"/><line x1="1190.3" y1="1692.3" x2="1190.3" y2="1748.0"/><line x1="1635.4" y1="1302.5" x2="1635.4" y2="1748.0"/></g>
<g stroke="#d4d4d4" stroke-width="1" stroke-dasharray="1.5 4"><line x1="1167.9" y1="1343.2" x2="1663.6" y2="1343.2"/><line x1="1167.9" y1="1394.6" x2="1663.6" y2="1394.6"/><line x1="1167.9" y1="1446.0" x2="1663.6" y2="1446.0"/><line x1="1167.9" y1="1497.4" x2="1663.6" y2="1497.4"/><line x1="1167.9" y1="1548.8" x2="1663.6" y2="1548.8"/><line x1="1167.9" y1="1600.2" x2="1663.6" y2="1600.2"/><line x1="1167.9" y1="1651.6" x2="1663.6" y2="1651.6"/><line x1="1167.9" y1="1703.0" x2="1663.6" y2="1703.0"/></g>
<polygon fill="#ff0051" points="1369.8,1322.0 1628.4,1322.0 1635.4,1343.2 1628.4,1364.4 1369.8,1364.4"/>
<text x="1502.6" y="1349.2" fill="#fff" stroke="#fff" stroke-width="0.3" text-anchor="middle" font-size="17.8">+39.21</text>
<polygon fill="#ff0051" points="1302.4,1373.4 1362.8,1373.4 1369.8,1394.6 1362.8,1415.8 1302.4,1415.8"/>
<text x="1336.1" y="1400.6" fill="#fff" stroke="#fff" stroke-width="0.3" text-anchor="middle" font-size="17.8">+9.95</text>
<polygon fill="#ff0051" points="1236.6,1424.8 1295.4,1424.8 1302.4,1446.0 1295.4,1467.2 1236.6,1467.2"/>
<text x="1269.5" y="1452.0" fill="#fff" stroke="#fff" stroke-width="0.3" text-anchor="middle" font-size="17.8">+9.72</text>
<polygon fill="#ff0051" points="1173.0,1476.2 1229.6,1476.2 1236.6,1497.4 1229.6,1518.6 1173.0,1518.6"/>
<text x="1204.8" y="1503.4" fill="#fff" stroke="#fff" stroke-width="0.3" text-anchor="middle" font-size="17.8">+9.39</text>
<polygon fill="#008bfb" points="1211.4,1527.6 1180.0,1527.6 1173.0,1548.8 1180.0,1570.0 1211.4,1570.0"/>
<text x="1192.2" y="1554.8" fill="#fff" stroke="#fff" stroke-width="0.3" text-anchor="middle" font-size="17.8">−5.67</text>
<polygon fill="#ff0051" points="1187.3,1579.0 1204.4,1579.0 1211.4,1600.2 1204.4,1621.4 1187.3,1621.4"/>
<text x="1217.4" y="1606.2" fill="#ff0051" stroke="#ff0051" stroke-width="0.3" font-size="17.8">+3.56</text>
<polygon fill="#008bfb" points="1210.6,1630.4 1194.3,1630.4 1187.3,1651.6 1194.3,1672.8 1210.6,1672.8"/>
<text x="1181.3" y="1657.6" fill="#008bfb" stroke="#008bfb" stroke-width="0.3" text-anchor="end" font-size="17.8">−3.45</text>
<polygon fill="#ff0051" points="1190.3,1681.8 1203.6,1681.8 1210.6,1703.0 1203.6,1724.2 1190.3,1724.2"/>
<text x="1216.6" y="1709.0" fill="#ff0051" stroke="#ff0051" stroke-width="0.3" font-size="17.8">+3.01</text>
<text x="1157.9" y="1350.2" text-anchor="end" font-size="19.85" stroke="#000" stroke-width="0.3"><tspan fill="#999" stroke="#999" stroke-width="0.3">5.71 </tspan><tspan fill="#bbb" stroke="none">=</tspan> Soil organic matter</text>
<text x="1157.9" y="1401.6" text-anchor="end" font-size="19.85" stroke="#000" stroke-width="0.3"><tspan fill="#999" stroke="#999" stroke-width="0.3">13.686 </tspan><tspan fill="#bbb" stroke="none">=</tspan> Temperature</text>
<text x="1157.9" y="1453.0" text-anchor="end" font-size="19.85" stroke="#000" stroke-width="0.3"><tspan fill="#999" stroke="#999" stroke-width="0.3">0 </tspan><tspan fill="#bbb" stroke="none">=</tspan> Distance(Road)</text>
<text x="1157.9" y="1504.4" text-anchor="end" font-size="19.85" stroke="#000" stroke-width="0.3"><tspan fill="#999" stroke="#999" stroke-width="0.3">286 </tspan><tspan fill="#bbb" stroke="none">=</tspan> Elevation</text>
<text x="1157.9" y="1555.8" text-anchor="end" font-size="19.85" stroke="#000" stroke-width="0.3"><tspan fill="#999" stroke="#999" stroke-width="0.3">4.123 </tspan><tspan fill="#bbb" stroke="none">=</tspan> Distance(Water)</text>
<text x="1157.9" y="1607.2" text-anchor="end" font-size="19.85" stroke="#000" stroke-width="0.3"><tspan fill="#999" stroke="#999" stroke-width="0.3">4.952 </tspan><tspan fill="#bbb" stroke="none">=</tspan> Distance(Housing estate)</text>
<text x="1157.9" y="1658.6" text-anchor="end" font-size="19.85" stroke="#000" stroke-width="0.3"><tspan fill="#999" stroke="#999" stroke-width="0.3">1100 </tspan><tspan fill="#bbb" stroke="none">=</tspan> Precipitation</text>
<text x="1157.9" y="1710.0" text-anchor="end" font-size="19.85" stroke="#000" stroke-width="0.3"><tspan fill="#999" stroke="#999" stroke-width="0.3">0.439 </tspan><tspan fill="#bbb" stroke="none">=</tspan> NDVI</text>
<line x1="1167.9" y1="1748.0" x2="1663.6" y2="1748.0" stroke="#222" stroke-width="1.6"/>
<g stroke="#222" stroke-width="1.6"><line x1="1182.3" y1="1748.0" x2="1182.3" y2="1754.0"/><line x1="1250.0" y1="1748.0" x2="1250.0" y2="1754.0"/><line x1="1317.8" y1="1748.0" x2="1317.8" y2="1754.0"/><line x1="1385.5" y1="1748.0" x2="1385.5" y2="1754.0"/><line x1="1453.2" y1="1748.0" x2="1453.2" y2="1754.0"/><line x1="1520.9" y1="1748.0" x2="1520.9" y2="1754.0"/><line x1="1588.7" y1="1748.0" x2="1588.7" y2="1754.0"/><line x1="1656.4" y1="1748.0" x2="1656.4" y2="1754.0"/><line x1="1190.3" y1="1748.0" x2="1190.3" y2="1754.0"/></g>
<text x="1182.3" y="1772.0" text-anchor="middle" font-size="18.5" stroke="#000" stroke-width="0.35">670</text>
<text x="1250.0" y="1772.0" text-anchor="middle" font-size="18.5" stroke="#000" stroke-width="0.35">680</text>
<text x="1317.8" y="1772.0" text-anchor="middle" font-size="18.5" stroke="#000" stroke-width="0.35">690</text>
<text x="1385.5" y="1772.0" text-anchor="middle" font-size="18.5" stroke="#000" stroke-width="0.35">700</text>
<text x="1453.2" y="1772.0" text-anchor="middle" font-size="18.5" stroke="#000" stroke-width="0.35">710</text>
<text x="1520.9" y="1772.0" text-anchor="middle" font-size="18.5" stroke="#000" stroke-width="0.35">720</text>
<text x="1588.7" y="1772.0" text-anchor="middle" font-size="18.5" stroke="#000" stroke-width="0.35">730</text>
<text x="1656.4" y="1772.0" text-anchor="middle" font-size="18.5" stroke="#000" stroke-width="0.35">740</text>
<line x1="1635.4" y1="1297.5" x2="1635.4" y2="1302.5" stroke="#222" stroke-width="1.6"/>
<text x="1619.7" y="1287.5" font-family="'DejaVu Sans','Liberation Sans',sans-serif" font-size="17.6"><tspan font-style="italic">f</tspan>(<tspan font-style="italic">x</tspan>)<tspan fill="#8c8c8c"> = 736.893</tspan></text>
<text x="1160.5" y="1795.0" font-family="'DejaVu Sans','Liberation Sans',sans-serif" font-size="18.4"><tspan font-style="italic">E</tspan>[<tspan font-style="italic">f</tspan>(<tspan font-style="italic">X</tspan>)]</text>
<text x="1228.0" y="1795.0" font-family="'DejaVu Sans','Liberation Sans',sans-serif" font-size="18.4" fill="#8c8c8c">= 671.175</text>
<text x="1204.2" y="1241.0" font-size="21.4" stroke="#000" stroke-width="0.3">SHAP Waterfall Explanation (Sample ID: 55033)</text>
<text x="901.2" y="1236.8" font-size="30.9">(f)</text></g>
<g font-family="'Liberation Serif','Times New Roman',serif"><g stroke="#c4c4c4" stroke-width="1" stroke-dasharray="3 2"><line x1="860.0" y1="1970.6" x2="860.0" y2="1979.8"/><line x1="361.9" y1="2022.8" x2="361.9" y2="2032.0"/><line x1="611.6" y1="2075.0" x2="611.6" y2="2084.2"/><line x1="411.0" y1="2127.2" x2="411.0" y2="2136.4"/><line x1="313.9" y1="2179.4" x2="313.9" y2="2188.6"/><line x1="404.0" y1="2231.6" x2="404.0" y2="2240.8"/><line x1="475.5" y1="2283.8" x2="475.5" y2="2293.0"/><line x1="496.5" y1="2300.6" x2="496.5" y2="2356.7"/><line x1="331.6" y1="1908.0" x2="331.6" y2="2356.7"/></g>
<g stroke="#d4d4d4" stroke-width="1" stroke-dasharray="1.5 4"><line x1="308.0" y1="1949.1" x2="867.2" y2="1949.1"/><line x1="308.0" y1="2001.3" x2="867.2" y2="2001.3"/><line x1="308.0" y1="2053.5" x2="867.2" y2="2053.5"/><line x1="308.0" y1="2105.7" x2="867.2" y2="2105.7"/><line x1="308.0" y1="2157.9" x2="867.2" y2="2157.9"/><line x1="308.0" y1="2210.1" x2="867.2" y2="2210.1"/><line x1="308.0" y1="2262.3" x2="867.2" y2="2262.3"/><line x1="308.0" y1="2314.5" x2="867.2" y2="2314.5"/></g>
<polygon fill="#008bfb" points="860.0,1927.6 338.6,1927.6 331.6,1949.1 338.6,1970.6 860.0,1970.6"/>
<text x="595.8" y="1955.1" fill="#fff" stroke="#fff" stroke-width="0.3" text-anchor="middle" font-size="18.1">−27.36</text>
<polygon fill="#ff0051" points="361.9,1979.8 853.0,1979.8 860.0,2001.3 853.0,2022.8 361.9,2022.8"/>
<text x="611.0" y="2007.3" fill="#fff" stroke="#fff" stroke-width="0.3" text-anchor="middle" font-size="18.1">+25.79</text>
<polygon fill="#008bfb" points="611.6,2032.0 368.9,2032.0 361.9,2053.5 368.9,2075.0 611.6,2075.0"/>
<text x="486.8" y="2059.5" fill="#fff" stroke="#fff" stroke-width="0.3" text-anchor="middle" font-size="18.1">−12.93</text>
<polygon fill="#ff0051" points="411.0,2084.2 604.6,2084.2 611.6,2105.7 604.6,2127.2 411.0,2127.2"/>
<text x="511.3" y="2111.7" fill="#fff" stroke="#fff" stroke-width="0.3" text-anchor="middle" font-size="18.1">+10.39</text>
<polygon fill="#ff0051" points="313.9,2136.4 404.0,2136.4 411.0,2157.9 404.0,2179.4 313.9,2179.4"/>
<text x="362.4" y="2163.9" fill="#fff" stroke="#fff" stroke-width="0.3" text-anchor="middle" font-size="18.1">+5.03</text>
<polygon fill="#008bfb" points="404.0,2188.6 320.9,2188.6 313.9,2210.1 320.9,2231.6 404.0,2231.6"/>
<text x="359.0" y="2216.1" fill="#fff" stroke="#fff" stroke-width="0.3" text-anchor="middle" font-size="18.1">−4.67</text>
<polygon fill="#008bfb" points="475.5,2240.8 411.0,2240.8 404.0,2262.3 411.0,2283.8 475.5,2283.8"/>
<text x="439.8" y="2268.3" fill="#fff" stroke="#fff" stroke-width="0.3" text-anchor="middle" font-size="18.1">−3.7</text>
<polygon fill="#008bfb" points="496.5,2293.0 482.5,2293.0 475.5,2314.5 482.5,2336.0 496.5,2336.0"/>
<text x="469.5" y="2320.5" fill="#008bfb" stroke="#008bfb" stroke-width="0.3" text-anchor="end" font-size="18.1">−1.09</text>
<text x="298.3" y="1956.1" text-anchor="end" font-size="20.1" stroke="#000" stroke-width="0.3"><tspan fill="#999" stroke="#999" stroke-width="0.3">0.326 </tspan><tspan fill="#bbb" stroke="none">=</tspan> NDVI</text>
<text x="298.3" y="2008.3" text-anchor="end" font-size="20.1" stroke="#000" stroke-width="0.3"><tspan fill="#999" stroke="#999" stroke-width="0.3">1277 </tspan><tspan fill="#bbb" stroke="none">=</tspan> Precipitation</text>
<text x="298.3" y="2060.5" text-anchor="end" font-size="20.1" stroke="#000" stroke-width="0.3"><tspan fill="#999" stroke="#999" stroke-width="0.3">9.666 </tspan><tspan fill="#bbb" stroke="none">=</tspan> Soil organic matter</text>
<text x="298.3" y="2112.7" text-anchor="end" font-size="20.1" stroke="#000" stroke-width="0.3"><tspan fill="#999" stroke="#999" stroke-width="0.3">1333 </tspan><tspan fill="#bbb" stroke="none">=</tspan> Elevation</text>
<text x="298.3" y="2164.9" text-anchor="end" font-size="20.1" stroke="#000" stroke-width="0.3"><tspan fill="#999" stroke="#999" stroke-width="0.3">14.612 </tspan><tspan fill="#bbb" stroke="none">=</tspan> Distance(Housing estate)</text>
<text x="298.3" y="2217.1" text-anchor="end" font-size="20.1" stroke="#000" stroke-width="0.3"><tspan fill="#999" stroke="#999" stroke-width="0.3">4.104 </tspan><tspan fill="#bbb" stroke="none">=</tspan> Distance(Water)</text>
<text x="298.3" y="2269.3" text-anchor="end" font-size="20.1" stroke="#000" stroke-width="0.3"><tspan fill="#999" stroke="#999" stroke-width="0.3">2.417 </tspan><tspan fill="#bbb" stroke="none">=</tspan> Distance(Road)</text>
<text x="298.3" y="2321.5" text-anchor="end" font-size="20.1" stroke="#000" stroke-width="0.3"><tspan fill="#999" stroke="#999" stroke-width="0.3">13.12 </tspan><tspan fill="#bbb" stroke="none">=</tspan> Temperature</text>
<line x1="308.0" y1="2356.7" x2="867.2" y2="2356.7" stroke="#222" stroke-width="1.6"/>
<g stroke="#222" stroke-width="1.6"><line x1="377.3" y1="2356.7" x2="377.3" y2="2362.7"/><line x1="473.9" y1="2356.7" x2="473.9" y2="2362.7"/><line x1="570.4" y1="2356.7" x2="570.4" y2="2362.7"/><line x1="667.0" y1="2356.7" x2="667.0" y2="2362.7"/><line x1="763.5" y1="2356.7" x2="763.5" y2="2362.7"/><line x1="860.0" y1="2356.7" x2="860.0" y2="2362.7"/><line x1="496.5" y1="2356.7" x2="496.5" y2="2362.7"/></g>
<text x="377.3" y="2381.6" text-anchor="middle" font-size="18.8" stroke="#000" stroke-width="0.35">665</text>
<text x="473.9" y="2381.6" text-anchor="middle" font-size="18.8" stroke="#000" stroke-width="0.35">670</text>
<text x="570.4" y="2381.6" text-anchor="middle" font-size="18.8" stroke="#000" stroke-width="0.35">675</text>
<text x="667.0" y="2381.6" text-anchor="middle" font-size="18.8" stroke="#000" stroke-width="0.35">680</text>
<text x="763.5" y="2381.6" text-anchor="middle" font-size="18.8" stroke="#000" stroke-width="0.35">685</text>
<text x="860.0" y="2381.6" text-anchor="middle" font-size="18.8" stroke="#000" stroke-width="0.35">690</text>
<line x1="331.6" y1="1903.0" x2="331.6" y2="1908.0" stroke="#222" stroke-width="1.6"/>
<text x="318.2" y="1893.0" font-family="'DejaVu Sans','Liberation Sans',sans-serif" font-size="17.6"><tspan font-style="italic">f</tspan>(<tspan font-style="italic">x</tspan>)<tspan fill="#8c8c8c"> = 662.65</tspan></text>
<text x="466.8" y="2404.0" font-family="'DejaVu Sans','Liberation Sans',sans-serif" font-size="18.4"><tspan font-style="italic">E</tspan>[<tspan font-style="italic">f</tspan>(<tspan font-style="italic">X</tspan>)]</text>
<text x="534.3" y="2404.0" font-family="'DejaVu Sans','Liberation Sans',sans-serif" font-size="18.4" fill="#8c8c8c">= 671.175</text>
<text x="374.8" y="1846.5" font-size="21.56" stroke="#000" stroke-width="0.3">SHAP Waterfall Explanation (Sample ID: 10005)</text>
<text x="26.7" y="1858.1" font-size="31.2">(g)</text></g>
<g font-family="'Liberation Serif','Times New Roman',serif"><g stroke="#c4c4c4" stroke-width="1" stroke-dasharray="3 2"><line x1="1319.3" y1="1967.8" x2="1319.3" y2="1977.2"/><line x1="1441.8" y1="2019.2" x2="1441.8" y2="2028.6"/><line x1="1551.1" y1="2070.6" x2="1551.1" y2="2080.0"/><line x1="1653.0" y1="2122.0" x2="1653.0" y2="2131.4"/><line x1="1629.2" y1="2173.4" x2="1629.2" y2="2182.8"/><line x1="1618.2" y1="2224.8" x2="1618.2" y2="2234.2"/><line x1="1610.5" y1="2276.2" x2="1610.5" y2="2285.6"/><line x1="1613.8" y1="2291.6" x2="1613.8" y2="2346.7"/><line x1="1191.7" y1="1906.2" x2="1191.7" y2="2346.7"/></g>
<g stroke="#d4d4d4" stroke-width="1" stroke-dasharray="1.5 4"><line x1="1163.7" y1="1946.8" x2="1659.0" y2="1946.8"/><line x1="1163.7" y1="1998.2" x2="1659.0" y2="1998.2"/><line x1="1163.7" y1="2049.6" x2="1659.0" y2="2049.6"/><line x1="1163.7" y1="2101.0" x2="1659.0" y2="2101.0"/><line x1="1163.7" y1="2152.4" x2="1659.0" y2="2152.4"/><line x1="1163.7" y1="2203.8" x2="1659.0" y2="2203.8"/><line x1="1163.7" y1="2255.2" x2="1659.0" y2="2255.2"/><line x1="1163.7" y1="2306.6" x2="1659.0" y2="2306.6"/></g>
<polygon fill="#008bfb" points="1319.3,1925.8 1198.7,1925.8 1191.7,1946.8 1198.7,1967.8 1319.3,1967.8"/>
<text x="1255.5" y="1952.8" fill="#fff" stroke="#fff" stroke-width="0.3" text-anchor="middle" font-size="17.8">−61.25</text>
<polygon fill="#008bfb" points="1441.8,1977.2 1326.3,1977.2 1319.3,1998.2 1326.3,2019.2 1441.8,2019.2"/>
<text x="1380.6" y="2004.2" fill="#fff" stroke="#fff" stroke-width="0.3" text-anchor="middle" font-size="17.8">−58.77</text>
<polygon fill="#008bfb" points="1551.1,2028.6 1448.8,2028.6 1441.8,2049.6 1448.8,2070.6 1551.1,2070.6"/>
<text x="1496.5" y="2055.6" fill="#fff" stroke="#fff" stroke-width="0.3" text-anchor="middle" font-size="17.8">−52.44</text>
<polygon fill="#008bfb" points="1653.0,2080.0 1558.1,2080.0 1551.1,2101.0 1558.1,2122.0 1653.0,2122.0"/>
<text x="1602.1" y="2107.0" fill="#fff" stroke="#fff" stroke-width="0.3" text-anchor="middle" font-size="17.8">−48.9</text>
<polygon fill="#ff0051" points="1629.2,2131.4 1646.0,2131.4 1653.0,2152.4 1646.0,2173.4 1629.2,2173.4"/>
<text x="1659.0" y="2158.4" fill="#ff0051" stroke="#ff0051" stroke-width="0.3" font-size="17.8">+11.41</text>
<polygon fill="#ff0051" points="1618.2,2182.8 1622.2,2182.8 1629.2,2203.8 1622.2,2224.8 1618.2,2224.8"/>
<text x="1635.2" y="2209.8" fill="#ff0051" stroke="#ff0051" stroke-width="0.3" font-size="17.8">+5.28</text>
<polygon fill="#ff0051" points="1610.5,2234.2 1611.2,2234.2 1618.2,2255.2 1611.2,2276.2 1610.5,2276.2"/>
<text x="1624.2" y="2261.2" fill="#ff0051" stroke="#ff0051" stroke-width="0.3" font-size="17.8">+3.7</text>
<polygon fill="#008bfb" points="1613.8,2285.6 1610.5,2306.6 1613.8,2327.6"/>
<text x="1604.5" y="2312.6" fill="#008bfb" stroke="#008bfb" stroke-width="0.3" text-anchor="end" font-size="17.8">−1.59</text>
<text x="1152.9" y="1953.8" text-anchor="end" font-size="19.5" stroke="#000" stroke-width="0.3"><tspan fill="#999" stroke="#999" stroke-width="0.3">998 </tspan><tspan fill="#bbb" stroke="none">=</tspan> Precipitation</text>
<text x="1152.9" y="2005.2" text-anchor="end" font-size="19.5" stroke="#000" stroke-width="0.3"><tspan fill="#999" stroke="#999" stroke-width="0.3">29 </tspan><tspan fill="#bbb" stroke="none">=</tspan> Elevation</text>
<text x="1152.9" y="2056.6" text-anchor="end" font-size="19.5" stroke="#000" stroke-width="0.3"><tspan fill="#999" stroke="#999" stroke-width="0.3">0.255 </tspan><tspan fill="#bbb" stroke="none">=</tspan> NDVI</text>
<text x="1152.9" y="2108.0" text-anchor="end" font-size="19.5" stroke="#000" stroke-width="0.3"><tspan fill="#999" stroke="#999" stroke-width="0.3">2.993 </tspan><tspan fill="#bbb" stroke="none">=</tspan> Soil organic matter</text>
<text x="1152.9" y="2159.4" text-anchor="end" font-size="19.5" stroke="#000" stroke-width="0.3"><tspan fill="#999" stroke="#999" stroke-width="0.3">17.615 </tspan><tspan fill="#bbb" stroke="none">=</tspan> Temperature</text>
<text x="1152.9" y="2210.8" text-anchor="end" font-size="19.5" stroke="#000" stroke-width="0.3"><tspan fill="#999" stroke="#999" stroke-width="0.3">12.63 </tspan><tspan fill="#bbb" stroke="none">=</tspan> Distance(Housing estate)</text>
<text x="1152.9" y="2262.2" text-anchor="end" font-size="19.5" stroke="#000" stroke-width="0.3"><tspan fill="#999" stroke="#999" stroke-width="0.3">0.566 </tspan><tspan fill="#bbb" stroke="none">=</tspan> Distance(Road)</text>
<text x="1152.9" y="2313.6" text-anchor="end" font-size="19.5" stroke="#000" stroke-width="0.3"><tspan fill="#999" stroke="#999" stroke-width="0.3">1.789 </tspan><tspan fill="#bbb" stroke="none">=</tspan> Distance(Water)</text>
<line x1="1163.7" y1="2346.7" x2="1659.0" y2="2346.7" stroke="#222" stroke-width="1.6"/>
<g stroke="#222" stroke-width="1.6"><line x1="1257.1" y1="2346.7" x2="1257.1" y2="2352.7"/><line x1="1361.3" y1="2346.7" x2="1361.3" y2="2352.7"/><line x1="1465.5" y1="2346.7" x2="1465.5" y2="2352.7"/><line x1="1569.7" y1="2346.7" x2="1569.7" y2="2352.7"/><line x1="1613.8" y1="2346.7" x2="1613.8" y2="2352.7"/></g>
<text x="1257.1" y="2370.8" text-anchor="middle" font-size="18.5" stroke="#000" stroke-width="0.35">500</text>
<text x="1361.3" y="2370.8" text-anchor="middle" font-size="18.5" stroke="#000" stroke-width="0.35">550</text>
<text x="1465.5" y="2370.8" text-anchor="middle" font-size="18.5" stroke="#000" stroke-width="0.35">600</text>
<text x="1569.7" y="2370.8" text-anchor="middle" font-size="18.5" stroke="#000" stroke-width="0.35">650</text>
<line x1="1191.7" y1="1901.2" x2="1191.7" y2="1906.2" stroke="#222" stroke-width="1.6"/>
<text x="1178.3" y="1892.2" font-family="'DejaVu Sans','Liberation Sans',sans-serif" font-size="17.6"><tspan font-style="italic">f</tspan>(<tspan font-style="italic">x</tspan>)<tspan fill="#8c8c8c"> = 468.616</tspan></text>
<text x="1584.2" y="2393.0" font-family="'DejaVu Sans','Liberation Sans',sans-serif" font-size="18.4"><tspan font-style="italic">E</tspan>[<tspan font-style="italic">f</tspan>(<tspan font-style="italic">X</tspan>)]</text>
<text x="1651.7" y="2393.0" font-family="'DejaVu Sans','Liberation Sans',sans-serif" font-size="18.4" fill="#8c8c8c">= 671.175</text>
<text x="1202.3" y="1845.9" font-size="21.16" stroke="#000" stroke-width="0.3">SHAP Waterfall Explanation (Sample ID: 78840)</text>
<text x="898.5" y="1865.4" font-size="31.4">(h)</text></g></svg></body></html>
